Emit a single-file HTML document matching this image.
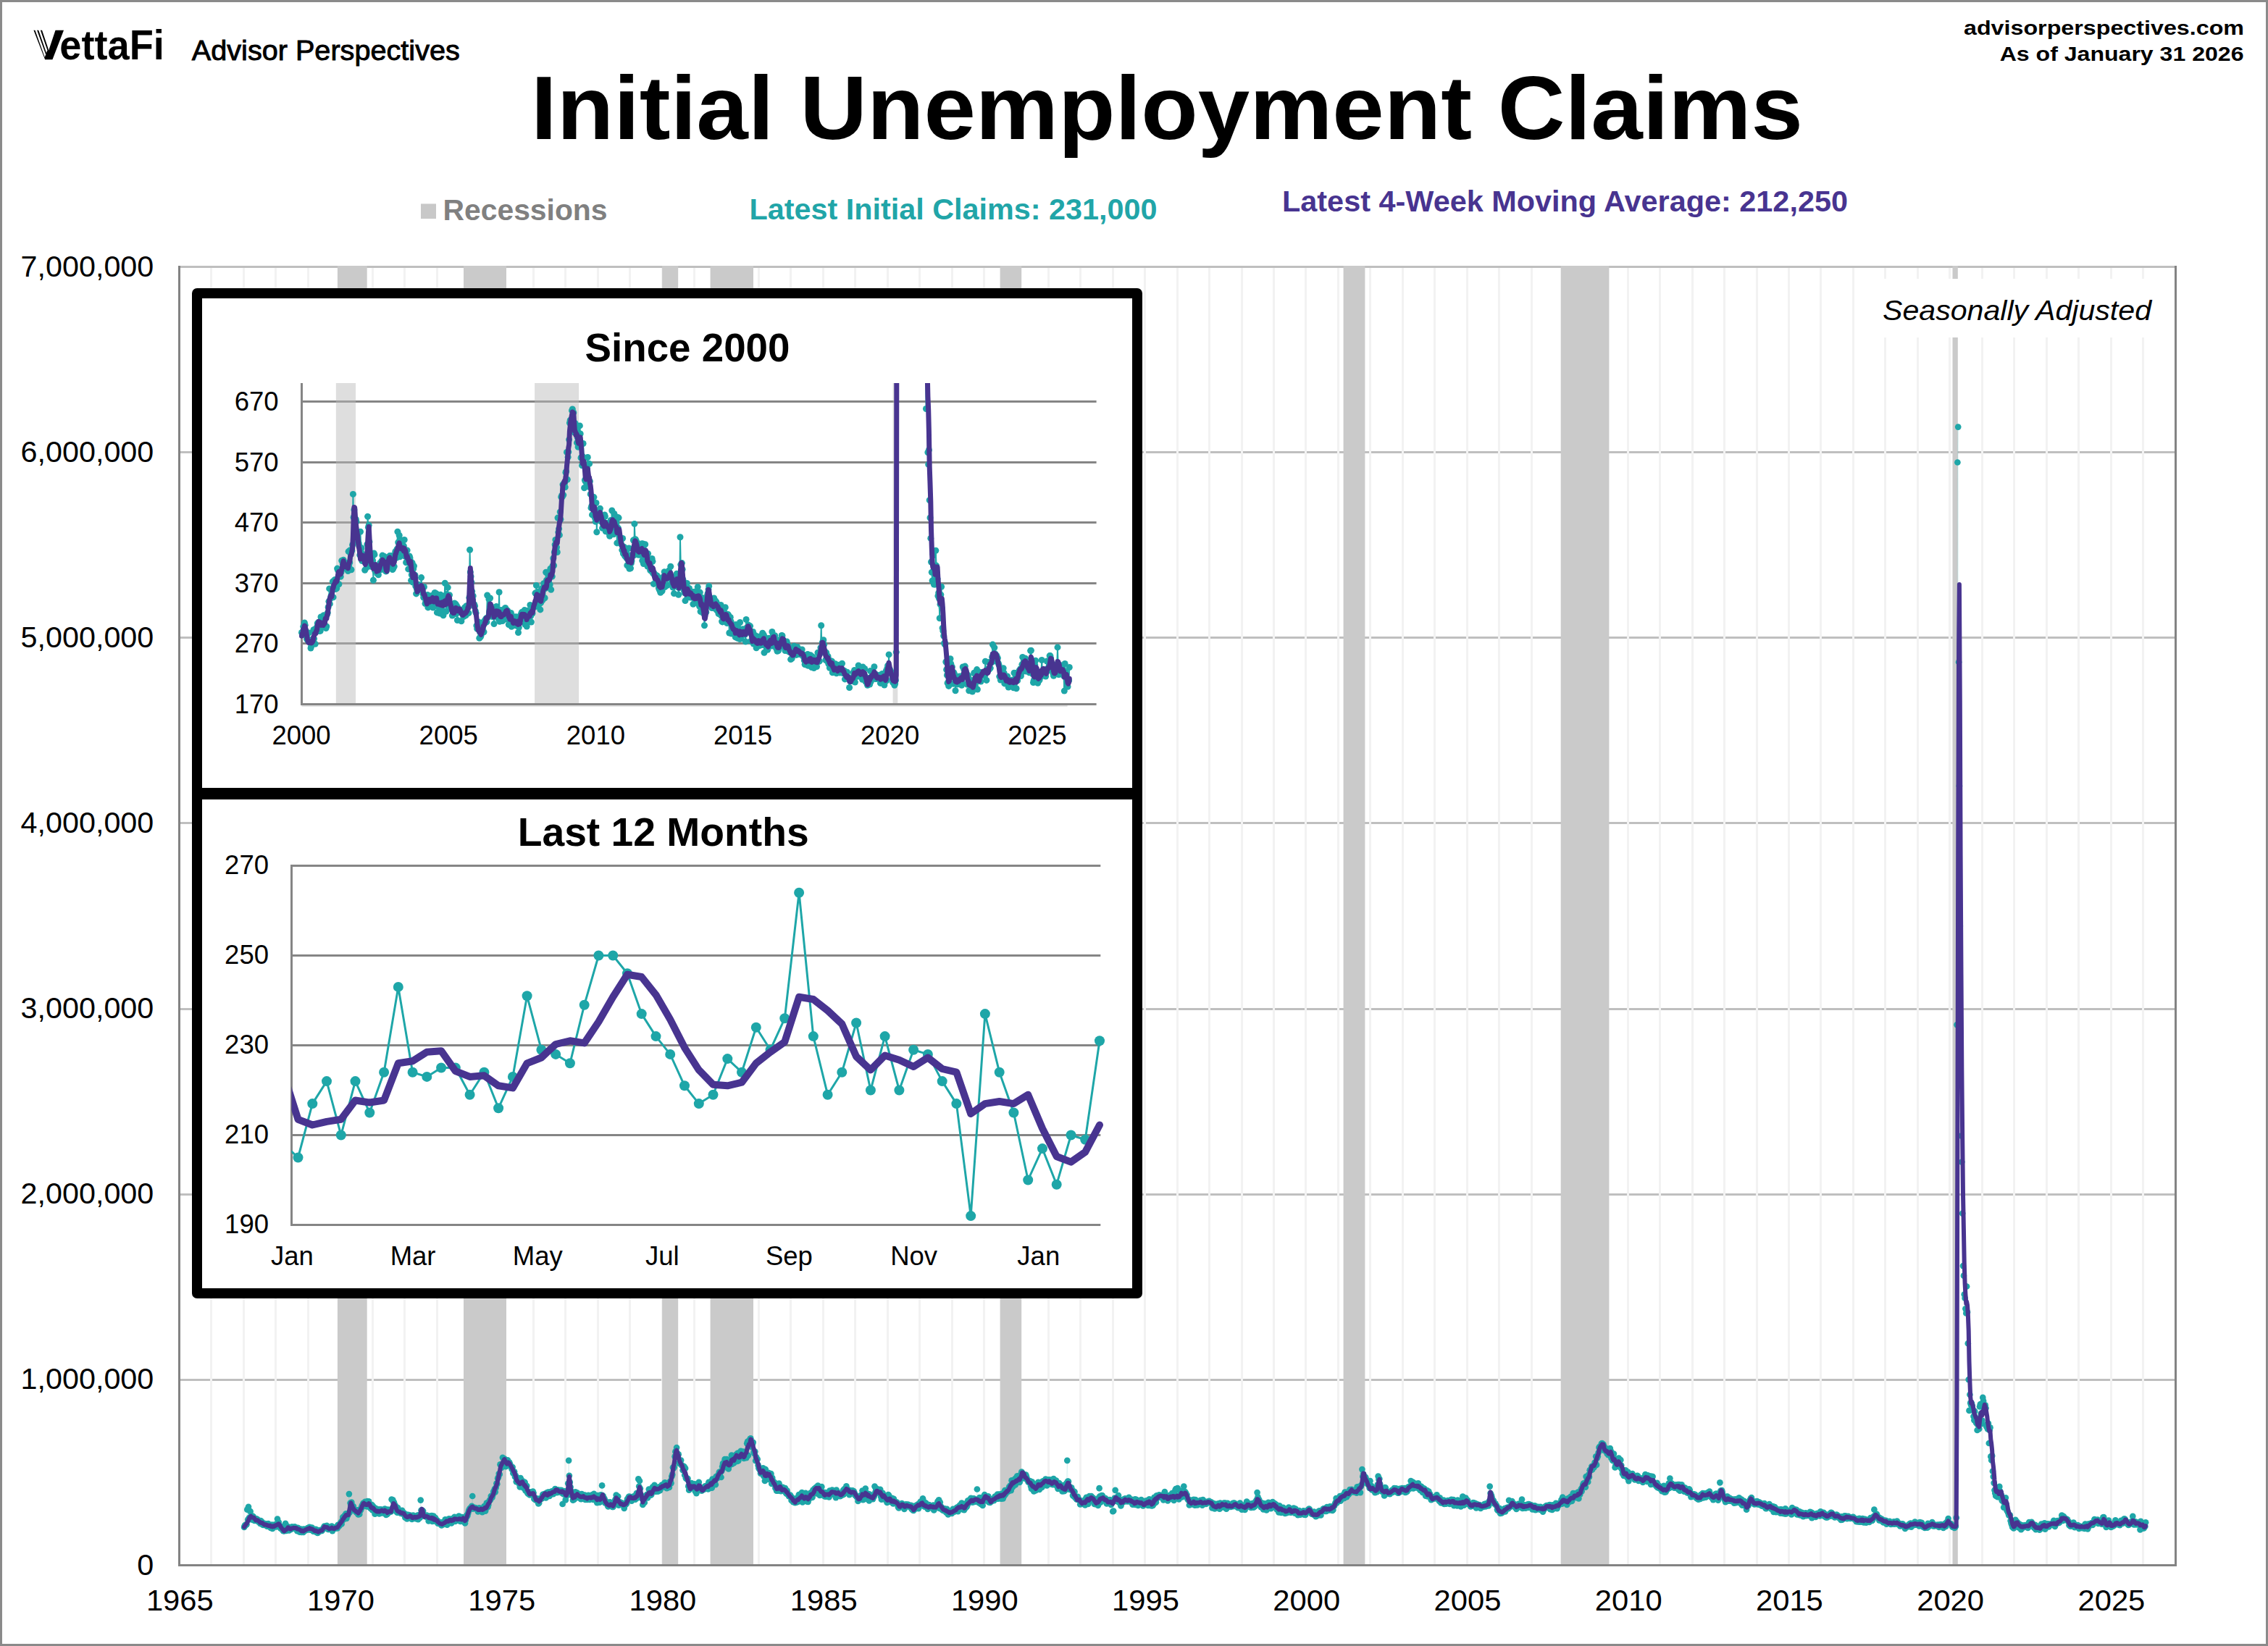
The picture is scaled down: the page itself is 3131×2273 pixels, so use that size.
<!DOCTYPE html>
<html lang="en"><head><meta charset="utf-8"><title>Initial Unemployment Claims</title>
<style>html,body{margin:0;padding:0;background:#fff}svg{display:block}</style></head>
<body>
<svg width="3131" height="2273" viewBox="0 0 3131 2273" font-family="Liberation Sans, Arial, Helvetica, sans-serif">
<defs>
<marker id="d1" viewBox="-4.35 -4.35 8.7 8.7" markerWidth="8.7" markerHeight="8.7" markerUnits="userSpaceOnUse" refX="0" refY="0" overflow="visible"><circle r="4.35" fill="#1EA6A8"/></marker>
<marker id="d2" viewBox="-4.5 -4.5 9.0 9.0" markerWidth="9.0" markerHeight="9.0" markerUnits="userSpaceOnUse" refX="0" refY="0" overflow="visible"><circle r="4.5" fill="#1EA6A8"/></marker>
<marker id="d3" viewBox="-7 -7 14 14" markerWidth="14" markerHeight="14" markerUnits="userSpaceOnUse" refX="0" refY="0" overflow="visible"><circle r="7" fill="#1EA6A8"/></marker>
<clipPath id="cA"><rect x="410.5" y="529" width="1109.1" height="451.5"/></clipPath>
<clipPath id="cB"><rect x="402.5" y="1185.5" width="1128.8" height="516.0"/></clipPath>
<clipPath id="cM"><rect x="247.5" y="368.5" width="2755.4" height="1793.0"/></clipPath>
</defs>
<rect width="3131" height="2273" fill="#fff"/>
<rect x="247.5" y="1904" width="2756" height="3" fill="#bfbfbf"/>
<rect x="247.5" y="1648" width="2756" height="3" fill="#bfbfbf"/>
<rect x="247.5" y="1392" width="2756" height="3" fill="#bfbfbf"/>
<rect x="247.5" y="1135" width="2756" height="3" fill="#bfbfbf"/>
<rect x="247.5" y="879" width="2756" height="3" fill="#bfbfbf"/>
<rect x="247.5" y="623" width="2756" height="3" fill="#bfbfbf"/>
<rect x="290" y="367" width="3" height="1794.5" fill="#f2f2f2"/>
<rect x="335" y="367" width="3" height="1794.5" fill="#f2f2f2"/>
<rect x="379" y="367" width="3" height="1794.5" fill="#f2f2f2"/>
<rect x="424" y="367" width="3" height="1794.5" fill="#f2f2f2"/>
<rect x="468" y="367" width="3" height="1794.5" fill="#f2f2f2"/>
<rect x="513" y="367" width="3" height="1794.5" fill="#f2f2f2"/>
<rect x="557" y="367" width="3" height="1794.5" fill="#f2f2f2"/>
<rect x="602" y="367" width="3" height="1794.5" fill="#f2f2f2"/>
<rect x="646" y="367" width="3" height="1794.5" fill="#f2f2f2"/>
<rect x="690" y="367" width="3" height="1794.5" fill="#f2f2f2"/>
<rect x="735" y="367" width="3" height="1794.5" fill="#f2f2f2"/>
<rect x="779" y="367" width="3" height="1794.5" fill="#f2f2f2"/>
<rect x="824" y="367" width="3" height="1794.5" fill="#f2f2f2"/>
<rect x="868" y="367" width="3" height="1794.5" fill="#f2f2f2"/>
<rect x="913" y="367" width="3" height="1794.5" fill="#f2f2f2"/>
<rect x="957" y="367" width="3" height="1794.5" fill="#f2f2f2"/>
<rect x="1001" y="367" width="3" height="1794.5" fill="#f2f2f2"/>
<rect x="1046" y="367" width="3" height="1794.5" fill="#f2f2f2"/>
<rect x="1090" y="367" width="3" height="1794.5" fill="#f2f2f2"/>
<rect x="1135" y="367" width="3" height="1794.5" fill="#f2f2f2"/>
<rect x="1179" y="367" width="3" height="1794.5" fill="#f2f2f2"/>
<rect x="1224" y="367" width="3" height="1794.5" fill="#f2f2f2"/>
<rect x="1268" y="367" width="3" height="1794.5" fill="#f2f2f2"/>
<rect x="1313" y="367" width="3" height="1794.5" fill="#f2f2f2"/>
<rect x="1357" y="367" width="3" height="1794.5" fill="#f2f2f2"/>
<rect x="1401" y="367" width="3" height="1794.5" fill="#f2f2f2"/>
<rect x="1446" y="367" width="3" height="1794.5" fill="#f2f2f2"/>
<rect x="1490" y="367" width="3" height="1794.5" fill="#f2f2f2"/>
<rect x="1535" y="367" width="3" height="1794.5" fill="#f2f2f2"/>
<rect x="1579" y="367" width="3" height="1794.5" fill="#f2f2f2"/>
<rect x="1624" y="367" width="3" height="1794.5" fill="#f2f2f2"/>
<rect x="1668" y="367" width="3" height="1794.5" fill="#f2f2f2"/>
<rect x="1713" y="367" width="3" height="1794.5" fill="#f2f2f2"/>
<rect x="1757" y="367" width="3" height="1794.5" fill="#f2f2f2"/>
<rect x="1801" y="367" width="3" height="1794.5" fill="#f2f2f2"/>
<rect x="1846" y="367" width="3" height="1794.5" fill="#f2f2f2"/>
<rect x="1890" y="367" width="3" height="1794.5" fill="#f2f2f2"/>
<rect x="1935" y="367" width="3" height="1794.5" fill="#f2f2f2"/>
<rect x="1979" y="367" width="3" height="1794.5" fill="#f2f2f2"/>
<rect x="2024" y="367" width="3" height="1794.5" fill="#f2f2f2"/>
<rect x="2068" y="367" width="3" height="1794.5" fill="#f2f2f2"/>
<rect x="2113" y="367" width="3" height="1794.5" fill="#f2f2f2"/>
<rect x="2157" y="367" width="3" height="1794.5" fill="#f2f2f2"/>
<rect x="2201" y="367" width="3" height="1794.5" fill="#f2f2f2"/>
<rect x="2246" y="367" width="3" height="1794.5" fill="#f2f2f2"/>
<rect x="2290" y="367" width="3" height="1794.5" fill="#f2f2f2"/>
<rect x="2335" y="367" width="3" height="1794.5" fill="#f2f2f2"/>
<rect x="2379" y="367" width="3" height="1794.5" fill="#f2f2f2"/>
<rect x="2424" y="367" width="3" height="1794.5" fill="#f2f2f2"/>
<rect x="2468" y="367" width="3" height="1794.5" fill="#f2f2f2"/>
<rect x="2512" y="367" width="3" height="1794.5" fill="#f2f2f2"/>
<rect x="2557" y="367" width="3" height="1794.5" fill="#f2f2f2"/>
<rect x="2601" y="367" width="3" height="1794.5" fill="#f2f2f2"/>
<rect x="2646" y="367" width="3" height="1794.5" fill="#f2f2f2"/>
<rect x="2690" y="367" width="3" height="1794.5" fill="#f2f2f2"/>
<rect x="2735" y="367" width="3" height="1794.5" fill="#f2f2f2"/>
<rect x="2779" y="367" width="3" height="1794.5" fill="#f2f2f2"/>
<rect x="2824" y="367" width="3" height="1794.5" fill="#f2f2f2"/>
<rect x="2868" y="367" width="3" height="1794.5" fill="#f2f2f2"/>
<rect x="2913" y="367" width="3" height="1794.5" fill="#f2f2f2"/>
<rect x="2957" y="367" width="3" height="1794.5" fill="#f2f2f2"/>
<rect x="247.5" y="367" width="2756" height="3" fill="#bfbfbf"/>
<rect x="465.9" y="367.0" width="40.8" height="1794.5" fill="#cacaca"/>
<rect x="640" y="367.0" width="59" height="1794.5" fill="#cacaca"/>
<rect x="914.1" y="367.0" width="22.1" height="1794.5" fill="#cacaca"/>
<rect x="980.6" y="367.0" width="59.4" height="1794.5" fill="#cacaca"/>
<rect x="1380.6" y="367.0" width="29.6" height="1794.5" fill="#cacaca"/>
<rect x="1854.6" y="367.0" width="29.8" height="1794.5" fill="#cacaca"/>
<rect x="2154.7" y="367.0" width="66.7" height="1794.5" fill="#cacaca"/>
<rect x="2695.5" y="367.0" width="7.3" height="1794.5" fill="#cacaca"/>
<polyline points="337.1,2108.9 337.9,2106.5 338.8,2106.5 339.6,2105.3 340.5,2105.1 341.3,2084.7 342.2,2098.6 343,2080.8 343.9,2096 344.7,2096.3 345.6,2087.2 346.4,2094.3 347.3,2098.5 348.1,2093.4 349,2094.4 349.8,2094.7 350.7,2099.5 351.5,2099.9 352.4,2098.4 353.2,2098.2 354.1,2097.4 354.9,2098.8 355.8,2098.5 356.6,2101.5 357.5,2100.4 358.3,2101 359.2,2103.8 360.1,2100.1 360.9,2102.9 361.8,2101.9 362.6,2105.5 363.5,2105.9 364.3,2105.4 365.2,2105.2 366,2104.1 366.9,2105 367.7,2106.5 368.6,2107.6 369.4,2107.1 370.3,2104.2 371.1,2108 372,2106.4 372.8,2106.3 373.7,2109.8 374.5,2107.4 375.4,2105.5 376.2,2110.9 377.1,2107.7 377.9,2107.1 378.8,2108 379.6,2105.4 380.5,2106.1 381.3,2108.3 382.2,2104 383,2097.5 383.9,2103.2 384.8,2102.1 385.6,2106 386.5,2107.3 387.3,2110.6 388.2,2108.2 389,2111.1 389.9,2111.6 390.7,2113.8 391.6,2114.1 392.4,2114.1 393.3,2110.6 394.1,2103.9 395,2113.8 395.8,2110.4 396.7,2107.8 397.5,2108.6 398.4,2112.8 399.2,2113.4 400.1,2109.3 400.9,2111.2 401.8,2112 402.6,2108.7 403.5,2108.6 404.3,2110.3 405.2,2110.3 406,2110.1 406.9,2108.4 407.8,2110.1 408.6,2110.4 409.5,2110.6 410.3,2114.2 411.2,2109.9 412,2110.6 412.9,2111.5 413.7,2115.6 414.6,2113.7 415.4,2111.7 416.3,2116 417.1,2113.7 418,2112.1 418.8,2115.8 419.7,2111.6 420.5,2113 421.4,2113.7 422.2,2112.5 423.1,2111.6 423.9,2112 424.8,2110 425.6,2112.5 426.5,2111.7 427.3,2108.9 428.2,2110.8 429,2112.6 429.9,2110 430.7,2109.6 431.6,2112.9 432.5,2114.7 433.3,2113.1 434.2,2113.5 435,2114.1 435.9,2111.9 436.7,2115.9 437.6,2112.8 438.4,2116.9 439.3,2116.2 440.1,2113.9 441,2113 441.8,2113.3 442.7,2113.9 443.5,2114 444.4,2113.9 445.2,2111.9 446.1,2111.7 446.9,2109.6 447.8,2107.7 448.6,2108.9 449.5,2108 450.3,2108.8 451.2,2106.9 452,2110.1 452.9,2111.8 453.7,2111.8 454.6,2111.1 455.4,2109.5 456.3,2111.4 457.2,2110.1 458,2107.7 458.9,2114.1 459.7,2112.3 460.6,2109.9 461.4,2109.5 462.3,2109.7 463.1,2110.7 464,2108.8 464.8,2109.3 465.7,2110.5 466.5,2105.9 467.4,2107.4 468.2,2107.4 469.1,2105.1 469.9,2103.8 470.8,2101.9 471.6,2104.5 472.5,2099.6 473.3,2095 474.2,2098.5 475,2095.6 475.9,2092.8 476.7,2092.4 477.6,2090.4 478.4,2096.8 479.3,2093.2 480.1,2092.6 481,2089.8 481.9,2063.1 482.7,2088.6 483.6,2075.5 484.4,2078.4 485.3,2074.6 486.1,2082.6 487,2080.4 487.8,2080 488.7,2085.5 489.5,2085.6 490.4,2085 491.2,2087.3 492.1,2088.6 492.9,2085.6 493.8,2087.6 494.6,2091.4 495.5,2085 496.3,2090.9 497.2,2084.3 498,2085.3 498.9,2082.6 499.7,2079.3 500.6,2078.7 501.4,2075.8 502.3,2079.9 503.1,2079.5 504,2073.9 504.8,2078.5 505.7,2078.9 506.6,2080.3 507.4,2073.1 508.3,2074.8 509.1,2073.4 510,2080.8 510.8,2079.3 511.7,2083.2 512.5,2079.2 513.4,2078.1 514.2,2085.3 515.1,2080.2 515.9,2082.6 516.8,2086 517.6,2090.7 518.5,2082.8 519.3,2086.8 520.2,2088.3 521,2086.2 521.9,2086.5 522.7,2084.3 523.6,2090.5 524.4,2085.5 525.3,2084.5 526.1,2084.5 527,2088.2 527.8,2089.4 528.7,2085 529.5,2087.1 530.4,2086.9 531.3,2083.7 532.1,2087.5 533,2092 533.8,2087.6 534.7,2090.9 535.5,2084.6 536.4,2086.1 537.2,2088.5 538.1,2087.3 538.9,2085.5 539.8,2087.5 540.6,2070.6 541.5,2082.8 542.3,2071.3 543.2,2074.3 544,2074.9 544.9,2081.8 545.7,2078.8 546.6,2086.7 547.4,2085.6 548.3,2088.7 549.1,2082.1 550,2088.7 550.8,2086.6 551.7,2087.9 552.5,2088.1 553.4,2090 554.3,2088.7 555.1,2085.8 556,2090.4 556.8,2089.9 557.7,2089.4 558.5,2092.7 559.4,2095.7 560.2,2094.7 561.1,2091.6 561.9,2097.5 562.8,2095.3 563.6,2091.9 564.5,2092.5 565.3,2094.2 566.2,2092.6 567,2094 567.9,2097 568.7,2097.9 569.6,2096 570.4,2092.6 571.3,2095.6 572.1,2096.2 573,2095.8 573.8,2097.2 574.7,2094 575.5,2096.2 576.4,2092.6 577.2,2098.1 578.1,2092.4 579,2094.4 579.8,2095.8 580.7,2071.6 581.5,2085.6 582.4,2087.2 583.2,2085.9 584.1,2086.8 584.9,2092.3 585.8,2093 586.6,2093.3 587.5,2093.7 588.3,2094.6 589.2,2092.6 590,2094.3 590.9,2094.9 591.7,2100.4 592.6,2094.4 593.4,2093.7 594.3,2097.3 595.1,2097.8 596,2093.1 596.8,2100.9 597.7,2096.5 598.5,2093.6 599.4,2100.5 600.2,2097.8 601.1,2096 601.9,2100.5 602.8,2099.8 603.7,2099.7 604.5,2103.7 605.4,2102.7 606.2,2102.6 607.1,2102.2 607.9,2104.3 608.8,2105.2 609.6,2106.4 610.5,2104.9 611.3,2102.2 612.2,2103.3 613,2104.8 613.9,2104.4 614.7,2098.3 615.6,2099.9 616.4,2100.5 617.3,2105.6 618.1,2099.9 619,2099.9 619.8,2097.3 620.7,2099.5 621.5,2100.2 622.4,2098.8 623.2,2103.5 624.1,2097.3 624.9,2098.5 625.8,2100.3 626.6,2096 627.5,2094.8 628.4,2101 629.2,2099.3 630.1,2097.1 630.9,2097.1 631.8,2098.4 632.6,2099.7 633.5,2093.5 634.3,2095.9 635.2,2100.6 636,2101 636.9,2095 637.7,2096.6 638.6,2095 639.4,2097.2 640.3,2100.7 641.1,2098.6 642,2103.5 642.8,2099.1 643.7,2095.7 644.5,2092.3 645.4,2093.1 646.2,2089.7 647.1,2086.3 647.9,2084.5 648.8,2082.9 649.6,2083.1 650.5,2083.5 651.3,2079.8 652.2,2066 653.1,2083.3 653.9,2083.1 654.8,2081.9 655.6,2082.6 656.5,2082.3 657.3,2083.1 658.2,2083 659,2084.2 659.9,2087.3 660.7,2083.6 661.6,2082.4 662.4,2084.3 663.3,2085.5 664.1,2083.4 665,2086.4 665.8,2088.2 666.7,2082.8 667.5,2084.8 668.4,2080 669.2,2084.2 670.1,2086.6 670.9,2083.1 671.8,2075.7 672.6,2079.6 673.5,2080.9 674.3,2078 675.2,2073.1 676.1,2071.7 676.9,2071.3 677.8,2066.1 678.6,2067 679.5,2067.8 680.3,2064.6 681.2,2059.9 682,2059.2 682.9,2056.1 683.7,2060.3 684.6,2054.4 685.4,2048.5 686.3,2049.3 687.1,2041.5 688,2039.9 688.8,2035 689.7,2035.9 690.5,2022.4 691.4,2022.7 692.2,2027 693.1,2023.9 693.9,2012.8 694.8,2022.4 695.6,2015.1 696.5,2014.5 697.3,2019.4 698.2,2025.2 699,2019.6 699.9,2019.3 700.8,2016.3 701.6,2018.4 702.5,2022.3 703.3,2019.7 704.2,2022.2 705,2024.8 705.9,2026.5 706.7,2028.9 707.6,2026.1 708.4,2034.5 709.3,2033.8 710.1,2032.3 711,2039.4 711.8,2037.6 712.7,2046.1 713.5,2043.2 714.4,2040.8 715.2,2043.2 716.1,2047.9 716.9,2049.1 717.8,2053.4 718.6,2041.1 719.5,2046.4 720.3,2044.3 721.2,2051.5 722,2049 722.9,2054.9 723.7,2046.6 724.6,2047.2 725.5,2058.4 726.3,2053.1 727.2,2051.9 728,2061.2 728.9,2062.6 729.7,2061.1 730.6,2060.8 731.4,2064.4 732.3,2060.6 733.1,2060.8 734,2060.5 734.8,2061.2 735.7,2059.6 736.5,2061.6 737.4,2070 738.2,2068.4 739.1,2070.9 739.9,2071.7 740.8,2069.6 741.6,2070.2 742.5,2069.6 743.3,2076.4 744.2,2075.5 745,2071 745.9,2070.5 746.7,2069.9 747.6,2068.1 748.4,2069.2 749.3,2063.8 750.2,2063.8 751,2064.2 751.9,2065.1 752.7,2062.5 753.6,2068.4 754.4,2064.5 755.3,2061.2 756.1,2066.2 757,2060.7 757.8,2060.9 758.7,2065.8 759.5,2062.2 760.4,2062.4 761.2,2059.9 762.1,2059.4 762.9,2061.2 763.8,2063.2 764.6,2060.3 765.5,2059.4 766.3,2056.1 767.2,2056.9 768,2059.7 768.9,2061.2 769.7,2057.3 770.6,2058.6 771.4,2060.5 772.3,2057.9 773.1,2059.8 774,2058.6 774.9,2057.9 775.7,2061.7 776.6,2077 777.4,2062.8 778.3,2059 779.1,2062.8 780,2060.4 780.8,2071.4 781.7,2066.4 782.5,2061.4 783.4,2058.3 784.2,2048.6 785.1,2016.8 785.9,2037.8 786.8,2046.9 787.6,2053.5 788.5,2059.4 789.3,2064.7 790.2,2065.8 791,2071.7 791.9,2064.5 792.7,2070.7 793.6,2066.4 794.4,2060.3 795.3,2066.9 796.1,2065.7 797,2061.7 797.8,2065 798.7,2068.1 799.6,2065.4 800.4,2065 801.3,2065.2 802.1,2070.2 803,2063.2 803.8,2063.8 804.7,2068.7 805.5,2068 806.4,2070 807.2,2064.6 808.1,2070.9 808.9,2066.8 809.8,2070.2 810.6,2070.8 811.5,2066.6 812.3,2064.8 813.2,2068.8 814,2070.8 814.9,2066.4 815.7,2068.9 816.6,2067.9 817.4,2064.4 818.3,2065.7 819.1,2070.8 820,2062.9 820.8,2069.5 821.7,2067.3 822.6,2071.7 823.4,2070 824.3,2075.2 825.1,2065 826,2066.3 826.8,2074 827.7,2074.7 828.5,2073.8 829.4,2064.3 830.2,2068 831.1,2051.4 831.9,2065.2 832.8,2066.4 833.6,2071 834.5,2069.5 835.3,2075.5 836.2,2073.3 837,2074 837.9,2075.3 838.7,2078.6 839.6,2080.5 840.4,2077.8 841.3,2079.7 842.1,2074.3 843,2076.6 843.8,2079 844.7,2080.1 845.5,2080.8 846.4,2080.9 847.3,2077.8 848.1,2074.4 849,2072.1 849.8,2070.3 850.7,2064.6 851.5,2073.4 852.4,2072 853.2,2066.5 854.1,2078.7 854.9,2075.6 855.8,2074.4 856.6,2075.2 857.5,2075.2 858.3,2077.7 859.2,2076.7 860,2078.3 860.9,2076.8 861.7,2082.8 862.6,2079 863.4,2075.4 864.3,2077.1 865.1,2076 866,2070.1 866.8,2072.7 867.7,2067.7 868.5,2066.5 869.4,2067.8 870.2,2067.1 871.1,2068.8 872,2072.6 872.8,2068.5 873.7,2066.9 874.5,2069.8 875.4,2068.4 876.2,2065.8 877.1,2070.6 877.9,2066 878.8,2062.2 879.6,2068.7 880.5,2063.4 881.3,2042.4 882.2,2052.5 883,2045 883.9,2055.6 884.7,2064.3 885.6,2065.8 886.4,2069.3 887.3,2077.9 888.1,2068.2 889,2068.5 889.8,2075 890.7,2066.5 891.5,2067.9 892.4,2064.9 893.2,2063.9 894.1,2068.5 894.9,2063.3 895.8,2056.6 896.7,2062.9 897.5,2064 898.4,2064.7 899.2,2063.9 900.1,2058.5 900.9,2053.7 901.8,2057.5 902.6,2057.7 903.5,2050.9 904.3,2059.6 905.2,2059.7 906,2055.2 906.9,2054.6 907.7,2059.3 908.6,2059.3 909.4,2053.8 910.3,2053.4 911.1,2058.2 912,2053.9 912.8,2054.5 913.7,2050.5 914.5,2052.3 915.4,2052.3 916.2,2053.3 917.1,2048.5 917.9,2047.4 918.8,2053.6 919.6,2049.5 920.5,2055.2 921.4,2052.4 922.2,2050.1 923.1,2047.5 923.9,2054 924.8,2049.5 925.6,2045.1 926.5,2048.1 927.3,2038.9 928.2,2036.4 929,2026.5 929.9,2027.6 930.7,2026.2 931.6,2011.3 932.4,2004.7 933.3,2003.9 934.1,1999 935,2007.3 935.8,2011.3 936.7,2008.4 937.5,2020.6 938.4,2018.7 939.2,2018 940.1,2016.5 940.9,2023.4 941.8,2023.8 942.6,2030.2 943.5,2028.4 944.4,2025.1 945.2,2037 946.1,2027.7 946.9,2041.3 947.8,2041 948.6,2042.7 949.5,2041.8 950.3,2052.4 951.2,2057.7 952,2050.3 952.9,2052 953.7,2053.5 954.6,2048.1 955.4,2054.7 956.3,2054.4 957.1,2052 958,2053.8 958.8,2049.3 959.7,2059.1 960.5,2056 961.4,2062.1 962.2,2051.7 963.1,2055.7 963.9,2051.1 964.8,2046.8 965.6,2054.1 966.5,2054.8 967.3,2056.4 968.2,2058.4 969.1,2058.5 969.9,2055.1 970.8,2057 971.6,2056.3 972.5,2056.5 973.3,2052.3 974.2,2053.1 975,2054.7 975.9,2051.4 976.7,2053.6 977.6,2056.5 978.4,2046.9 979.3,2049.7 980.1,2054.2 981,2046.4 981.8,2048.4 982.7,2054.7 983.5,2042.7 984.4,2046.7 985.2,2044.1 986.1,2046.1 986.9,2046.4 987.8,2050.2 988.6,2039.2 989.5,2041.3 990.3,2041.1 991.2,2037.1 992,2036.7 992.9,2032.8 993.8,2035.6 994.6,2032.7 995.5,2040 996.3,2031.4 997.2,2025.3 998,2020.9 998.9,2026.8 999.7,2024.3 1000.6,2015.2 1001.4,2022.3 1002.3,2018 1003.1,2015.2 1004,2023.8 1004.8,2020 1005.7,2028.5 1006.5,2023.3 1007.4,2023.5 1008.2,2021.5 1009.1,2015.7 1009.9,2009.7 1010.8,2021.6 1011.6,2020.1 1012.5,2014 1013.3,2020.1 1014.2,2011.6 1015,2010.1 1015.9,2013 1016.7,2008.4 1017.6,2018 1018.5,2006.5 1019.3,2017.2 1020.2,2012.7 1021,2011.6 1021.9,2010.5 1022.7,2003.9 1023.6,2007.3 1024.4,2010.6 1025.3,2007.8 1026.1,2004.7 1027,2014 1027.8,2012.2 1028.7,2005.5 1029.5,2007.8 1030.4,2013.1 1031.2,1993.3 1032.1,1990.7 1032.9,2009.8 1033.8,1997.4 1034.6,1992.6 1035.5,1987.2 1036.3,1986.3 1037.2,1991.6 1038,1998.2 1038.9,1994.3 1039.7,1991.8 1040.6,2005.2 1041.4,2007.2 1042.3,2004.6 1043.2,2017.2 1044,2012.1 1044.9,2016 1045.7,2015 1046.6,2023.4 1047.4,2027.3 1048.3,2028.3 1049.1,2029.9 1050,2034.6 1050.8,2032.4 1051.7,2030 1052.5,2028.8 1053.4,2027.4 1054.2,2038.1 1055.1,2037.2 1055.9,2044.9 1056.8,2029.1 1057.6,2039.8 1058.5,2036.7 1059.3,2034.2 1060.2,2041.5 1061,2033.8 1061.9,2035.5 1062.7,2043.1 1063.6,2036.7 1064.4,2035.2 1065.3,2049 1066.2,2040.9 1067,2045.2 1067.9,2046.3 1068.7,2048.4 1069.6,2047.5 1070.4,2054.9 1071.3,2053.2 1072.1,2058.7 1073,2054.2 1073.8,2058.7 1074.7,2055.6 1075.5,2048.6 1076.4,2052.5 1077.2,2055.1 1078.1,2059.1 1078.9,2058.5 1079.8,2055.8 1080.6,2053.9 1081.5,2056.3 1082.3,2056.6 1083.2,2059.1 1084,2055.2 1084.9,2061.4 1085.7,2062.6 1086.6,2058.6 1087.4,2062.2 1088.3,2064.3 1089.1,2066.2 1090,2066.2 1090.9,2064.5 1091.7,2066.3 1092.6,2071.9 1093.4,2068.1 1094.3,2069.8 1095.1,2074.2 1096,2070 1096.8,2074 1097.7,2075.1 1098.5,2071.3 1099.4,2069.2 1100.2,2074.3 1101.1,2070.5 1101.9,2073.7 1102.8,2064.2 1103.6,2071.5 1104.5,2065.9 1105.3,2070.8 1106.2,2065.9 1107,2061.2 1107.9,2074.4 1108.7,2069.2 1109.6,2066.5 1110.4,2068.4 1111.3,2070.2 1112.1,2061.9 1113,2068.2 1113.8,2073.4 1114.7,2066.1 1115.6,2073.8 1116.4,2065.3 1117.3,2069.4 1118.1,2066.1 1119,2061.6 1119.8,2064.1 1120.7,2067.8 1121.5,2067.7 1122.4,2057.5 1123.2,2057.9 1124.1,2061.9 1124.9,2055.3 1125.8,2055.4 1126.6,2053.9 1127.5,2062.5 1128.3,2055 1129.2,2051.7 1130,2053.3 1130.9,2053.7 1131.7,2064.9 1132.6,2057.9 1133.4,2057.8 1134.3,2053.2 1135.1,2064.3 1136,2063.2 1136.8,2063 1137.7,2061.2 1138.5,2066.3 1139.4,2061 1140.3,2066.7 1141.1,2063.1 1142,2065.2 1142.8,2062.7 1143.7,2065 1144.5,2067.5 1145.4,2058.6 1146.2,2060.8 1147.1,2063.2 1147.9,2060.4 1148.8,2057.5 1149.6,2063.5 1150.5,2060.9 1151.3,2059 1152.2,2059.3 1153,2062.2 1153.9,2068.1 1154.7,2057.6 1155.6,2060.8 1156.4,2062 1157.3,2063.1 1158.1,2061.6 1159,2064 1159.8,2066.1 1160.7,2065.4 1161.5,2064.3 1162.4,2063.5 1163.2,2064.5 1164.1,2057.9 1165,2063.4 1165.8,2056.1 1166.7,2060.9 1167.5,2055.6 1168.4,2052.4 1169.2,2056.6 1170.1,2060 1170.9,2057.7 1171.8,2057.6 1172.6,2064.1 1173.5,2060.7 1174.3,2058.4 1175.2,2060.7 1176,2059.6 1176.9,2058.3 1177.7,2059 1178.6,2059.3 1179.4,2061.1 1180.3,2064.7 1181.1,2064.6 1182,2066.2 1182.8,2067.1 1183.7,2067.5 1184.5,2072.9 1185.4,2069.5 1186.2,2068.4 1187.1,2070.6 1187.9,2067 1188.8,2064.7 1189.7,2066.1 1190.5,2058.5 1191.4,2071.1 1192.2,2064.3 1193.1,2068.7 1193.9,2059.1 1194.8,2055.5 1195.6,2070 1196.5,2063.1 1197.3,2062.4 1198.2,2065.5 1199,2063.4 1199.9,2072.3 1200.7,2063.5 1201.6,2065.5 1202.4,2067 1203.3,2069.4 1204.1,2066.2 1205,2070.1 1205.8,2066.5 1206.7,2066.6 1207.5,2052.6 1208.4,2060.8 1209.2,2057.8 1210.1,2055.5 1210.9,2061.7 1211.8,2059.8 1212.7,2058.5 1213.5,2060.9 1214.4,2058.3 1215.2,2056.8 1216.1,2066.8 1216.9,2070.7 1217.8,2063 1218.6,2061.9 1219.5,2064.6 1220.3,2065.5 1221.2,2070.1 1222,2070.8 1222.9,2066.4 1223.7,2072 1224.6,2075 1225.4,2073 1226.3,2064 1227.1,2065.2 1228,2073.1 1228.8,2073.6 1229.7,2071.2 1230.5,2074.3 1231.4,2068.8 1232.2,2073.1 1233.1,2076.3 1233.9,2069.9 1234.8,2075.6 1235.6,2073.7 1236.5,2074.7 1237.4,2075.9 1238.2,2074.5 1239.1,2077.6 1239.9,2081.1 1240.8,2082.4 1241.6,2080.2 1242.5,2079.1 1243.3,2077.3 1244.2,2077.3 1245,2076.1 1245.9,2077.5 1246.7,2080.1 1247.6,2080.1 1248.4,2084 1249.3,2079 1250.1,2077.5 1251,2077.5 1251.8,2079.6 1252.7,2080.1 1253.5,2077.6 1254.4,2080.4 1255.2,2079 1256.1,2079.8 1256.9,2081.2 1257.8,2078.8 1258.6,2084 1259.5,2083.9 1260.3,2085.4 1261.2,2085.8 1262.1,2080.3 1262.9,2079.7 1263.8,2083.3 1264.6,2081.2 1265.5,2078.9 1266.3,2079.2 1267.2,2077.4 1268,2083.1 1268.9,2080.8 1269.7,2077.2 1270.6,2073.8 1271.4,2076.7 1272.3,2078.6 1273.1,2076.6 1274,2069.3 1274.8,2079.1 1275.7,2073.8 1276.5,2080.6 1277.4,2080 1278.2,2075.6 1279.1,2079.2 1279.9,2081.7 1280.8,2084 1281.6,2081.4 1282.5,2078.2 1283.3,2080.7 1284.2,2079 1285,2081.8 1285.9,2080.7 1286.8,2082.4 1287.6,2080.8 1288.5,2078.5 1289.3,2085.4 1290.2,2081.8 1291,2080.6 1291.9,2082.2 1292.7,2080.9 1293.6,2077.5 1294.4,2073.7 1295.3,2076.7 1296.1,2071.3 1297,2083 1297.8,2074.6 1298.7,2080.1 1299.5,2081.1 1300.4,2084.6 1301.2,2082.6 1302.1,2085.9 1302.9,2083.7 1303.8,2083.4 1304.6,2085.2 1305.5,2085.3 1306.3,2088.7 1307.2,2083.8 1308,2088.8 1308.9,2091.5 1309.7,2087.7 1310.6,2089 1311.5,2089.6 1312.3,2088.1 1313.2,2086.5 1314,2090 1314.9,2087.5 1315.7,2083.8 1316.6,2085.6 1317.4,2087.6 1318.3,2086.7 1319.1,2086.2 1320,2085 1320.8,2081.9 1321.7,2082.9 1322.5,2087.2 1323.4,2080.5 1324.2,2082.2 1325.1,2078.5 1325.9,2082.1 1326.8,2080.5 1327.6,2075.6 1328.5,2084.2 1329.3,2083.9 1330.2,2083.8 1331,2085.1 1331.9,2083.4 1332.7,2076.5 1333.6,2078.4 1334.5,2080.9 1335.3,2079 1336.2,2072.3 1337,2075.6 1337.9,2074.7 1338.7,2072.9 1339.6,2070.3 1340.4,2068.9 1341.3,2071.6 1342.1,2074.3 1343,2074.4 1343.8,2069.3 1344.7,2069.7 1345.5,2074 1346.4,2071.2 1347.2,2071.1 1348.1,2071.2 1348.9,2056.5 1349.8,2074 1350.6,2071.2 1351.5,2075.1 1352.3,2068.1 1353.2,2071.1 1354,2077 1354.9,2070.7 1355.7,2072.3 1356.6,2078.9 1357.4,2067.1 1358.3,2068.8 1359.2,2064 1360,2072.5 1360.9,2066.2 1361.7,2067 1362.6,2068.1 1363.4,2068.6 1364.3,2066.4 1365.1,2074.3 1366,2074 1366.8,2074.9 1367.7,2072.9 1368.5,2073.3 1369.4,2070.1 1370.2,2070.1 1371.1,2070.4 1371.9,2072.1 1372.8,2071.1 1373.6,2066.7 1374.5,2066.9 1375.3,2068.5 1376.2,2069.5 1377,2063.5 1377.9,2069.6 1378.7,2065.6 1379.6,2063.7 1380.4,2067.7 1381.3,2064.1 1382.1,2069.7 1383,2062.8 1383.9,2064.5 1384.7,2069.3 1385.6,2061.5 1386.4,2065.7 1387.3,2058 1388.1,2063.5 1389,2061.1 1389.8,2058.8 1390.7,2060.1 1391.5,2057.4 1392.4,2059.2 1393.2,2053.3 1394.1,2053.8 1394.9,2051.3 1395.8,2058.1 1396.6,2044.4 1397.5,2046.7 1398.3,2053.1 1399.2,2046.1 1400,2044.8 1400.9,2042.6 1401.7,2050.5 1402.6,2040.8 1403.4,2047.1 1404.3,2038.4 1405.1,2047 1406,2042.7 1406.8,2045.3 1407.7,2046.8 1408.6,2037 1409.4,2036.4 1410.3,2032.6 1411.1,2033.9 1412,2038.3 1412.8,2041.4 1413.7,2036.2 1414.5,2038 1415.4,2040.4 1416.2,2036.6 1417.1,2039.4 1417.9,2043.5 1418.8,2043.6 1419.6,2046.6 1420.5,2046.3 1421.3,2045.2 1422.2,2045.3 1423,2052.1 1423.9,2055.8 1424.7,2046.3 1425.6,2051.8 1426.4,2049.2 1427.3,2059.5 1428.1,2054.9 1429,2053.4 1429.8,2058.2 1430.7,2054.8 1431.5,2050.3 1432.4,2048.8 1433.3,2046.8 1434.1,2055.1 1435,2056.8 1435.8,2049.4 1436.7,2047.3 1437.5,2049.3 1438.4,2054 1439.2,2045.9 1440.1,2045.3 1440.9,2045.5 1441.8,2048.7 1442.6,2045.2 1443.5,2042.7 1444.3,2047.1 1445.2,2051.4 1446,2043.8 1446.9,2043.7 1447.7,2046 1448.6,2043.3 1449.4,2049.2 1450.3,2047.9 1451.1,2049.2 1452,2046.5 1452.8,2043.1 1453.7,2050.1 1454.5,2042.2 1455.4,2044.5 1456.2,2047.5 1457.1,2048.6 1458,2044.7 1458.8,2052 1459.7,2052.1 1460.5,2055.8 1461.4,2050.8 1462.2,2048.1 1463.1,2051.3 1463.9,2052 1464.8,2054.4 1465.6,2053.5 1466.5,2059.3 1467.3,2051.1 1468.2,2056.4 1469,2059.1 1469.9,2058.2 1470.7,2057.4 1471.6,2050.2 1472.4,2048.1 1473.3,2016.8 1474.1,2045.6 1475,2045.8 1475.8,2052.3 1476.7,2056.8 1477.5,2055.4 1478.4,2056.3 1479.2,2054.3 1480.1,2058.1 1481,2065.1 1481.8,2059.2 1482.7,2066.4 1483.5,2060.1 1484.4,2068.2 1485.2,2068.1 1486.1,2070.1 1486.9,2070.6 1487.8,2066.8 1488.6,2069.6 1489.5,2070.9 1490.3,2072 1491.2,2077.5 1492,2074.9 1492.9,2075.3 1493.7,2076.8 1494.6,2072.5 1495.4,2075.7 1496.3,2075.2 1497.1,2075.8 1498,2078.3 1498.8,2070.3 1499.7,2067.8 1500.5,2070.8 1501.4,2073.7 1502.2,2076.9 1503.1,2069.6 1503.9,2066.1 1504.8,2068.9 1505.7,2067.4 1506.5,2066.2 1507.4,2067.6 1508.2,2072.6 1509.1,2068.7 1509.9,2069.8 1510.8,2076.8 1511.6,2074 1512.5,2077.2 1513.3,2073.9 1514.2,2072.4 1515,2076.7 1515.9,2078.8 1516.7,2068.5 1517.6,2055.2 1518.4,2066.4 1519.3,2074.6 1520.1,2067.8 1521,2065.1 1521.8,2065.4 1522.7,2072 1523.5,2070.8 1524.4,2072.2 1525.2,2069.1 1526.1,2069.1 1526.9,2072 1527.8,2076.5 1528.6,2071.1 1529.5,2075.1 1530.4,2072.6 1531.2,2074.2 1532.1,2071 1532.9,2072.9 1533.8,2077.8 1534.6,2076.2 1535.5,2073 1536.3,2087.2 1537.2,2086.5 1538,2070.5 1538.9,2068.6 1539.7,2057.8 1540.6,2072.9 1541.4,2071.8 1542.3,2068.4 1543.1,2069.1 1544,2065 1544.8,2074.9 1545.7,2070.3 1546.5,2072.5 1547.4,2079.5 1548.2,2076.5 1549.1,2073.1 1549.9,2074.4 1550.8,2072.8 1551.6,2070.4 1552.5,2073.4 1553.3,2069.3 1554.2,2072.8 1555.1,2072.8 1555.9,2070 1556.8,2073.4 1557.6,2071.3 1558.5,2067.8 1559.3,2072.6 1560.2,2073.4 1561,2071.2 1561.9,2074.6 1562.7,2070.8 1563.6,2077.7 1564.4,2072.7 1565.3,2076.2 1566.1,2077.3 1567,2070.4 1567.8,2077.8 1568.7,2070.8 1569.5,2074 1570.4,2072.1 1571.2,2078.9 1572.1,2073.1 1572.9,2072.6 1573.8,2077.1 1574.6,2077.3 1575.5,2071.2 1576.3,2076.9 1577.2,2078.7 1578,2079.4 1578.9,2076.7 1579.8,2077 1580.6,2077.1 1581.5,2072.6 1582.3,2077.8 1583.2,2075.4 1584,2072.4 1584.9,2078.8 1585.7,2072.9 1586.6,2070.4 1587.4,2078.9 1588.3,2077.9 1589.1,2077.4 1590,2079.4 1590.8,2072.6 1591.7,2078.8 1592.5,2071.7 1593.4,2067.8 1594.2,2075.6 1595.1,2070.8 1595.9,2074.5 1596.8,2065.4 1597.6,2069 1598.5,2067.3 1599.3,2066.1 1600.2,2064.4 1601,2067 1601.9,2065.7 1602.8,2067.2 1603.6,2064.9 1604.5,2068.7 1605.3,2064.8 1606.2,2071.3 1607,2067.1 1607.9,2060.1 1608.7,2066 1609.6,2070.4 1610.4,2066.1 1611.3,2070.1 1612.1,2072.5 1613,2069.9 1613.8,2065.2 1614.7,2066 1615.5,2067.2 1616.4,2069.5 1617.2,2069.7 1618.1,2062 1618.9,2065.1 1619.8,2068.5 1620.6,2071.8 1621.5,2069.3 1622.3,2058.3 1623.2,2056 1624,2066.2 1624.9,2065.8 1625.7,2055.2 1626.6,2067.9 1627.5,2070.3 1628.3,2068.4 1629.2,2058.9 1630,2065.6 1630.9,2059.5 1631.7,2067.5 1632.6,2063 1633.4,2061.3 1634.3,2052.6 1635.1,2065.7 1636,2060.2 1636.8,2061.1 1637.7,2066.2 1638.5,2064.1 1639.4,2069.9 1640.2,2071.2 1641.1,2070.5 1641.9,2078.4 1642.8,2072.9 1643.6,2075.7 1644.5,2077.3 1645.3,2074.7 1646.2,2071.6 1647,2075.2 1647.9,2070.8 1648.7,2077.9 1649.6,2078.6 1650.4,2071 1651.3,2074.5 1652.2,2073.3 1653,2078.4 1653.9,2073.8 1654.7,2075.1 1655.6,2073.8 1656.4,2075.3 1657.3,2071.8 1658.1,2076.8 1659,2077.4 1659.8,2078.6 1660.7,2071.1 1661.5,2076.2 1662.4,2076.8 1663.2,2076.3 1664.1,2074.7 1664.9,2076.8 1665.8,2073.8 1666.6,2074.6 1667.5,2074.1 1668.3,2075.1 1669.2,2072.9 1670,2075 1670.9,2074.1 1671.7,2074.4 1672.6,2074.8 1673.4,2082.4 1674.3,2078.6 1675.1,2079.9 1676,2076.4 1676.9,2083.3 1677.7,2081.7 1678.6,2080.4 1679.4,2080.4 1680.3,2076.8 1681.1,2080.5 1682,2076.7 1682.8,2082.9 1683.7,2083.7 1684.5,2075.6 1685.4,2077.6 1686.2,2077.3 1687.1,2078.2 1687.9,2077.1 1688.8,2081.5 1689.6,2075.6 1690.5,2079.4 1691.3,2075.5 1692.2,2078.1 1693,2083.7 1693.9,2082.1 1694.7,2075.8 1695.6,2079.3 1696.4,2080.2 1697.3,2078.7 1698.1,2080.6 1699,2081 1699.8,2079.5 1700.7,2079.6 1701.6,2076.2 1702.4,2080.2 1703.3,2075.6 1704.1,2075.9 1705,2076.3 1705.8,2078 1706.7,2080.3 1707.5,2080.1 1708.4,2080.7 1709.2,2082.2 1710.1,2080.3 1710.9,2081.7 1711.8,2075.6 1712.6,2078.4 1713.5,2080.8 1714.3,2084.6 1715.2,2079.6 1716,2080.4 1716.9,2082 1717.7,2082.1 1718.6,2084.9 1719.4,2077.7 1720.3,2079.5 1721.1,2073.7 1722,2079.6 1722.8,2080.1 1723.7,2076 1724.6,2079.6 1725.4,2079.6 1726.3,2081.1 1727.1,2081.9 1728,2076.5 1728.8,2077.9 1729.7,2076.2 1730.5,2081.7 1731.4,2079.9 1732.2,2080.5 1733.1,2073.8 1733.9,2078.5 1734.8,2071.2 1735.6,2061.1 1736.5,2067.4 1737.3,2075.3 1738.2,2070.8 1739,2077.1 1739.9,2078.4 1740.7,2081.1 1741.6,2075.7 1742.4,2075.7 1743.3,2082.7 1744.1,2084.3 1745,2083.2 1745.8,2076.3 1746.7,2079 1747.5,2082.6 1748.4,2085.4 1749.3,2082.2 1750.1,2077 1751,2074.8 1751.8,2080 1752.7,2080.8 1753.5,2079.9 1754.4,2083.2 1755.2,2075.4 1756.1,2080.4 1756.9,2074.2 1757.8,2081.4 1758.6,2079.8 1759.5,2076.2 1760.3,2080.2 1761.2,2077.3 1762,2080.5 1762.9,2084.7 1763.7,2081.3 1764.6,2081.6 1765.4,2088.5 1766.3,2079.3 1767.1,2082.7 1768,2082.2 1768.8,2088.8 1769.7,2086.1 1770.5,2085.2 1771.4,2081.8 1772.2,2088.2 1773.1,2086.9 1774,2089.8 1774.8,2085.5 1775.7,2084.1 1776.5,2089.2 1777.4,2086.6 1778.2,2084 1779.1,2081.5 1779.9,2083.9 1780.8,2086.4 1781.6,2088.7 1782.5,2088.3 1783.3,2087.8 1784.2,2086 1785,2086.6 1785.9,2082.7 1786.7,2086.2 1787.6,2089.6 1788.4,2083.5 1789.3,2085.1 1790.1,2087.3 1791,2089.4 1791.8,2092.2 1792.7,2090.4 1793.5,2086 1794.4,2090.2 1795.2,2091.6 1796.1,2088.3 1796.9,2088.4 1797.8,2087.7 1798.7,2087.8 1799.5,2086.3 1800.4,2091.7 1801.2,2087.7 1802.1,2091.9 1802.9,2087.6 1803.8,2088 1804.6,2087.2 1805.5,2085.1 1806.3,2086.5 1807.2,2083.5 1808,2084.5 1808.9,2086.8 1809.7,2089.1 1810.6,2090.3 1811.4,2090.6 1812.3,2090.8 1813.1,2091.3 1814,2087.7 1814.8,2091.6 1815.7,2091.7 1816.5,2094.2 1817.4,2093.4 1818.2,2092.1 1819.1,2090.5 1819.9,2092.3 1820.8,2086.5 1821.6,2090.3 1822.5,2086.3 1823.4,2092.4 1824.2,2087.2 1825.1,2085.9 1825.9,2085.3 1826.8,2083.7 1827.6,2083.7 1828.5,2083.2 1829.3,2087 1830.2,2083.7 1831,2087 1831.9,2081 1832.7,2082.1 1833.6,2083.6 1834.4,2085.3 1835.3,2085.2 1836.1,2080.3 1837,2081 1837.8,2085.2 1838.7,2081.2 1839.5,2085.8 1840.4,2085 1841.2,2080 1842.1,2079.3 1842.9,2076.9 1843.8,2074.5 1844.6,2069 1845.5,2075.5 1846.3,2073.2 1847.2,2072.1 1848.1,2072.4 1848.9,2069.3 1849.8,2066.1 1850.6,2072.7 1851.5,2068 1852.3,2068 1853.2,2065.2 1854,2069.2 1854.9,2068.8 1855.7,2069 1856.6,2060.6 1857.4,2061.1 1858.3,2061.1 1859.1,2067.2 1860,2061.7 1860.8,2062.4 1861.7,2063.9 1862.5,2062.2 1863.4,2057.2 1864.2,2057.3 1865.1,2058.6 1865.9,2056.9 1866.8,2060.5 1867.6,2059 1868.5,2059.5 1869.3,2058.4 1870.2,2060.5 1871.1,2060.5 1871.9,2060.3 1872.8,2061.6 1873.6,2053.3 1874.5,2058 1875.3,2058 1876.2,2052.8 1877,2053.8 1877.9,2061.1 1878.7,2053 1879.6,2050.5 1880.4,2029.1 1881.3,2038.9 1882.1,2035.7 1883,2041 1883.8,2041.7 1884.7,2039.7 1885.5,2040.7 1886.4,2047.6 1887.2,2047.3 1888.1,2049.3 1888.9,2049.8 1889.8,2050.9 1890.6,2054.8 1891.5,2045 1892.3,2052.5 1893.2,2051.9 1894,2057.3 1894.9,2054.4 1895.8,2056.5 1896.6,2056.3 1897.5,2057.2 1898.3,2061.2 1899.2,2057.8 1900,2055.8 1900.9,2060.2 1901.7,2050.3 1902.6,2038.6 1903.4,2043.1 1904.3,2042.2 1905.1,2049.2 1906,2055.6 1906.8,2058.5 1907.7,2059.7 1908.5,2057.6 1909.4,2058.6 1910.2,2057.2 1911.1,2065.5 1911.9,2054.1 1912.8,2054.7 1913.6,2061.5 1914.5,2060.1 1915.3,2061.2 1916.2,2061.9 1917,2062.6 1917.9,2061.8 1918.7,2063.2 1919.6,2059.8 1920.5,2059.8 1921.3,2058.2 1922.2,2061 1923,2057.8 1923.9,2057.2 1924.7,2055 1925.6,2059.9 1926.4,2056.3 1927.3,2055.4 1928.1,2057.2 1929,2060.7 1929.8,2061.7 1930.7,2061.7 1931.5,2059.4 1932.4,2055.9 1933.2,2059.6 1934.1,2059.9 1934.9,2055.8 1935.8,2055.2 1936.6,2058.7 1937.5,2058.6 1938.3,2057.1 1939.2,2055.2 1940,2061 1940.9,2060.6 1941.7,2055.3 1942.6,2059.6 1943.4,2054.9 1944.3,2053.4 1945.2,2054 1946,2056 1946.9,2052.3 1947.7,2045 1948.6,2049.5 1949.4,2052.4 1950.3,2046.5 1951.1,2055.5 1952,2051.3 1952.8,2051.1 1953.7,2048.6 1954.5,2053.8 1955.4,2050.7 1956.2,2054.5 1957.1,2051 1957.9,2048.4 1958.8,2055.3 1959.6,2053.4 1960.5,2058 1961.3,2052.9 1962.2,2052.8 1963,2056.8 1963.9,2060.8 1964.7,2056.9 1965.6,2055.3 1966.4,2056.1 1967.3,2057.4 1968.1,2065.6 1969,2063.2 1969.9,2058.1 1970.7,2066.3 1971.6,2060.7 1972.4,2059.5 1973.3,2063.4 1974.1,2063.3 1975,2068 1975.8,2071.2 1976.7,2069.1 1977.5,2069.8 1978.4,2069.3 1979.2,2067.3 1980.1,2069.4 1980.9,2068.5 1981.8,2067.8 1982.6,2068.8 1983.5,2064.4 1984.3,2068.5 1985.2,2069.9 1986,2071.2 1986.9,2072.8 1987.7,2068.3 1988.6,2071.8 1989.4,2075.4 1990.3,2074.6 1991.1,2074.1 1992,2075.3 1992.9,2071.7 1993.7,2077 1994.6,2072.8 1995.4,2073.5 1996.3,2076.6 1997.1,2073.5 1998,2073.7 1998.8,2072.1 1999.7,2074.3 2000.5,2072.3 2001.4,2077 2002.2,2075.7 2003.1,2071.2 2003.9,2070.8 2004.8,2073.6 2005.6,2075.2 2006.5,2071.2 2007.3,2079.2 2008.2,2076.2 2009,2072.8 2009.9,2073 2010.7,2077.3 2011.6,2079.5 2012.4,2071.6 2013.3,2074.9 2014.1,2077.6 2015,2075.2 2015.8,2073 2016.7,2080.3 2017.6,2072.2 2018.4,2072.9 2019.3,2066.7 2020.1,2072.6 2021,2078.7 2021.8,2071.4 2022.7,2073.1 2023.5,2068.5 2024.4,2075.3 2025.2,2073.6 2026.1,2071.8 2026.9,2076.6 2027.8,2077.5 2028.6,2077.4 2029.5,2077.3 2030.3,2080.4 2031.2,2077.5 2032,2078 2032.9,2079.2 2033.7,2075.2 2034.6,2079.6 2035.4,2075.6 2036.3,2079.7 2037.1,2076.4 2038,2082.4 2038.8,2077.2 2039.7,2077.8 2040.5,2078.3 2041.4,2078.5 2042.3,2078 2043.1,2079.1 2044,2082.8 2044.8,2079.2 2045.7,2079.3 2046.5,2079.5 2047.4,2080.9 2048.2,2079 2049.1,2077 2049.9,2079.6 2050.8,2080.4 2051.6,2076.4 2052.5,2077.2 2053.3,2077.2 2054.2,2076.5 2055,2079.4 2055.9,2072.9 2056.7,2052.6 2057.6,2062 2058.4,2063.9 2059.3,2066.4 2060.1,2070.2 2061,2073.7 2061.8,2072.1 2062.7,2076.4 2063.5,2075.8 2064.4,2076.4 2065.2,2078.5 2066.1,2079.4 2067,2084.7 2067.8,2086 2068.7,2085.6 2069.5,2084.3 2070.4,2083.2 2071.2,2090 2072.1,2087.5 2072.9,2089.5 2073.8,2088.9 2074.6,2087.5 2075.5,2085.1 2076.3,2085.7 2077.2,2083.2 2078,2087.4 2078.9,2083 2079.7,2082.3 2080.6,2083.4 2081.4,2081.7 2082.3,2083.1 2083.1,2071.8 2084,2081.2 2084.8,2080.9 2085.7,2073.5 2086.5,2078.9 2087.4,2073.1 2088.2,2077 2089.1,2077.3 2089.9,2076.8 2090.8,2080.9 2091.7,2077.5 2092.5,2079.3 2093.4,2084 2094.2,2079.1 2095.1,2079.1 2095.9,2079.2 2096.8,2076.6 2097.6,2081 2098.5,2078.8 2099.3,2078.2 2100.2,2081.8 2101,2070.6 2101.9,2082.9 2102.7,2082.5 2103.6,2078.2 2104.4,2081.7 2105.3,2079.3 2106.1,2082.7 2107,2078.6 2107.8,2081.3 2108.7,2077.7 2109.5,2081.9 2110.4,2077.2 2111.2,2078.7 2112.1,2077.9 2112.9,2078.5 2113.8,2078.3 2114.7,2082 2115.5,2084.3 2116.4,2079.4 2117.2,2081.9 2118.1,2081.1 2118.9,2079.3 2119.8,2085.1 2120.6,2082.6 2121.5,2082.5 2122.3,2083.8 2123.2,2080.9 2124,2082.2 2124.9,2084 2125.7,2084.6 2126.6,2080.9 2127.4,2084.4 2128.3,2082 2129.1,2082.5 2130,2087.6 2130.8,2085.5 2131.7,2082.8 2132.5,2081.7 2133.4,2080.4 2134.2,2079.9 2135.1,2079.1 2135.9,2081.9 2136.8,2081.2 2137.6,2078.8 2138.5,2081.5 2139.4,2078.2 2140.2,2084.2 2141.1,2079.1 2141.9,2081 2142.8,2085 2143.6,2078.3 2144.5,2079.9 2145.3,2080.5 2146.2,2083 2147,2081.2 2147.9,2075.9 2148.7,2080.6 2149.6,2083.2 2150.4,2079.4 2151.3,2079.5 2152.1,2076.3 2153,2076.2 2153.8,2076.8 2154.7,2076.1 2155.5,2071 2156.4,2076.6 2157.2,2067.7 2158.1,2073.4 2158.9,2074.8 2159.8,2070.4 2160.6,2071.3 2161.5,2075.7 2162.3,2071.6 2163.2,2077.9 2164.1,2075 2164.9,2069.2 2165.8,2071.9 2166.6,2073.9 2167.5,2068.6 2168.3,2066.8 2169.2,2068.6 2170,2073 2170.9,2068.9 2171.7,2062.1 2172.6,2065.5 2173.4,2062.4 2174.3,2067.7 2175.1,2068.1 2176,2066.3 2176.8,2062.3 2177.7,2067.4 2178.5,2060.6 2179.4,2069.5 2180.2,2060.5 2181.1,2063.9 2181.9,2059.4 2182.8,2056.2 2183.6,2059.3 2184.5,2053.6 2185.3,2050.4 2186.2,2048.4 2187,2052.2 2187.9,2051.5 2188.8,2053.6 2189.6,2039.1 2190.5,2045.2 2191.3,2043.7 2192.2,2046.4 2193,2036.6 2193.9,2039.7 2194.7,2030.3 2195.6,2029.7 2196.4,2030.2 2197.3,2025 2198.1,2029.4 2199,2024.6 2199.8,2024.5 2200.7,2026.1 2201.5,2019.9 2202.4,2019.4 2203.2,2011.3 2204.1,2022.9 2204.9,2013.4 2205.8,2011.2 2206.6,2006 2207.5,1998.9 2208.3,1997.8 2209.2,1998.3 2210,1999.4 2210.9,1993.7 2211.7,1993.1 2212.6,2002.2 2213.5,1994.6 2214.3,2001.9 2215.2,2003.1 2216,1999.1 2216.9,2001.5 2217.7,2002.1 2218.6,2007.3 2219.4,2005.2 2220.3,2009.1 2221.1,2004.3 2222,2003.8 2222.8,2000.1 2223.7,2003.5 2224.5,2013.7 2225.4,2013.6 2226.2,2016.9 2227.1,2013.1 2227.9,2007.7 2228.8,2014.2 2229.6,2026.4 2230.5,2023.1 2231.3,2023.7 2232.2,2017 2233,2019.5 2233.9,2018.8 2234.7,2013.5 2235.6,2024.7 2236.4,2025.9 2237.3,2016.2 2238.2,2023.6 2239,2029.1 2239.9,2034.9 2240.7,2034.1 2241.6,2037.8 2242.4,2030.8 2243.3,2032.3 2244.1,2030.4 2245,2035.8 2245.8,2039.1 2246.7,2040.7 2247.5,2032.8 2248.4,2045.1 2249.2,2038.2 2250.1,2038.5 2250.9,2036.3 2251.8,2039.6 2252.6,2036.2 2253.5,2035.2 2254.3,2039 2255.2,2040.6 2256,2040.2 2256.9,2043.4 2257.7,2041.4 2258.6,2042.2 2259.4,2041 2260.3,2037.8 2261.2,2038.5 2262,2044.8 2262.9,2041.7 2263.7,2042.8 2264.6,2041.4 2265.4,2043.9 2266.3,2043.2 2267.1,2045.7 2268,2046.8 2268.8,2041.5 2269.7,2040.1 2270.5,2041.7 2271.4,2036 2272.2,2041 2273.1,2042.5 2273.9,2046 2274.8,2037.3 2275.6,2039.8 2276.5,2043.2 2277.3,2045.4 2278.2,2038.7 2279,2049.8 2279.9,2038.9 2280.7,2043.4 2281.6,2039.1 2282.4,2049.2 2283.3,2047.7 2284.1,2049.9 2285,2048.5 2285.9,2050.4 2286.7,2052.7 2287.6,2047.8 2288.4,2054.2 2289.3,2054.1 2290.1,2051.5 2291,2055.3 2291.8,2055.4 2292.7,2053.5 2293.5,2056.2 2294.4,2059.2 2295.2,2056.3 2296.1,2057.1 2296.9,2051.9 2297.8,2060.6 2298.6,2055.1 2299.5,2060.4 2300.3,2058.3 2301.2,2057.4 2302,2054.8 2302.9,2052.1 2303.7,2048.5 2304.6,2054.9 2305.4,2041.6 2306.3,2048.1 2307.1,2048.2 2308,2053.7 2308.8,2049.3 2309.7,2053 2310.6,2052.2 2311.4,2054.7 2312.3,2052 2313.1,2050.7 2314,2050.7 2314.8,2054.8 2315.7,2051.3 2316.5,2050 2317.4,2057.2 2318.2,2050.1 2319.1,2058.6 2319.9,2053 2320.8,2052.9 2321.6,2050.3 2322.5,2054 2323.3,2056.3 2324.2,2057.6 2325,2059.6 2325.9,2054.3 2326.7,2057.8 2327.6,2059.9 2328.4,2056.9 2329.3,2061.3 2330.1,2061 2331,2061.6 2331.8,2056.3 2332.7,2057.5 2333.5,2062.6 2334.4,2067.1 2335.3,2062.5 2336.1,2063.6 2337,2063.4 2337.8,2063.4 2338.7,2066.3 2339.5,2063.6 2340.4,2064.4 2341.2,2066.6 2342.1,2068.8 2342.9,2069.5 2343.8,2066.5 2344.6,2070.7 2345.5,2067.7 2346.3,2068.8 2347.2,2070 2348,2064.2 2348.9,2065.4 2349.7,2064.8 2350.6,2062 2351.4,2068.3 2352.3,2064.5 2353.1,2063.7 2354,2062.3 2354.8,2067.7 2355.7,2062.9 2356.5,2064.4 2357.4,2061.4 2358.2,2062.1 2359.1,2063.9 2360,2059.7 2360.8,2065.6 2361.7,2066.8 2362.5,2066.7 2363.4,2068.5 2364.2,2066.1 2365.1,2071.1 2365.9,2066.4 2366.8,2065.1 2367.6,2063.7 2368.5,2067.3 2369.3,2062.7 2370.2,2068.2 2371,2066.9 2371.9,2071.6 2372.7,2068.7 2373.6,2066.8 2374.4,2047.3 2375.3,2058.9 2376.1,2061.3 2377,2058.2 2377.8,2060.9 2378.7,2065.2 2379.5,2067 2380.4,2070.1 2381.2,2070.9 2382.1,2074.2 2383,2070.1 2383.8,2066.9 2384.7,2066.7 2385.5,2071.2 2386.4,2072.6 2387.2,2071.4 2388.1,2068.9 2388.9,2070.4 2389.8,2072.8 2390.6,2070.6 2391.5,2072.1 2392.3,2070.5 2393.2,2072.9 2394,2075.6 2394.9,2072 2395.7,2070.4 2396.6,2075.1 2397.4,2072.8 2398.3,2070.5 2399.1,2073.7 2400,2074.5 2400.8,2068.3 2401.7,2071.6 2402.5,2071.4 2403.4,2076.4 2404.2,2070.6 2405.1,2078.7 2405.9,2076.4 2406.8,2073.7 2407.7,2072.9 2408.5,2079.1 2409.4,2079.4 2410.2,2078.5 2411.1,2084.7 2411.9,2079.5 2412.8,2078.9 2413.6,2079.1 2414.5,2074.7 2415.3,2072 2416.2,2071 2417,2069.4 2417.9,2068 2418.7,2073.9 2419.6,2073.4 2420.4,2076 2421.3,2073.4 2422.1,2077.3 2423,2075.4 2423.8,2076.3 2424.7,2076.7 2425.5,2073.1 2426.4,2077.4 2427.2,2074.1 2428.1,2075.6 2428.9,2074.7 2429.8,2078.2 2430.6,2075.9 2431.5,2076.5 2432.4,2079.7 2433.2,2077.8 2434.1,2078.9 2434.9,2078.8 2435.8,2076 2436.6,2080.6 2437.5,2082.9 2438.3,2083.2 2439.2,2080.4 2440,2081.1 2440.9,2080 2441.7,2079.2 2442.6,2077 2443.4,2080.6 2444.3,2080.7 2445.1,2083.6 2446,2081.2 2446.8,2080 2447.7,2080.4 2448.5,2087.8 2449.4,2082.2 2450.2,2081.2 2451.1,2083 2451.9,2088.1 2452.8,2085.9 2453.6,2084.3 2454.5,2085 2455.3,2087.7 2456.2,2088.2 2457.1,2084.7 2457.9,2089.6 2458.8,2084.3 2459.6,2087.2 2460.5,2086.7 2461.3,2090 2462.2,2088.5 2463,2086 2463.9,2090.4 2464.7,2083.3 2465.6,2090.3 2466.4,2090 2467.3,2087.5 2468.1,2086.6 2469,2086.2 2469.8,2088.4 2470.7,2088.1 2471.5,2088.1 2472.4,2088.4 2473.2,2091.5 2474.1,2082.1 2474.9,2085.6 2475.8,2085.4 2476.6,2086.6 2477.5,2084.4 2478.3,2085.6 2479.2,2086.5 2480,2084.9 2480.9,2091.3 2481.8,2088.1 2482.6,2091.4 2483.5,2090.7 2484.3,2087.3 2485.2,2092.4 2486,2090.6 2486.9,2091.7 2487.7,2088.9 2488.6,2092.7 2489.4,2094.1 2490.3,2090.1 2491.1,2091.8 2492,2091.9 2492.8,2089.4 2493.7,2093.2 2494.5,2092.3 2495.4,2091.5 2496.2,2091.1 2497.1,2092.9 2497.9,2090 2498.8,2087.8 2499.6,2092.8 2500.5,2088.6 2501.3,2096.1 2502.2,2089.6 2503,2092.9 2503.9,2092.1 2504.7,2093 2505.6,2093.6 2506.5,2094.9 2507.3,2093.3 2508.2,2090.1 2509,2090.1 2509.9,2092.5 2510.7,2092.6 2511.6,2092.6 2512.4,2093.3 2513.3,2087.3 2514.1,2089.2 2515,2089.9 2515.8,2091.3 2516.7,2092.8 2517.5,2088.9 2518.4,2090.5 2519.2,2094.2 2520.1,2091.1 2520.9,2095.5 2521.8,2092.6 2522.6,2095.3 2523.5,2094 2524.3,2092 2525.2,2091.9 2526,2090.5 2526.9,2093.6 2527.7,2088.8 2528.6,2089 2529.5,2091.5 2530.3,2090.9 2531.2,2093.6 2532,2092.8 2532.9,2095.3 2533.7,2093 2534.6,2093.2 2535.4,2091.5 2536.3,2092.5 2537.1,2093.1 2538,2095.6 2538.8,2095.6 2539.7,2095.9 2540.5,2095 2541.4,2099 2542.2,2094.3 2543.1,2098.6 2543.9,2096.8 2544.8,2096 2545.6,2097 2546.5,2093.3 2547.3,2096.5 2548.2,2093.7 2549,2094.3 2549.9,2097.1 2550.7,2095.4 2551.6,2093.8 2552.4,2096.6 2553.3,2095.7 2554.2,2096.8 2555,2095.6 2555.9,2096.5 2556.7,2096.2 2557.6,2095 2558.4,2094.8 2559.3,2097.4 2560.1,2097.7 2561,2097 2561.8,2099.4 2562.7,2101.1 2563.5,2097.7 2564.4,2101.2 2565.2,2098.2 2566.1,2101.4 2566.9,2096.8 2567.8,2101.6 2568.6,2098.6 2569.5,2097.5 2570.3,2101.4 2571.2,2097.2 2572,2100.9 2572.9,2102.3 2573.7,2098 2574.6,2097.9 2575.4,2099.3 2576.3,2102.7 2577.1,2098.9 2578,2099.3 2578.9,2099.5 2579.7,2099.4 2580.6,2102 2581.4,2100 2582.3,2096.1 2583.1,2096.6 2584,2099.8 2584.8,2099.7 2585.7,2096.5 2586.5,2094.1 2587.4,2084.7 2588.2,2095.5 2589.1,2091.8 2589.9,2091.6 2590.8,2090.8 2591.6,2092.8 2592.5,2095.5 2593.3,2095.9 2594.2,2099.3 2595,2096.1 2595.9,2099.6 2596.7,2098.4 2597.6,2097.6 2598.4,2100.9 2599.3,2100.6 2600.1,2102.5 2601,2099.5 2601.8,2100 2602.7,2100.7 2603.6,2099.8 2604.4,2104.6 2605.3,2101.7 2606.1,2102 2607,2103 2607.8,2101.8 2608.7,2100.9 2609.5,2104.2 2610.4,2104.9 2611.2,2104.2 2612.1,2103.1 2612.9,2102.2 2613.8,2104.3 2614.6,2101.3 2615.5,2104.6 2616.3,2102 2617.2,2102.9 2618,2103.1 2618.9,2100.7 2619.7,2104.7 2620.6,2104.8 2621.4,2104.1 2622.3,2103.8 2623.1,2107.3 2624,2105.2 2624.8,2107 2625.7,2105.2 2626.5,2104.4 2627.4,2106.6 2628.3,2107.2 2629.1,2107 2630,2110.9 2630.8,2106.8 2631.7,2107.4 2632.5,2107.7 2633.4,2108.1 2634.2,2108.2 2635.1,2107 2635.9,2104.5 2636.8,2106.1 2637.6,2103.5 2638.5,2108.6 2639.3,2105.5 2640.2,2104 2641,2104 2641.9,2106.2 2642.7,2104.4 2643.6,2101.6 2644.4,2105.6 2645.3,2105.3 2646.1,2105.6 2647,2104.8 2647.8,2103.1 2648.7,2103.3 2649.5,2107.4 2650.4,2102.2 2651.3,2105.5 2652.1,2105.7 2653,2102.9 2653.8,2106.2 2654.7,2108.5 2655.5,2108.2 2656.4,2108.9 2657.2,2109.9 2658.1,2109 2658.9,2107 2659.8,2107.4 2660.6,2109.6 2661.5,2103.9 2662.3,2108.4 2663.2,2106.4 2664,2106.2 2664.9,2104.8 2665.7,2106.1 2666.6,2104.6 2667.4,2102.1 2668.3,2105.3 2669.1,2107.3 2670,2105.3 2670.8,2107.2 2671.7,2106.8 2672.5,2106.1 2673.4,2106.1 2674.2,2107.2 2675.1,2105.7 2676,2107.4 2676.8,2109 2677.7,2105.7 2678.5,2107.5 2679.4,2105.1 2680.2,2107.7 2681.1,2105.8 2681.9,2106.1 2682.8,2109.8 2683.6,2108.6 2684.5,2107.9 2685.3,2103.9 2686.2,2107.9 2687,2102.8 2687.9,2101.6 2688.7,2101.6 2689.6,2097 2690.4,2103.3 2691.3,2103.4 2692.1,2103.9 2693,2104.5 2693.8,2104.9 2694.7,2107.2 2695.5,2108.7 2696.4,2108.7 2697.2,2107.1 2698.1,2109.9 2698.9,2109.2 2699.8,2107.8 2700.7,2095.9 2701.5,1415.1 2702.4,638.5 2703.2,589.6 2704.1,914.3 2704.9,1085.2 2705.8,1278.8 2706.6,1448.4 2707.5,1568.5 2708.3,1604.6 2709.2,1675.6 2710,1748.1 2710.9,1761.7 2711.7,1787.5 2712.6,1792.7 2713.4,1807.3 2714.3,1813.4 2715.1,1776.5 2716,1811.9 2716.8,1855.2 2717.7,1905.1 2718.5,1947.9 2719.4,1925.8 2720.2,1937.4 2721.1,1940.2 2721.9,1937.9 2722.8,1941 2723.6,1947.6 2724.5,1955.8 2725.4,1961.2 2726.2,1948.9 2727.1,1957.1 2727.9,1964.3 2728.8,1965.6 2729.6,1975 2730.5,1967.6 2731.3,1966.3 2732.2,1973.2 2733,1942.5 2733.9,1939.2 2734.7,1952 2735.6,1966.1 2736.4,1961.5 2737.3,1929.9 2738.1,1934.6 2739,1947.4 2739.8,1947.1 2740.7,1940.4 2741.5,1944.5 2742.4,1970.2 2743.2,1966.6 2744.1,1973.5 2744.9,1965.6 2745.8,1993 2746.6,1974.8 2747.5,1971.4 2748.3,2011.4 2749.2,2016.5 2750.1,2010.4 2750.9,2031.6 2751.8,2039.1 2752.6,2047.8 2753.5,2057.8 2754.3,2062.1 2755.2,2065.7 2756,2054.4 2756.9,2054.9 2757.7,2067.2 2758.6,2062.6 2759.4,2067.2 2760.3,2052.9 2761.1,2059.3 2762,2062.4 2762.8,2064.9 2763.7,2072.1 2764.5,2070.8 2765.4,2073.1 2766.2,2081.6 2767.1,2075.7 2767.9,2071.6 2768.8,2068.3 2769.6,2077.2 2770.5,2085.7 2771.3,2087 2772.2,2089 2773.1,2092.1 2773.9,2092.6 2774.8,2092.3 2775.6,2100 2776.5,2103.4 2777.3,2105.7 2778.2,2109 2779,2108.7 2779.9,2110.3 2780.7,2104.3 2781.6,2104.1 2782.4,2098.8 2783.3,2100.8 2784.1,2102.1 2785,2102.2 2785.8,2104.4 2786.7,2109.3 2787.5,2104.6 2788.4,2105.1 2789.2,2107.2 2790.1,2112.2 2790.9,2106.7 2791.8,2106.4 2792.6,2109.6 2793.5,2108.3 2794.3,2107 2795.2,2108.5 2796,2106.2 2796.9,2107.9 2797.8,2106.6 2798.6,2107.4 2799.5,2109.9 2800.3,2108.6 2801.2,2102.2 2802,2105.5 2802.9,2103.2 2803.7,2103.3 2804.6,2101.9 2805.4,2103.9 2806.3,2105.8 2807.1,2105.2 2808,2109.6 2808.8,2107.1 2809.7,2105.9 2810.5,2112.2 2811.4,2108.7 2812.2,2108.4 2813.1,2107.8 2813.9,2111.5 2814.8,2110.7 2815.6,2112.6 2816.5,2110.8 2817.3,2107.8 2818.2,2104.7 2819,2110.3 2819.9,2105.4 2820.7,2106.8 2821.6,2108.2 2822.5,2103.3 2823.3,2111.7 2824.2,2107.8 2825,2107.5 2825.9,2104.3 2826.7,2105.1 2827.6,2104.5 2828.4,2108.3 2829.3,2106 2830.1,2104.5 2831,2105.4 2831.8,2104.9 2832.7,2105.2 2833.5,2104.8 2834.4,2106 2835.2,2099.8 2836.1,2104.6 2836.9,2107.8 2837.8,2103.2 2838.6,2103.9 2839.5,2103.5 2840.3,2100.2 2841.2,2103.1 2842,2102.5 2842.9,2102.7 2843.7,2100.3 2844.6,2100.3 2845.4,2098.1 2846.3,2092.7 2847.2,2096.8 2848,2099.8 2848.9,2094 2849.7,2096.5 2850.6,2096.9 2851.4,2097.4 2852.3,2097.4 2853.1,2098.5 2854,2098.4 2854.8,2100.6 2855.7,2101.3 2856.5,2106.2 2857.4,2106.2 2858.2,2107.7 2859.1,2104.6 2859.9,2105 2860.8,2107.5 2861.6,2105.7 2862.5,2102.7 2863.3,2104.7 2864.2,2109.2 2865,2107.5 2865.9,2106.4 2866.7,2107.9 2867.6,2107.3 2868.4,2106.2 2869.3,2107.9 2870.1,2110.8 2871,2107.7 2871.9,2108.8 2872.7,2108.1 2873.6,2109 2874.4,2110.2 2875.3,2109.7 2876.1,2107.7 2877,2108.7 2877.8,2111 2878.7,2104.7 2879.5,2109.1 2880.4,2108.3 2881.2,2106.1 2882.1,2111.3 2882.9,2104.7 2883.8,2107.9 2884.6,2104.5 2885.5,2106 2886.3,2103.8 2887.2,2103.5 2888,2103 2888.9,2106 2889.7,2104.6 2890.6,2101.1 2891.4,2098 2892.3,2102 2893.1,2099.7 2894,2100.3 2894.8,2099.6 2895.7,2098.6 2896.6,2104 2897.4,2100.6 2898.3,2101.9 2899.1,2102.4 2900,2103.8 2900.8,2103.9 2901.7,2104.6 2902.5,2103.5 2903.4,2095.3 2904.2,2095.2 2905.1,2100.2 2905.9,2100.2 2906.8,2105.2 2907.6,2108.8 2908.5,2107.9 2909.3,2104 2910.2,2101.4 2911,2099.5 2911.9,2104.6 2912.7,2105.4 2913.6,2108.2 2914.4,2109 2915.3,2105.9 2916.1,2104.6 2917,2107.7 2917.8,2104.6 2918.7,2106.4 2919.6,2104.1 2920.4,2099.3 2921.3,2104.1 2922.1,2104.4 2923,2103.9 2923.8,2103.9 2924.7,2105.4 2925.5,2104.1 2926.4,2106.2 2927.2,2104.4 2928.1,2099.8 2928.9,2102.8 2929.8,2103.1 2930.6,2103.6 2931.5,2100.3 2932.3,2097.5 2933.2,2097.5 2934,2098.5 2934.9,2100.8 2935.7,2102.1 2936.6,2103.1 2937.4,2104.9 2938.3,2105.9 2939.1,2105.4 2940,2103.4 2940.8,2104.1 2941.7,2101.6 2942.5,2102.8 2943.4,2101.1 2944.3,2093.9 2945.1,2102.1 2946,2105.4 2946.8,2104.1 2947.7,2101.3 2948.5,2105.1 2949.4,2102.1 2950.2,2105.1 2951.1,2102.8 2951.9,2103.1 2952.8,2104.6 2953.6,2105.9 2954.5,2112.3 2955.3,2100.8 2956.2,2104.1 2957,2106.4 2957.9,2110.3 2958.7,2108.5 2959.6,2110.5 2960.4,2107.7 2961.3,2108 2962.1,2102.3" fill="none" stroke="#1EA6A8" stroke-opacity="0.15" stroke-width="0.8" marker-start="url(#d1)" marker-mid="url(#d1)" marker-end="url(#d1)"/>
<polyline points="337.1,2108.6 337.9,2107.3 338.8,2106.1 339.6,2104.9 340.5,2103.8 341.3,2102.8 342.2,2100.9 343,2099.3 343.9,2097 344.7,2095.5 345.6,2094.5 346.4,2093.8 347.3,2095.4 348.1,2095.3 349,2095.5 349.8,2095.6 350.7,2095.9 351.5,2097.4 352.4,2098.3 353.2,2099.5 354.1,2099.3 354.9,2099.2 355.8,2099.4 356.6,2100.2 357.5,2100.9 358.3,2101.5 359.2,2102.8 360.1,2102.5 360.9,2103.1 361.8,2103 362.6,2103.2 363.5,2104.4 364.3,2105 365.2,2105.8 366,2105.5 366.9,2105.3 367.7,2105.6 368.6,2106.1 369.4,2106.8 370.3,2106.6 371.1,2107 372,2106.8 372.8,2106.6 373.7,2107.9 374.5,2107.8 375.4,2107.6 376.2,2108.3 377.1,2107.5 377.9,2107.3 378.8,2107.9 379.6,2106.6 380.5,2106.2 381.3,2106.5 382.2,2105.5 383,2105.2 383.9,2104.5 384.8,2104.2 385.6,2105.3 386.5,2106.4 387.3,2108.1 388.2,2109.3 389,2110.5 389.9,2111.5 390.7,2112.4 391.6,2113.8 392.4,2114.4 393.3,2113.2 394.1,2112.8 395,2112.4 395.8,2111.5 396.7,2110.9 397.5,2109.3 398.4,2109.5 399.2,2110.5 400.1,2111.1 400.9,2111.7 401.8,2111.5 402.6,2110.5 403.5,2110.4 404.3,2110.2 405.2,2109.8 406,2110.1 406.9,2110.1 407.8,2110.1 408.6,2110.1 409.5,2110.3 410.3,2111.6 411.2,2111.6 412,2111.7 412.9,2111.9 413.7,2112.3 414.6,2113.2 415.4,2113.4 416.3,2114.4 417.1,2114 418,2113.7 418.8,2114.6 419.7,2113.7 420.5,2113.2 421.4,2113.2 422.2,2112.2 423.1,2112.1 423.9,2111.9 424.8,2111 425.6,2111 426.5,2110.9 427.3,2110.2 428.2,2110.8 429,2111.3 429.9,2111.1 430.7,2111.3 431.6,2111.8 432.5,2112.4 433.3,2113.1 434.2,2114 435,2114.3 435.9,2113.7 436.7,2114.4 437.6,2114.3 438.4,2114.9 439.3,2115.6 440.1,2114.9 441,2114.8 441.8,2113.9 442.7,2113.4 443.5,2113.4 444.4,2113.6 445.2,2112.3 446.1,2111.2 446.9,2109.7 447.8,2108.2 448.6,2108.6 449.5,2108.7 450.3,2109 451.2,2109 452,2109.3 452.9,2110.2 453.7,2110.7 454.6,2111.3 455.4,2111 456.3,2110.8 457.2,2110.4 458,2109.6 458.9,2110.7 459.7,2110.8 460.6,2110.8 461.4,2111.2 462.3,2110.2 463.1,2109.8 464,2109.5 464.8,2109.5 465.7,2109.6 466.5,2108.5 467.4,2107.1 468.2,2105.9 469.1,2104.1 469.9,2103.6 470.8,2102.2 471.6,2101.4 472.5,2100 473.3,2097.9 474.2,2097.4 475,2095.8 475.9,2094.5 476.7,2094 477.6,2092.1 478.4,2092.3 479.3,2092.3 480.1,2092.3 481,2092.1 481.9,2087.1 482.7,2083.5 483.6,2078.1 484.4,2075.2 485.3,2077.6 486.1,2079.3 487,2082 487.8,2082.7 488.7,2085.3 489.5,2085.3 490.4,2085.8 491.2,2087.1 492.1,2087.9 492.9,2087.9 493.8,2088.6 494.6,2089.6 495.5,2087.7 496.3,2087.3 497.2,2085.6 498,2083.7 498.9,2083.1 499.7,2080.2 500.6,2078.8 501.4,2076.5 502.3,2075.7 503.1,2076.7 504,2076.7 504.8,2077.9 505.7,2077.9 506.6,2078.1 507.4,2077.9 508.3,2077.1 509.1,2076.1 510,2076.8 510.8,2078.5 511.7,2080.6 512.5,2081.9 513.4,2081.4 514.2,2082.9 515.1,2082.3 515.9,2083.2 516.8,2084.8 517.6,2085.7 518.5,2086.1 519.3,2087 520.2,2087.5 521,2086.6 521.9,2087.4 522.7,2086.9 523.6,2087.5 524.4,2087.1 525.3,2086.4 526.1,2086.3 527,2085.7 527.8,2086.5 528.7,2086.6 529.5,2087.2 530.4,2086.9 531.3,2085.6 532.1,2086.2 533,2087.3 533.8,2087.4 534.7,2089 535.5,2088.5 536.4,2087.4 537.2,2087.8 538.1,2087 538.9,2087.2 539.8,2087.6 540.6,2084.1 541.5,2081.4 542.3,2078.6 543.2,2076 544,2076.7 544.9,2078.1 545.7,2079.1 546.6,2082 547.4,2084.4 548.3,2086.1 549.1,2086.9 550,2087.4 550.8,2087.8 551.7,2087.6 552.5,2088.8 553.4,2089.1 554.3,2089.6 555.1,2089.1 556,2089.7 556.8,2089.8 557.7,2090 558.5,2091.6 559.4,2092.9 560.2,2094 561.1,2094.4 561.9,2095.1 562.8,2094.9 563.6,2094.2 564.5,2094.4 565.3,2093.7 566.2,2093.1 567,2093.5 567.9,2094.6 568.7,2095.4 569.6,2096.2 570.4,2095.8 571.3,2095.3 572.1,2094.8 573,2094.7 573.8,2095.8 574.7,2095.4 575.5,2095.4 576.4,2094.6 577.2,2094.8 578.1,2094.4 579,2094 579.8,2093.7 580.7,2089 581.5,2086.1 582.4,2083.7 583.2,2085.2 584.1,2089.1 584.9,2092.9 585.8,2094.8 586.6,2094.2 587.5,2094.2 588.3,2094.1 589.2,2094 590,2094.3 590.9,2094.6 591.7,2095.9 592.6,2096.3 593.4,2096.2 594.3,2096.7 595.1,2096.2 596,2095.9 596.8,2097.5 597.7,2097.4 598.5,2096.7 599.4,2098.6 600.2,2098.1 601.1,2098 601.9,2099.6 602.8,2099.6 603.7,2100 604.5,2101.8 605.4,2102.4 606.2,2103.1 607.1,2103.7 607.9,2103.9 608.8,2104.5 609.6,2104.7 610.5,2104.9 611.3,2104.1 612.2,2103.7 613,2103.3 613.9,2103.1 614.7,2102.2 615.6,2101.4 616.4,2100.4 617.3,2100.6 618.1,2101 619,2101 619.8,2100.3 620.7,2098.9 621.5,2099 622.4,2098.7 623.2,2100.1 624.1,2099.6 624.9,2099.2 625.8,2099.5 626.6,2097.8 627.5,2097.2 628.4,2097.7 629.2,2097.5 630.1,2097.7 630.9,2098.2 631.8,2097.9 632.6,2098.1 633.5,2097.4 634.3,2097.2 635.2,2097.7 636,2098 636.9,2098.3 637.7,2098.5 638.6,2097.3 639.4,2096.4 640.3,2097.7 641.1,2098.2 642,2100.1 642.8,2099.2 643.7,2096.8 644.5,2094.7 645.4,2092 646.2,2089.6 647.1,2087.3 647.9,2085.4 648.8,2083.7 649.6,2082.7 650.5,2082.2 651.3,2081.1 652.2,2080.5 653.1,2081.3 653.9,2081.9 654.8,2082.7 655.6,2083.2 656.5,2083 657.3,2083 658.2,2083.3 659,2083.7 659.9,2084.9 660.7,2085 661.6,2084.9 662.4,2085 663.3,2084 664.1,2083.5 665,2084.1 665.8,2084.9 666.7,2084.3 667.5,2084.5 668.4,2083.1 669.2,2082.1 670.1,2082.9 670.9,2082.5 671.8,2081.5 672.6,2079.8 673.5,2078 674.3,2076.4 675.2,2075.8 676.1,2073.9 676.9,2071.5 677.8,2068.7 678.6,2067.2 679.5,2066.1 680.3,2064.5 681.2,2063 682,2060 682.9,2056.4 683.7,2054.7 684.6,2053.3 685.4,2050.6 686.3,2048.9 687.1,2044.3 688,2040.4 688.8,2036.6 689.7,2032.9 690.5,2028.3 691.4,2024 692.2,2023.2 693.1,2021.1 693.9,2019.3 694.8,2019.1 695.6,2016.1 696.5,2015.1 697.3,2017.9 698.2,2019.2 699,2020.4 699.9,2021.5 700.8,2020.9 701.6,2019.4 702.5,2020.1 703.3,2020.7 704.2,2022.4 705,2024.1 705.9,2025.2 706.7,2027.3 707.6,2028.3 708.4,2030.6 709.3,2032.4 710.1,2033.2 711,2036.3 711.8,2038.1 712.7,2041.7 713.5,2044.6 714.4,2045.1 715.2,2046.6 716.1,2047.4 716.9,2047.6 717.8,2049.2 718.6,2048.2 719.5,2047.7 720.3,2046.6 721.2,2046.2 722,2047.8 722.9,2049.7 723.7,2051.1 724.6,2050.8 725.5,2053.3 726.3,2053.1 727.2,2054.4 728,2057.6 728.9,2058.7 729.7,2060.6 730.6,2062.7 731.4,2063.4 732.3,2062.9 733.1,2062.8 734,2062.8 734.8,2062.2 735.7,2062.1 736.5,2062.4 737.4,2064.6 738.2,2066.3 739.1,2068.8 739.9,2071.2 740.8,2071.2 741.6,2071.6 742.5,2071.5 743.3,2072.6 744.2,2073.5 745,2072.5 745.9,2072 746.7,2070.1 747.6,2068.4 748.4,2067.9 749.3,2066.2 750.2,2064.8 751,2063.8 751.9,2062.7 752.7,2062.3 753.6,2063.6 754.4,2064.3 755.3,2063.7 756.1,2064.7 757,2063 757.8,2062.2 758.7,2063.2 759.5,2062.3 760.4,2062.6 761.2,2062.4 762.1,2061 762.9,2060.5 763.8,2060.3 764.6,2060.1 765.5,2060 766.3,2058.8 767.2,2057.3 768,2057.1 768.9,2057.4 769.7,2057.6 770.6,2058.5 771.4,2059.5 772.3,2059.3 773.1,2060 774,2060.1 774.9,2059.6 775.7,2060.5 776.6,2059.3 777.4,2060.3 778.3,2060.6 779.1,2061 780,2062.4 780.8,2064.5 781.7,2065.2 782.5,2063.3 783.4,2061.8 784.2,2054.2 785.1,2044.5 785.9,2038.9 786.8,2046 787.6,2054.1 788.5,2058.6 789.3,2062.7 790.2,2066.1 791,2068.7 791.9,2067.8 792.7,2067.9 793.6,2067.6 794.4,2065 795.3,2065.5 796.1,2064.3 797,2063.2 797.8,2064.4 798.7,2065.3 799.6,2065.7 800.4,2066.7 801.3,2066.8 802.1,2067.3 803,2066.9 803.8,2066.5 804.7,2067 805.5,2066.3 806.4,2067.8 807.2,2067.9 808.1,2068.4 808.9,2068.1 809.8,2068.2 810.6,2069.6 811.5,2068.6 812.3,2068.2 813.2,2067.9 814,2067.9 814.9,2067.8 815.7,2068.7 816.6,2068.6 817.4,2067.2 818.3,2067.2 819.1,2067.6 820,2066.5 820.8,2067.6 821.7,2068 822.6,2068.2 823.4,2069.9 824.3,2071.1 825.1,2070.6 826,2069.4 826.8,2070.3 827.7,2070 828.5,2071 829.4,2069.9 830.2,2068.2 831.1,2066 831.9,2064 832.8,2066.7 833.6,2068.8 834.5,2070.5 835.3,2073 836.2,2074.7 837,2075.6 837.9,2077.1 838.7,2077.7 839.6,2078.4 840.4,2078.6 841.3,2079.2 842.1,2078.3 843,2077.4 843.8,2077.7 844.7,2077.8 845.5,2079.3 846.4,2079.8 847.3,2078.3 848.1,2076.3 849,2073.9 849.8,2071.3 850.7,2068.4 851.5,2069.8 852.4,2070.8 853.2,2070.5 854.1,2073.7 854.9,2074.3 855.8,2074.9 856.6,2076.9 857.5,2076.2 858.3,2076.7 859.2,2077.3 860,2078.1 860.9,2078.3 861.7,2078.1 862.6,2077.7 863.4,2076.6 864.3,2076.6 865.1,2075 866,2072.9 866.8,2072.1 867.7,2069.9 868.5,2067.8 869.4,2068 870.2,2067.1 871.1,2067.5 872,2068.9 872.8,2069.1 873.7,2069 874.5,2069.2 875.4,2068.3 876.2,2067.7 877.1,2068.5 877.9,2067.6 878.8,2066.2 879.6,2066.3 880.5,2062.4 881.3,2059.8 882.2,2056.9 883,2053.5 883.9,2056.6 884.7,2060.6 885.6,2065.4 886.4,2069.2 887.3,2074.5 888.1,2072.6 889,2070.8 889.8,2070.7 890.7,2067.8 891.5,2067.6 892.4,2066.7 893.2,2064.1 894.1,2064.4 894.9,2063.3 895.8,2061.3 896.7,2061.6 897.5,2060.9 898.4,2061.4 899.2,2063 900.1,2062 900.9,2059.7 901.8,2058 902.6,2056.6 903.5,2054.8 904.3,2056.1 905.2,2056.6 906,2055.8 906.9,2056.5 907.7,2056.4 908.6,2056.2 909.4,2055.8 910.3,2055.5 911.1,2055.2 912,2053.9 912.8,2054.1 913.7,2053.4 914.5,2052.2 915.4,2052.2 916.2,2052.2 917.1,2051.8 917.9,2050.7 918.8,2051 919.6,2050.2 920.5,2051.7 921.4,2052.8 922.2,2052 923.1,2051.6 923.9,2051.1 924.8,2047.8 925.6,2044.8 926.5,2043.9 927.3,2040.1 928.2,2035.5 929,2029.8 929.9,2024 930.7,2020.6 931.6,2014.4 932.4,2009.1 933.3,2003.7 934.1,2002.8 935,2005.5 935.8,2008.9 936.7,2010.2 937.5,2015.2 938.4,2018 939.2,2019.8 940.1,2021.8 940.9,2022.7 941.8,2024.2 942.6,2027.1 943.5,2029.9 944.4,2030.5 945.2,2033.7 946.1,2033.4 946.9,2036.6 947.8,2040.3 948.6,2041.9 949.5,2045.1 950.3,2047.9 951.2,2051.9 952,2053.8 952.9,2056.2 953.7,2055.7 954.6,2052.3 955.4,2052.5 956.3,2052.8 957.1,2052.4 958,2053.7 958.8,2052.5 959.7,2053.5 960.5,2054.4 961.4,2056.3 962.2,2056.8 963.1,2056 963.9,2054.9 964.8,2051.4 965.6,2052 966.5,2051.7 967.3,2053.6 968.2,2056.8 969.1,2058.1 969.9,2058.3 970.8,2057.7 971.6,2056.4 972.5,2055.5 973.3,2054.7 974.2,2053.8 975,2053.4 975.9,2052.2 976.7,2052.4 977.6,2053.1 978.4,2051.3 979.3,2050.9 980.1,2051 981,2048.6 981.8,2048.9 982.7,2050 983.5,2047.3 984.4,2047.4 985.2,2046.3 986.1,2044.3 986.9,2044.8 987.8,2044.9 988.6,2043.4 989.5,2042 990.3,2040.7 991.2,2037.5 992,2036.9 992.9,2034.8 993.8,2033.4 994.6,2032.3 995.5,2032.9 996.3,2032.5 997.2,2030 998,2027.2 998.9,2024 999.7,2022.2 1000.6,2019.8 1001.4,2020 1002.3,2019.4 1003.1,2019 1004,2021.9 1004.8,2021.8 1005.7,2023.2 1006.5,2023.5 1007.4,2022.5 1008.2,2022.4 1009.1,2019.4 1009.9,2016.3 1010.8,2015.7 1011.6,2015.2 1012.5,2014.7 1013.3,2017 1014.2,2014.7 1015,2012.3 1015.9,2012 1016.7,2009.5 1017.6,2011.3 1018.5,2010.7 1019.3,2011.7 1020.2,2012.6 1021,2011.2 1021.9,2012 1022.7,2009 1023.6,2007.7 1024.4,2008.5 1025.3,2009.3 1026.1,2010.3 1027,2012.2 1027.8,2011.2 1028.7,2008 1029.5,2007 1030.4,2006.1 1031.2,2001.6 1032.1,1998.1 1032.9,1998.2 1033.8,1994.4 1034.6,1994.1 1035.5,1993.2 1036.3,1987.5 1037.2,1987.9 1038,1992.1 1038.9,1995.5 1039.7,1997.4 1040.6,2000.8 1041.4,2003.1 1042.3,2005.8 1043.2,2012.2 1044,2014.4 1044.9,2016.8 1045.7,2019.4 1046.6,2021.2 1047.4,2025 1048.3,2028.1 1049.1,2031.6 1050,2033.7 1050.8,2033.5 1051.7,2033 1052.5,2032.5 1053.4,2031 1054.2,2032.3 1055.1,2034 1055.9,2037.7 1056.8,2038.1 1057.6,2038.2 1058.5,2037.5 1059.3,2034.8 1060.2,2037.4 1061,2036.1 1061.9,2035.8 1062.7,2038.3 1063.6,2038.8 1064.4,2040.2 1065.3,2043.8 1066.2,2043.6 1067,2045.7 1067.9,2048.3 1068.7,2048.5 1069.6,2050.1 1070.4,2052.5 1071.3,2054.3 1072.1,2056.1 1073,2055.9 1073.8,2055.6 1074.7,2055.7 1075.5,2053.4 1076.4,2053 1077.2,2053.1 1078.1,2054.6 1078.9,2057.1 1079.8,2057.9 1080.6,2057.7 1081.5,2057.1 1082.3,2056.8 1083.2,2057.6 1084,2057.9 1084.9,2059.1 1085.7,2060.5 1086.6,2060.5 1087.4,2062.4 1088.3,2063.3 1089.1,2064.3 1090,2066.1 1090.9,2066.7 1091.7,2067.3 1092.6,2068.7 1093.4,2069.2 1094.3,2070.5 1095.1,2072.3 1096,2072 1096.8,2073.4 1097.7,2074.7 1098.5,2072.9 1099.4,2072 1100.2,2071.7 1101.1,2070.6 1101.9,2071.1 1102.8,2069.9 1103.6,2069.2 1104.5,2068.1 1105.3,2067.4 1106.2,2067.7 1107,2065.4 1107.9,2067.7 1108.7,2067.7 1109.6,2068 1110.4,2069.6 1111.3,2068.7 1112.1,2067.1 1113,2067.4 1113.8,2068.6 1114.7,2067.6 1115.6,2070.3 1116.4,2069.6 1117.3,2067.8 1118.1,2067.3 1119,2064.1 1119.8,2063.8 1120.7,2063.3 1121.5,2063.6 1122.4,2062.6 1123.2,2061.1 1124.1,2059.6 1124.9,2056.7 1125.8,2056.1 1126.6,2055.1 1127.5,2055.1 1128.3,2055 1129.2,2055.6 1130,2056.4 1130.9,2055 1131.7,2057.3 1132.6,2058.8 1133.4,2059.9 1134.3,2059.8 1135.1,2059.9 1136,2061.1 1136.8,2062.4 1137.7,2064.2 1138.5,2064.8 1139.4,2063.5 1140.3,2063.7 1141.1,2063.8 1142,2063.5 1142.8,2063.8 1143.7,2063.4 1144.5,2064.4 1145.4,2062.9 1146.2,2062.4 1147.1,2062 1147.9,2060.3 1148.8,2060 1149.6,2060.6 1150.5,2060.4 1151.3,2060.4 1152.2,2061 1153,2060.7 1153.9,2062.4 1154.7,2062.1 1155.6,2062.4 1156.4,2062.4 1157.3,2061.3 1158.1,2062.2 1159,2063 1159.8,2063.9 1160.7,2064.5 1161.5,2064.4 1162.4,2063.7 1163.2,2063 1164.1,2061.2 1165,2060.9 1165.8,2059.2 1166.7,2058.3 1167.5,2057.7 1168.4,2056 1169.2,2056.6 1170.1,2056.7 1170.9,2057.2 1171.8,2058.4 1172.6,2060.1 1173.5,2060.3 1174.3,2060.4 1175.2,2061.2 1176,2060.5 1176.9,2060.3 1177.7,2060.6 1178.6,2060.4 1179.4,2060.9 1180.3,2062.4 1181.1,2063.8 1182,2065.4 1182.8,2066.8 1183.7,2067.5 1184.5,2069.4 1185.4,2070.2 1186.2,2069.8 1187.1,2069.7 1187.9,2067.9 1188.8,2066.6 1189.7,2066.1 1190.5,2063.3 1191.4,2064.1 1192.2,2064 1193.1,2064.5 1193.9,2064.6 1194.8,2061.7 1195.6,2063.6 1196.5,2062.8 1197.3,2063.6 1198.2,2065.9 1199,2064.5 1199.9,2066.6 1200.7,2066.8 1201.6,2066.9 1202.4,2067.8 1203.3,2067.2 1204.1,2067.8 1205,2068.9 1205.8,2067.3 1206.7,2065.1 1207.5,2064.9 1208.4,2062.5 1209.2,2060.4 1210.1,2058.9 1210.9,2058.8 1211.8,2059.6 1212.7,2060.2 1213.5,2061.5 1214.4,2060.8 1215.2,2060.3 1216.1,2062.2 1216.9,2064.5 1217.8,2065.6 1218.6,2066.8 1219.5,2066.4 1220.3,2065.2 1221.2,2066.5 1222,2068.4 1222.9,2068.8 1223.7,2070.3 1224.6,2071.4 1225.4,2071.9 1226.3,2071.4 1227.1,2069.9 1228,2069.5 1228.8,2069.7 1229.7,2071.4 1230.5,2073.4 1231.4,2072.5 1232.2,2072.4 1233.1,2073.6 1233.9,2072.7 1234.8,2074.2 1235.6,2074.4 1236.5,2074.1 1237.4,2075.4 1238.2,2075.2 1239.1,2076.2 1239.9,2077.6 1240.8,2079.1 1241.6,2080.4 1242.5,2080.8 1243.3,2079.8 1244.2,2078.6 1245,2077.7 1245.9,2077.4 1246.7,2078 1247.6,2078.7 1248.4,2080.5 1249.3,2080.8 1250.1,2080.2 1251,2079.7 1251.8,2078.8 1252.7,2079.2 1253.5,2079.4 1254.4,2080.1 1255.2,2080 1256.1,2080 1256.9,2080.8 1257.8,2080.5 1258.6,2081.7 1259.5,2082.6 1260.3,2083.6 1261.2,2085.2 1262.1,2084.4 1262.9,2083.1 1263.8,2081.9 1264.6,2080.4 1265.5,2079.9 1266.3,2079.7 1267.2,2078.3 1268,2078.7 1268.9,2079 1269.7,2078.5 1270.6,2077.7 1271.4,2076.2 1272.3,2075.6 1273.1,2075.4 1274,2076.8 1274.8,2078.4 1275.7,2078.1 1276.5,2079.3 1277.4,2080 1278.2,2079.4 1279.1,2080.6 1279.9,2080.5 1280.8,2080.7 1281.6,2081.6 1282.5,2081.3 1283.3,2081.1 1284.2,2079.9 1285,2080 1285.9,2080.6 1286.8,2081 1287.6,2081.4 1288.5,2080.6 1289.3,2081.6 1290.2,2081.5 1291,2081.2 1291.9,2081.7 1292.7,2080.5 1293.6,2079.5 1294.4,2077.8 1295.3,2076.5 1296.1,2076 1297,2078.1 1297.8,2078.8 1298.7,2079.9 1299.5,2080.8 1300.4,2081.2 1301.2,2083.1 1302.1,2084.4 1302.9,2085.1 1303.8,2084.9 1304.6,2085.5 1305.5,2085.5 1306.3,2086.7 1307.2,2086.7 1308,2087.1 1308.9,2088.2 1309.7,2087.9 1310.6,2089 1311.5,2089.2 1312.3,2088.5 1313.2,2088.2 1314,2088.4 1314.9,2088 1315.7,2087 1316.6,2086.8 1317.4,2086.2 1318.3,2085.9 1319.1,2085.6 1320,2085 1320.8,2083.4 1321.7,2082.4 1322.5,2082.5 1323.4,2081.4 1324.2,2081.8 1325.1,2081.7 1325.9,2081 1326.8,2081.3 1327.6,2079.8 1328.5,2081.1 1329.3,2080.9 1330.2,2081 1331,2082.7 1331.9,2082.4 1332.7,2080.6 1333.6,2079.3 1334.5,2078.3 1335.3,2077.2 1336.2,2076.2 1337,2075.7 1337.9,2074.9 1338.7,2074 1339.6,2073.7 1340.4,2072.2 1341.3,2071.6 1342.1,2071.9 1343,2072.9 1343.8,2072.4 1344.7,2071.5 1345.5,2071.1 1346.4,2070.4 1347.2,2070.7 1348.1,2071 1348.9,2070.5 1349.8,2071.1 1350.6,2071.2 1351.5,2073.2 1352.3,2073 1353.2,2072.8 1354,2074.2 1354.9,2073.3 1355.7,2073.7 1356.6,2074.1 1357.4,2070.9 1358.3,2070.1 1359.2,2068.1 1360,2066.5 1360.9,2066.3 1361.7,2067 1362.6,2068.7 1363.4,2068.2 1364.3,2068.3 1365.1,2070 1366,2071.4 1366.8,2072.8 1367.7,2074.3 1368.5,2074 1369.4,2072.6 1370.2,2071.2 1371.1,2070.5 1371.9,2070.2 1372.8,2070.4 1373.6,2069.6 1374.5,2068.8 1375.3,2067.9 1376.2,2067.5 1377,2066.8 1377.9,2067.4 1378.7,2066.7 1379.6,2065.3 1380.4,2066.3 1381.3,2065 1382.1,2065.9 1383,2065.6 1383.9,2064.5 1384.7,2065.4 1385.6,2063.4 1386.4,2064 1387.3,2062.4 1388.1,2061 1389,2060.9 1389.8,2059.2 1390.7,2059.6 1391.5,2058.2 1392.4,2057.6 1393.2,2055.6 1394.1,2053.5 1394.9,2051.8 1395.8,2051.4 1396.6,2049.2 1397.5,2047.5 1398.3,2048.8 1399.2,2046.9 1400,2047.5 1400.9,2046.6 1401.7,2046 1402.6,2044.8 1403.4,2045.4 1404.3,2044.4 1405.1,2043.6 1406,2043.1 1406.8,2041.9 1407.7,2043.4 1408.6,2041 1409.4,2039.5 1410.3,2036.5 1411.1,2033.4 1412,2033.5 1412.8,2034.5 1413.7,2035.4 1414.5,2038.6 1415.4,2040.5 1416.2,2040.3 1417.1,2041.2 1417.9,2042.6 1418.8,2043.6 1419.6,2046 1420.5,2047.2 1421.3,2047.2 1422.2,2047.4 1423,2048.6 1423.9,2050.9 1424.7,2051.2 1425.6,2052.7 1426.4,2052.1 1427.3,2053.1 1428.1,2054.3 1429,2054.1 1429.8,2055.9 1430.7,2054.8 1431.5,2053.7 1432.4,2052.7 1433.3,2050.1 1434.1,2050.1 1435,2051.5 1435.8,2051.4 1436.7,2051.3 1437.5,2049.8 1438.4,2049.1 1439.2,2048.3 1440.1,2047.8 1440.9,2046.8 1441.8,2045.5 1442.6,2045.3 1443.5,2044.7 1444.3,2045 1445.2,2045.6 1446,2046.1 1446.9,2046.8 1447.7,2046.9 1448.6,2045.1 1449.4,2046.4 1450.3,2047.4 1451.1,2048.2 1452,2048.9 1452.8,2047.4 1453.7,2047.9 1454.5,2046.4 1455.4,2046 1456.2,2047 1457.1,2046.7 1458,2047.3 1458.8,2049 1459.7,2050.1 1460.5,2051.7 1461.4,2053.1 1462.2,2052.3 1463.1,2052.1 1463.9,2051.3 1464.8,2052.1 1465.6,2053.3 1466.5,2055.2 1467.3,2055 1468.2,2055.5 1469,2056.8 1469.9,2056.6 1470.7,2057 1471.6,2054.6 1472.4,2051.5 1473.3,2050.6 1474.1,2047.7 1475,2047.7 1475.8,2050.4 1476.7,2051.8 1477.5,2054.4 1478.4,2056.8 1479.2,2057.4 1480.1,2058 1481,2060.4 1481.8,2061.3 1482.7,2064.1 1483.5,2064.7 1484.4,2065.6 1485.2,2067.7 1486.1,2068.8 1486.9,2071.2 1487.8,2071.1 1488.6,2071.6 1489.5,2071.2 1490.3,2070.9 1491.2,2073 1492,2074.2 1492.9,2075.2 1493.7,2076.3 1494.6,2074.9 1495.4,2074.7 1496.3,2074.4 1497.1,2074.1 1498,2075.3 1498.8,2074.1 1499.7,2072.4 1500.5,2071.2 1501.4,2070.1 1502.2,2071.6 1503.1,2072 1503.9,2070.9 1504.8,2070.1 1505.7,2068.4 1506.5,2068 1507.4,2068.4 1508.2,2069.3 1509.1,2069.6 1509.9,2070.4 1510.8,2072.5 1511.6,2072.9 1512.5,2074.9 1513.3,2075.8 1514.2,2074.8 1515,2075 1515.9,2074.7 1516.7,2073 1517.6,2072.4 1518.4,2070 1519.3,2069.5 1520.1,2069.9 1521,2068.9 1521.8,2068.8 1522.7,2068.2 1523.5,2068.9 1524.4,2070.5 1525.2,2071.3 1526.1,2070.7 1526.9,2071 1527.8,2072.1 1528.6,2072.9 1529.5,2074.4 1530.4,2074.6 1531.2,2074.2 1532.1,2074.2 1532.9,2073.8 1533.8,2075 1534.6,2075.5 1535.5,2076 1536.3,2076.5 1537.2,2074.3 1538,2072.1 1538.9,2070.7 1539.7,2068.4 1540.6,2067.9 1541.4,2068.6 1542.3,2070.3 1543.1,2071.5 1544,2070.3 1544.8,2071.2 1545.7,2071.7 1546.5,2072.6 1547.4,2075.3 1548.2,2074.6 1549.1,2074.6 1549.9,2074.8 1550.8,2073.2 1551.6,2071.7 1552.5,2071.7 1553.3,2070.6 1554.2,2071.3 1555.1,2072.2 1555.9,2071.6 1556.8,2072.6 1557.6,2072.3 1558.5,2071.2 1559.3,2071.8 1560.2,2071.9 1561,2071.9 1561.9,2073.4 1562.7,2073 1563.6,2074.1 1564.4,2074.4 1565.3,2074.8 1566.1,2076.3 1567,2074.6 1567.8,2075.7 1568.7,2074.5 1569.5,2073.8 1570.4,2074.2 1571.2,2074.4 1572.1,2075 1572.9,2074.7 1573.8,2075.8 1574.6,2075.5 1575.5,2075.1 1576.3,2076 1577.2,2076.4 1578,2076.9 1578.9,2078.1 1579.8,2078 1580.6,2077.4 1581.5,2075.6 1582.3,2075.8 1583.2,2075.4 1584,2074.3 1584.9,2075.7 1585.7,2074.5 1586.6,2073.4 1587.4,2074.8 1588.3,2074.6 1589.1,2075.6 1590,2077.6 1590.8,2076.1 1591.7,2076.3 1592.5,2074.8 1593.4,2071.6 1594.2,2071.9 1595.1,2069.9 1595.9,2070.4 1596.8,2069.8 1597.6,2068.2 1598.5,2068 1599.3,2066.4 1600.2,2066.4 1601,2065.9 1601.9,2065.5 1602.8,2065.7 1603.6,2065.8 1604.5,2066.2 1605.3,2066.1 1606.2,2067.3 1607,2068.1 1607.9,2066.2 1608.7,2066.6 1609.6,2066.4 1610.4,2066.2 1611.3,2068.5 1612.1,2070 1613,2069.8 1613.8,2069.2 1614.7,2068 1615.5,2066.7 1616.4,2066.6 1617.2,2067.6 1618.1,2066.6 1618.9,2066.2 1619.8,2065.9 1620.6,2066.4 1621.5,2068 1622.3,2066.6 1623.2,2067.2 1624,2066.3 1624.9,2065.6 1625.7,2067.7 1626.6,2067.3 1627.5,2067.2 1628.3,2067.1 1629.2,2064.9 1630,2064.2 1630.9,2061.7 1631.7,2062.1 1632.6,2063.5 1633.4,2062.7 1634.3,2062.6 1635.1,2062.2 1636,2061.6 1636.8,2061.7 1637.7,2064.6 1638.5,2065.1 1639.4,2067.7 1640.2,2070.1 1641.1,2071.3 1641.9,2074.6 1642.8,2074.6 1643.6,2075 1644.5,2076.2 1645.3,2075.4 1646.2,2075.1 1647,2075 1647.9,2073.6 1648.7,2074.4 1649.6,2076 1650.4,2075 1651.3,2075.9 1652.2,2074.9 1653,2074.9 1653.9,2075.2 1654.7,2075.1 1655.6,2075.1 1656.4,2074.3 1657.3,2073.8 1658.1,2074.2 1659,2075 1659.8,2075.7 1660.7,2075.5 1661.5,2075.4 1662.4,2075.2 1663.2,2074.6 1664.1,2075.5 1664.9,2075.6 1665.8,2074.9 1666.6,2074.5 1667.5,2074.3 1668.3,2073.9 1669.2,2074.4 1670,2074.9 1670.9,2075.2 1671.7,2075.1 1672.6,2075.6 1673.4,2077.3 1674.3,2078.4 1675.1,2079.7 1676,2080.1 1676.9,2080.4 1677.7,2081.1 1678.6,2080.7 1679.4,2081.3 1680.3,2079.6 1681.1,2079.4 1682,2078.5 1682.8,2079 1683.7,2080.6 1684.5,2079.5 1685.4,2079.7 1686.2,2078.4 1687.1,2077.1 1687.9,2077.4 1688.8,2078.3 1689.6,2077.9 1690.5,2078.2 1691.3,2078 1692.2,2077.4 1693,2079.3 1693.9,2079.9 1694.7,2080 1695.6,2080.3 1696.4,2079.5 1697.3,2078.8 1698.1,2079.9 1699,2080.3 1699.8,2080.2 1700.7,2080.4 1701.6,2079.4 1702.4,2079.2 1703.3,2078.3 1704.1,2077.5 1705,2077.6 1705.8,2077 1706.7,2077.9 1707.5,2078.7 1708.4,2079.7 1709.2,2080.6 1710.1,2080.6 1710.9,2080.9 1711.8,2079.8 1712.6,2078.9 1713.5,2079 1714.3,2079.7 1715.2,2080.5 1716,2081 1716.9,2081.2 1717.7,2080.7 1718.6,2082 1719.4,2081.5 1720.3,2081 1721.1,2079.2 1722,2078 1722.8,2078.5 1723.7,2077.8 1724.6,2079.1 1725.4,2079.1 1726.3,2079.4 1727.1,2080.7 1728,2080 1728.8,2079.6 1729.7,2078.5 1730.5,2078.5 1731.4,2078.6 1732.2,2077.9 1733.1,2076.5 1733.9,2075.4 1734.8,2073.3 1735.6,2070.2 1736.5,2070.4 1737.3,2071.3 1738.2,2072.2 1739,2074.6 1739.9,2077.1 1740.7,2078.6 1741.6,2079.7 1742.4,2079.5 1743.3,2080.7 1744.1,2081.6 1745,2082.3 1745.8,2081.6 1746.7,2080.3 1747.5,2079.8 1748.4,2080.3 1749.3,2081.6 1750.1,2081.1 1751,2079.3 1751.8,2078.1 1752.7,2077.7 1753.5,2078.3 1754.4,2080.2 1755.2,2079.1 1756.1,2079 1756.9,2077.7 1757.8,2077.2 1758.6,2078.2 1759.5,2077.9 1760.3,2080.2 1761.2,2079.9 1762,2080.3 1762.9,2082.4 1763.7,2082.7 1764.6,2083.5 1765.4,2084.7 1766.3,2083.1 1767.1,2083.3 1768,2083.4 1768.8,2083.5 1769.7,2085 1770.5,2085.6 1771.4,2085.5 1772.2,2085.4 1773.1,2085.6 1774,2086.6 1774.8,2087.4 1775.7,2086.5 1776.5,2087.1 1777.4,2086.4 1778.2,2086.1 1779.1,2085.5 1779.9,2084.3 1780.8,2084.4 1781.6,2085.4 1782.5,2087 1783.3,2087.9 1784.2,2087.8 1785,2087.3 1785.9,2086.1 1786.7,2085.7 1787.6,2086.6 1788.4,2085.9 1789.3,2086.4 1790.1,2086.7 1791,2086.7 1791.8,2088.6 1792.7,2089.8 1793.5,2089.6 1794.4,2089.8 1795.2,2089.7 1796.1,2089.3 1796.9,2089.8 1797.8,2089.3 1798.7,2088.5 1799.5,2088 1800.4,2088.8 1801.2,2088.8 1802.1,2089.4 1802.9,2089.1 1803.8,2088 1804.6,2087.7 1805.5,2086.1 1806.3,2085.8 1807.2,2084.7 1808,2084.9 1808.9,2086.1 1809.7,2087.2 1810.6,2088.9 1811.4,2090.4 1812.3,2091.3 1813.1,2091.9 1814,2091.4 1814.8,2091.7 1815.7,2091.6 1816.5,2091.4 1817.4,2092.1 1818.2,2091.9 1819.1,2091.6 1819.9,2091.1 1820.8,2089.5 1821.6,2089 1822.5,2088 1823.4,2087.9 1824.2,2088 1825.1,2086.9 1825.9,2086.6 1826.8,2084.5 1827.6,2083.6 1828.5,2083 1829.3,2083.3 1830.2,2083.2 1831,2084.4 1831.9,2084.5 1832.7,2083.8 1833.6,2083.9 1834.4,2083.6 1835.3,2084.6 1836.1,2084.2 1837,2083.6 1837.8,2083.6 1838.7,2081.6 1839.5,2081.6 1840.4,2081.8 1841.2,2080.3 1842.1,2079.8 1842.9,2077.6 1843.8,2075.9 1844.6,2073.9 1845.5,2073.2 1846.3,2072.4 1847.2,2071.8 1848.1,2072.5 1848.9,2071 1849.8,2068.9 1850.6,2068.7 1851.5,2067.4 1852.3,2067 1853.2,2066.8 1854,2065.9 1854.9,2066 1855.7,2066.1 1856.6,2065.1 1857.4,2063.7 1858.3,2062.2 1859.1,2061.9 1860,2062.1 1860.8,2062.3 1861.7,2062.9 1862.5,2061.8 1863.4,2060.7 1864.2,2059.6 1865.1,2058.3 1865.9,2057.3 1866.8,2058.5 1867.6,2059.2 1868.5,2059.6 1869.3,2059.9 1870.2,2059.9 1871.1,2059.9 1871.9,2059.8 1872.8,2060.4 1873.6,2058.8 1874.5,2058.2 1875.3,2057.6 1876.2,2055.6 1877,2054.9 1877.9,2054.8 1878.7,2053.2 1879.6,2052.1 1880.4,2046.8 1881.3,2039.7 1882.1,2034.6 1883,2034.7 1883.8,2038.7 1884.7,2041.3 1885.5,2043.3 1886.4,2045 1887.2,2046.5 1888.1,2049 1888.9,2051.2 1889.8,2052.2 1890.6,2054.1 1891.5,2056.5 1892.3,2056.1 1893.2,2055.7 1894,2056 1894.9,2054.9 1895.8,2055.9 1896.6,2056.9 1897.5,2056.9 1898.3,2058.5 1899.2,2058.8 1900,2057.9 1900.9,2057.6 1901.7,2054.4 1902.6,2049.6 1903.4,2045.3 1904.3,2042.9 1905.1,2046.9 1906,2051.7 1906.8,2055.5 1907.7,2058 1908.5,2059 1909.4,2059.4 1910.2,2059.2 1911.1,2060.5 1911.9,2059.8 1912.8,2058.9 1913.6,2059.9 1914.5,2058.8 1915.3,2060.5 1916.2,2061.8 1917,2061.3 1917.9,2061.2 1918.7,2061.4 1919.6,2060.9 1920.5,2060.2 1921.3,2059.4 1922.2,2058.8 1923,2058.3 1923.9,2057.7 1924.7,2056.9 1925.6,2057.1 1926.4,2057.5 1927.3,2057.6 1928.1,2058.3 1929,2058.6 1929.8,2059.9 1930.7,2061.3 1931.5,2061.7 1932.4,2059.3 1933.2,2057.9 1934.1,2057.1 1934.9,2056.2 1935.8,2055.9 1936.6,2056.7 1937.5,2057.1 1938.3,2057.8 1939.2,2057.8 1940,2058.4 1940.9,2058.7 1941.7,2057.5 1942.6,2058 1943.4,2056.3 1944.3,2054.6 1945.2,2054.3 1946,2053.3 1946.9,2052.7 1947.7,2052.4 1948.6,2051.3 1949.4,2050.4 1950.3,2049.7 1951.1,2051.1 1952,2051.8 1952.8,2051.7 1953.7,2052.2 1954.5,2051.9 1955.4,2051.8 1956.2,2052.6 1957.1,2053.2 1957.9,2052 1958.8,2053.1 1959.6,2053 1960.5,2054.7 1961.3,2055.7 1962.2,2055.2 1963,2056.1 1963.9,2056.8 1964.7,2057.7 1965.6,2058.3 1966.4,2058.2 1967.3,2057.5 1968.1,2059.6 1969,2061.6 1969.9,2062.3 1970.7,2064.4 1971.6,2063.4 1972.4,2062.7 1973.3,2063.9 1974.1,2063.4 1975,2065.1 1975.8,2067.8 1976.7,2069.1 1977.5,2070.3 1978.4,2070.1 1979.2,2068.9 1980.1,2068.8 1980.9,2068.5 1981.8,2068.2 1982.6,2068.5 1983.5,2067.7 1984.3,2068.1 1985.2,2068.8 1986,2069.4 1986.9,2071.3 1987.7,2071.3 1988.6,2071.8 1989.4,2072.8 1990.3,2073.3 1991.1,2074.6 1992,2075.5 1992.9,2074.3 1993.7,2074.5 1994.6,2074.1 1995.4,2073.6 1996.3,2074.7 1997.1,2073.9 1998,2074.1 1998.8,2073.7 1999.7,2073.2 2000.5,2072.9 2001.4,2073.6 2002.2,2074.6 2003.1,2074.1 2003.9,2073.9 2004.8,2073.1 2005.6,2073 2006.5,2073 2007.3,2074.9 2008.2,2075.5 2009,2075 2009.9,2075.4 2010.7,2075 2011.6,2075.8 2012.4,2075.5 2013.3,2076 2014.1,2076.1 2015,2074.9 2015.8,2075 2016.7,2076.2 2017.6,2075 2018.4,2074.4 2019.3,2075.9 2020.1,2074.2 2021,2075.6 2021.8,2075.3 2022.7,2073.8 2023.5,2072.8 2024.4,2072.1 2025.2,2072.5 2026.1,2072.9 2026.9,2075.2 2027.8,2075.9 2028.6,2076.8 2029.5,2078.1 2030.3,2079.1 2031.2,2079.1 2032,2079.4 2032.9,2079.4 2033.7,2077.7 2034.6,2077.8 2035.4,2077.2 2036.3,2077.3 2037.1,2077.5 2038,2078.1 2038.8,2078.5 2039.7,2078 2040.5,2078.4 2041.4,2077.6 2042.3,2078.1 2043.1,2078.6 2044,2079.7 2044.8,2079.9 2045.7,2080.2 2046.5,2080.3 2047.4,2079.9 2048.2,2079.8 2049.1,2079.3 2049.9,2079.4 2050.8,2079.3 2051.6,2078.8 2052.5,2078.6 2053.3,2077.9 2054.2,2076.9 2055,2077.2 2055.9,2071.7 2056.7,2065.4 2057.6,2060.4 2058.4,2063.4 2059.3,2066.9 2060.1,2071.1 2061,2072.8 2061.8,2073.7 2062.7,2075.5 2063.5,2076.8 2064.4,2077.5 2065.2,2078.8 2066.1,2079.4 2067,2081.4 2067.8,2083.7 2068.7,2085.4 2069.5,2086.6 2070.4,2086.4 2071.2,2087.4 2072.1,2087.7 2072.9,2087.9 2073.8,2088.5 2074.6,2087.7 2075.5,2087.1 2076.3,2086.2 2077.2,2084.9 2078,2084.8 2078.9,2084.3 2079.7,2083.4 2080.6,2083.1 2081.4,2081.5 2082.3,2081.4 2083.1,2081.6 2084,2081.1 2084.8,2080.8 2085.7,2078.6 2086.5,2077.4 2087.4,2075.5 2088.2,2075.6 2089.1,2077.1 2089.9,2077 2090.8,2078.8 2091.7,2079 2092.5,2079.5 2093.4,2081 2094.2,2080.3 2095.1,2080.3 2095.9,2080.2 2096.8,2078.5 2097.6,2079 2098.5,2078.9 2099.3,2078.6 2100.2,2079.8 2101,2078.9 2101.9,2079.8 2102.7,2080.8 2103.6,2079.9 2104.4,2080.9 2105.3,2080.1 2106.1,2080.1 2107,2080.2 2107.8,2080.1 2108.7,2079.8 2109.5,2079.6 2110.4,2079.2 2111.2,2078.6 2112.1,2078.8 2112.9,2078.3 2113.8,2078.7 2114.7,2079.5 2115.5,2081 2116.4,2081.2 2117.2,2082 2118.1,2081.9 2118.9,2080.8 2119.8,2082.1 2120.6,2082.3 2121.5,2082.6 2122.3,2083.6 2123.2,2082.7 2124,2082.7 2124.9,2083 2125.7,2083.3 2126.6,2083.3 2127.4,2083.8 2128.3,2083.4 2129.1,2082.9 2130,2084.2 2130.8,2084.1 2131.7,2084 2132.5,2083.7 2133.4,2082.1 2134.2,2080.8 2135.1,2079.9 2135.9,2079.9 2136.8,2080.1 2137.6,2079.9 2138.5,2080.7 2139.4,2079.9 2140.2,2080.7 2141.1,2080.7 2141.9,2080.6 2142.8,2082.1 2143.6,2080.8 2144.5,2081 2145.3,2080.9 2146.2,2080.4 2147,2080.7 2147.9,2079.4 2148.7,2079.2 2149.6,2079.1 2150.4,2078.6 2151.3,2079.4 2152.1,2078.3 2153,2076.7 2153.8,2076 2154.7,2075.3 2155.5,2074.1 2156.4,2074.2 2157.2,2072.1 2158.1,2071.5 2158.9,2072.7 2159.8,2071.8 2160.6,2072.9 2161.5,2073.5 2162.3,2072.8 2163.2,2074.3 2164.1,2074.4 2164.9,2072.5 2165.8,2072.4 2166.6,2071.4 2167.5,2069.9 2168.3,2069.3 2169.2,2068.5 2170,2068.5 2170.9,2068.8 2171.7,2068.8 2172.6,2068.1 2173.4,2065.7 2174.3,2065.4 2175.1,2065.7 2176,2065.6 2176.8,2065.3 2177.7,2065 2178.5,2063.2 2179.4,2063.8 2180.2,2063.4 2181.1,2062.5 2181.9,2061.7 2182.8,2057.4 2183.6,2056.2 2184.5,2053.4 2185.3,2051.4 2186.2,2050.6 2187,2049.5 2187.9,2049.2 2188.8,2049.8 2189.6,2047.4 2190.5,2045.3 2191.3,2043.1 2192.2,2041.1 2193,2040.5 2193.9,2038.9 2194.7,2035.1 2195.6,2030.6 2196.4,2028.8 2197.3,2025.2 2198.1,2024.8 2199,2024 2199.8,2023.4 2200.7,2024 2201.5,2021.9 2202.4,2020.6 2203.2,2017.1 2204.1,2014.7 2204.9,2012 2205.8,2009.5 2206.6,2008.2 2207.5,2002.5 2208.3,2000.2 2209.2,1998 2210,1996.8 2210.9,1995.5 2211.7,1994.3 2212.6,1995.1 2213.5,1994.7 2214.3,1998.7 2215.2,2002.4 2216,2002.5 2216.9,2004.1 2217.7,2003.5 2218.6,2004 2219.4,2005.2 2220.3,2007 2221.1,2007.6 2222,2006.9 2222.8,2005.8 2223.7,2005 2224.5,2007.5 2225.4,2010 2226.2,2013.9 2227.1,2016.1 2227.9,2014.9 2228.8,2015.2 2229.6,2016.8 2230.5,2018.7 2231.3,2022.2 2232.2,2022.8 2233,2021.3 2233.9,2020.4 2234.7,2018.2 2235.6,2020.4 2236.4,2022.3 2237.3,2022 2238.2,2024.4 2239,2025.5 2239.9,2027.7 2240.7,2031.8 2241.6,2035.1 2242.4,2035.8 2243.3,2035.4 2244.1,2034.8 2245,2034.5 2245.8,2036.6 2246.7,2038.6 2247.5,2039 2248.4,2040.1 2249.2,2039.2 2250.1,2038.3 2250.9,2039.1 2251.8,2037.8 2252.6,2037.4 2253.5,2036.8 2254.3,2037.9 2255.2,2038.5 2256,2039.6 2256.9,2041.5 2257.7,2042.1 2258.6,2042.5 2259.4,2042.7 2260.3,2041.5 2261.2,2040.9 2262,2041.6 2262.9,2041.6 2263.7,2042.5 2264.6,2043 2265.4,2042.7 2266.3,2043.1 2267.1,2043.7 2268,2044.9 2268.8,2044.4 2269.7,2043.7 2270.5,2042.4 2271.4,2040.5 2272.2,2039.9 2273.1,2040.3 2273.9,2041.1 2274.8,2040.6 2275.6,2041.5 2276.5,2042.4 2277.3,2042.6 2278.2,2043 2279,2045.3 2279.9,2044.5 2280.7,2044.1 2281.6,2044.2 2282.4,2044.1 2283.3,2046.1 2284.1,2047.6 2285,2049.8 2285.9,2050.1 2286.7,2051.3 2287.6,2050.9 2288.4,2052.3 2289.3,2053.2 2290.1,2053 2291,2054.5 2291.8,2054.8 2292.7,2054.6 2293.5,2055.7 2294.4,2056.7 2295.2,2056.9 2296.1,2057.7 2296.9,2056.8 2297.8,2057.2 2298.6,2057 2299.5,2057.6 2300.3,2058.1 2301.2,2056.8 2302,2056.4 2302.9,2054.4 2303.7,2052.1 2304.6,2051.4 2305.4,2049.8 2306.3,2048.8 2307.1,2049 2308,2049.8 2308.8,2050.7 2309.7,2052.1 2310.6,2053.1 2311.4,2053.3 2312.3,2053.6 2313.1,2052.8 2314,2052.3 2314.8,2052.4 2315.7,2052.2 2316.5,2052.1 2317.4,2053.5 2318.2,2052.5 2319.1,2054.1 2319.9,2054.8 2320.8,2053.8 2321.6,2053.9 2322.5,2052.9 2323.3,2053.6 2324.2,2054.9 2325,2057.4 2325.9,2057.7 2326.7,2058.2 2327.6,2058.7 2328.4,2058.2 2329.3,2059.8 2330.1,2060.6 2331,2061.1 2331.8,2061 2332.7,2060.2 2333.5,2060.6 2334.4,2061.9 2335.3,2063.3 2336.1,2064.7 2337,2064.9 2337.8,2064.2 2338.7,2065.1 2339.5,2065.1 2340.4,2065.4 2341.2,2066.2 2342.1,2066.8 2342.9,2068.1 2343.8,2068.3 2344.6,2068.6 2345.5,2067.9 2346.3,2067.6 2347.2,2068.4 2348,2066.9 2348.9,2066.3 2349.7,2065.3 2350.6,2063.4 2351.4,2064.6 2352.3,2064.8 2353.1,2064.7 2354,2064.9 2354.8,2064.7 2355.7,2064.4 2356.5,2064.6 2357.4,2064.4 2358.2,2063.1 2359.1,2063.4 2360,2062.3 2360.8,2063.3 2361.7,2064.3 2362.5,2065 2363.4,2067 2364.2,2067.1 2365.1,2068 2365.9,2067.9 2366.8,2067.2 2367.6,2066.6 2368.5,2065.8 2369.3,2065 2370.2,2065.7 2371,2066.4 2371.9,2067.4 2372.7,2068.8 2373.6,2066.8 2374.4,2063.7 2375.3,2060.1 2376.1,2058.1 2377,2058.8 2377.8,2061.9 2378.7,2064.8 2379.5,2066.6 2380.4,2069.3 2381.2,2070.1 2382.1,2071.2 2383,2071.4 2383.8,2070.7 2384.7,2069.8 2385.5,2069.2 2386.4,2069.8 2387.2,2070.8 2388.1,2071.3 2388.9,2071.1 2389.8,2071.1 2390.6,2070.9 2391.5,2071.7 2392.3,2071.7 2393.2,2071.7 2394,2072.9 2394.9,2072.8 2395.7,2072.8 2396.6,2073.3 2397.4,2072.7 2398.3,2072.4 2399.1,2073.2 2400,2073.1 2400.8,2072.2 2401.7,2072.6 2402.5,2072.1 2403.4,2072.6 2404.2,2073.2 2405.1,2074.8 2405.9,2075.9 2406.8,2075.4 2407.7,2076 2408.5,2076.6 2409.4,2077.7 2410.2,2079 2411.1,2081.6 2411.9,2081.8 2412.8,2080.4 2413.6,2078.7 2414.5,2075.3 2415.3,2073.1 2416.2,2071.1 2417,2069.5 2417.9,2070 2418.7,2071.7 2419.6,2072.8 2420.4,2074.4 2421.3,2075.7 2422.1,2076.2 2423,2076.2 2423.8,2076 2424.7,2076.7 2425.5,2075.8 2426.4,2076.2 2427.2,2075.7 2428.1,2075.5 2428.9,2075.9 2429.8,2076.1 2430.6,2076.5 2431.5,2076.7 2432.4,2077.8 2433.2,2077.8 2434.1,2078.4 2434.9,2079 2435.8,2078.2 2436.6,2078.8 2437.5,2079.7 2438.3,2080.7 2439.2,2081.7 2440,2081.9 2440.9,2081.4 2441.7,2080.7 2442.6,2080 2443.4,2080 2444.3,2080.1 2445.1,2081.2 2446,2082.2 2446.8,2082.1 2447.7,2082.1 2448.5,2083.1 2449.4,2083.3 2450.2,2083.6 2451.1,2084.1 2451.9,2084.2 2452.8,2085 2453.6,2085.7 2454.5,2086.2 2455.3,2086.1 2456.2,2086.7 2457.1,2086.8 2457.9,2087.8 2458.8,2087.1 2459.6,2086.8 2460.5,2087.1 2461.3,2087.1 2462.2,2088.1 2463,2087.8 2463.9,2088.6 2464.7,2087.1 2465.6,2087.5 2466.4,2088.4 2467.3,2087.8 2468.1,2088.5 2469,2087.6 2469.8,2087.3 2470.7,2087.4 2471.5,2087.7 2472.4,2087.9 2473.2,2088.4 2474.1,2087.5 2474.9,2086.9 2475.8,2086.1 2476.6,2085 2477.5,2084.9 2478.3,2085.7 2479.2,2086.6 2480,2086.5 2480.9,2088.2 2481.8,2088.8 2482.6,2090 2483.5,2091.3 2484.3,2090 2485.2,2090.7 2486,2090.4 2486.9,2090.7 2487.7,2091 2488.6,2091.1 2489.4,2091.9 2490.3,2091.5 2491.1,2092.2 2492,2092.1 2492.8,2091 2493.7,2091.7 2494.5,2091.9 2495.4,2091.8 2496.2,2092.2 2497.1,2092.1 2497.9,2091.5 2498.8,2090.7 2499.6,2091.1 2500.5,2090.1 2501.3,2091.5 2502.2,2091.9 2503,2091.9 2503.9,2092.7 2504.7,2092 2505.6,2093 2506.5,2093.4 2507.3,2093.7 2508.2,2092.9 2509,2091.9 2509.9,2091.2 2510.7,2090.9 2511.6,2091.5 2512.4,2092.2 2513.3,2091 2514.1,2090.2 2515,2089.6 2515.8,2089.4 2516.7,2091.2 2517.5,2091.4 2518.4,2091.7 2519.2,2092.4 2520.1,2092.1 2520.9,2093.6 2521.8,2094 2522.6,2093.7 2523.5,2094 2524.3,2093 2525.2,2092.8 2526,2091.7 2526.9,2091.6 2527.7,2090.9 2528.6,2090.2 2529.5,2090.6 2530.3,2090.4 2531.2,2091.7 2532,2092.7 2532.9,2093.6 2533.7,2094.1 2534.6,2094 2535.4,2093.8 2536.3,2093.2 2537.1,2093.3 2538,2093.8 2538.8,2094.7 2539.7,2095.4 2540.5,2095.7 2541.4,2096.5 2542.2,2096.2 2543.1,2096.8 2543.9,2097.2 2544.8,2096.5 2545.6,2097.2 2546.5,2096 2547.3,2095.9 2548.2,2095.4 2549,2094.6 2549.9,2095.4 2550.7,2095.1 2551.6,2095.1 2552.4,2095.6 2553.3,2095.3 2554.2,2095.6 2555,2096 2555.9,2096.2 2556.7,2096.6 2557.6,2096.5 2558.4,2096.4 2559.3,2096.6 2560.1,2097 2561,2097.5 2561.8,2098.6 2562.7,2099.5 2563.5,2099.3 2564.4,2100.1 2565.2,2099.7 2566.1,2099.7 2566.9,2099.5 2567.8,2099.6 2568.6,2099.7 2569.5,2098.8 2570.3,2099.7 2571.2,2098.6 2572,2099.1 2572.9,2100.2 2573.7,2099.4 2574.6,2099.5 2575.4,2099.2 2576.3,2099.2 2577.1,2099.5 2578,2099.9 2578.9,2100 2579.7,2099.3 2580.6,2100 2581.4,2100.2 2582.3,2099.4 2583.1,2098.8 2584,2098.3 2584.8,2097.6 2585.7,2096.9 2586.5,2095.8 2587.4,2094.1 2588.2,2093 2589.1,2091.8 2589.9,2091.9 2590.8,2093.2 2591.6,2093.7 2592.5,2095.1 2593.3,2096.3 2594.2,2097.6 2595,2097.6 2595.9,2098.1 2596.7,2098.6 2597.6,2098.3 2598.4,2099.3 2599.3,2099.6 2600.1,2100.5 2601,2101 2601.8,2100.8 2602.7,2100.9 2603.6,2100.5 2604.4,2101.9 2605.3,2102.3 2606.1,2102.7 2607,2103.4 2607.8,2102.9 2608.7,2102.8 2609.5,2102.9 2610.4,2103 2611.2,2103.4 2612.1,2103.9 2612.9,2103.4 2613.8,2103.3 2614.6,2102.6 2615.5,2103.1 2616.3,2103.3 2617.2,2103.1 2618,2103.5 2618.9,2102.7 2619.7,2103.3 2620.6,2103.8 2621.4,2104.1 2622.3,2104.8 2623.1,2105.4 2624,2105.5 2624.8,2106.2 2625.7,2106.5 2626.5,2105.9 2627.4,2106.3 2628.3,2106.4 2629.1,2106.8 2630,2108.3 2630.8,2108.4 2631.7,2108.4 2632.5,2108.2 2633.4,2107.2 2634.2,2107.3 2635.1,2107.1 2635.9,2106.4 2636.8,2105.9 2637.6,2104.8 2638.5,2105.1 2639.3,2105.3 2640.2,2104.8 2641,2104.9 2641.9,2104.3 2642.7,2104.1 2643.6,2103.9 2644.4,2104.5 2645.3,2104.3 2646.1,2104.6 2647,2105.3 2647.8,2104.8 2648.7,2104.4 2649.5,2104.8 2650.4,2104.2 2651.3,2104.8 2652.1,2105.5 2653,2104.8 2653.8,2105.9 2654.7,2106.7 2655.5,2107.4 2656.4,2108.7 2657.2,2109.6 2658.1,2109.4 2658.9,2108.6 2659.8,2107.9 2660.6,2107.7 2661.5,2106.5 2662.3,2106.8 2663.2,2106.6 2664,2105.8 2664.9,2106 2665.7,2105.4 2666.6,2105 2667.4,2104.2 2668.3,2104.7 2669.1,2105.1 2670,2105.3 2670.8,2106.5 2671.7,2106.8 2672.5,2106.6 2673.4,2106.8 2674.2,2106.8 2675.1,2106.6 2676,2106.9 2676.8,2107.4 2677.7,2107 2678.5,2107.3 2679.4,2106.7 2680.2,2106.4 2681.1,2106.4 2681.9,2106.1 2682.8,2107.1 2683.6,2107.3 2684.5,2107.8 2685.3,2107.1 2686.2,2106.1 2687,2104.4 2687.9,2102.8 2688.7,2102.2 2689.6,2100.4 2690.4,2101.8 2691.3,2103.1 2692.1,2104.1 2693,2105.1 2693.8,2105.5 2694.7,2106.5 2695.5,2107.7 2696.4,2108.1 2697.2,2108 2698.1,2108.3 2698.9,2108.4 2699.8,2108.2 2700.7,2105.7 2701.5,1932 2702.4,1564.3 2703.2,1184.8 2704.1,889.4 2704.9,806.9 2705.8,967 2706.6,1181.7 2707.5,1345.2 2708.3,1475.1 2709.2,1574.3 2710,1649.2 2710.9,1697.5 2711.7,1743.2 2712.6,1772.5 2713.4,1787.3 2714.3,1800.2 2715.1,1797.5 2716,1802.3 2716.8,1814.2 2717.7,1837.2 2718.5,1880 2719.4,1908.5 2720.2,1929.1 2721.1,1937.8 2721.9,1935.3 2722.8,1939.1 2723.6,1941.7 2724.5,1945.6 2725.4,1951.4 2726.2,1953.4 2727.1,1955.8 2727.9,1957.9 2728.8,1959 2729.6,1965.5 2730.5,1968.1 2731.3,1968.6 2732.2,1970.5 2733,1962.4 2733.9,1955.3 2734.7,1951.7 2735.6,1949.9 2736.4,1954.7 2737.3,1952.4 2738.1,1948 2739,1943.3 2739.8,1939.7 2740.7,1942.4 2741.5,1944.9 2742.4,1950.6 2743.2,1955.4 2744.1,1963.7 2744.9,1968.9 2745.8,1974.6 2746.6,1976.7 2747.5,1976.2 2748.3,1987.6 2749.2,1993.5 2750.1,2002.4 2750.9,2017.5 2751.8,2024.4 2752.6,2032.2 2753.5,2044.1 2754.3,2051.7 2755.2,2058.3 2756,2060 2756.9,2059.3 2757.7,2060.6 2758.6,2059.8 2759.4,2063 2760.3,2062.5 2761.1,2060.5 2762,2060.5 2762.8,2059.9 2763.7,2064.7 2764.5,2067.6 2765.4,2070.2 2766.2,2074.4 2767.1,2075.3 2767.9,2075.5 2768.8,2074.3 2769.6,2073.2 2770.5,2075.7 2771.3,2079.5 2772.2,2084.7 2773.1,2088.4 2773.9,2090.2 2774.8,2091.5 2775.6,2094.3 2776.5,2097.1 2777.3,2100.3 2778.2,2104.5 2779,2106.7 2779.9,2108.4 2780.7,2108.1 2781.6,2106.8 2782.4,2104.3 2783.3,2102.9 2784.1,2102.6 2785,2102.3 2785.8,2103.6 2786.7,2105.6 2787.5,2106.2 2788.4,2106.9 2789.2,2107.5 2790.1,2108.3 2790.9,2108.5 2791.8,2108.3 2792.6,2108.6 2793.5,2107.7 2794.3,2107.7 2795.2,2108.2 2796,2107.4 2796.9,2107.3 2797.8,2107.2 2798.6,2106.7 2799.5,2107.4 2800.3,2107.5 2801.2,2106.5 2802,2106 2802.9,2104.5 2803.7,2103.3 2804.6,2103.3 2805.4,2102.9 2806.3,2103.5 2807.1,2104.5 2808,2106.8 2808.8,2107.9 2809.7,2108 2810.5,2109.7 2811.4,2109.6 2812.2,2109.9 2813.1,2110.1 2813.9,2109.3 2814.8,2109.4 2815.6,2110.1 2816.5,2110.8 2817.3,2110 2818.2,2108.6 2819,2108 2819.9,2106.7 2820.7,2106.5 2821.6,2107.3 2822.5,2105.9 2823.3,2107.6 2824.2,2108 2825,2107.9 2825.9,2108.1 2826.7,2106.7 2827.6,2106 2828.4,2106 2829.3,2105.7 2830.1,2105.1 2831,2105 2831.8,2104.2 2832.7,2103.9 2833.5,2103.9 2834.4,2104.3 2835.2,2103.6 2836.1,2103.8 2836.9,2104.5 2837.8,2103.9 2838.6,2104.8 2839.5,2104.6 2840.3,2102.8 2841.2,2102 2842,2101.3 2842.9,2100.8 2843.7,2100.8 2844.6,2100.1 2845.4,2099 2846.3,2096.6 2847.2,2096.5 2848,2096.9 2848.9,2096.4 2849.7,2097.3 2850.6,2097.3 2851.4,2096.8 2852.3,2097.6 2853.1,2098.5 2854,2099.6 2854.8,2100.8 2855.7,2102 2856.5,2103.9 2857.4,2105.4 2858.2,2106.3 2859.1,2106.6 2859.9,2106.1 2860.8,2106.4 2861.6,2106 2862.5,2105.6 2863.3,2105.5 2864.2,2105.9 2865,2106.4 2865.9,2107.3 2866.7,2108.1 2867.6,2107.7 2868.4,2107.4 2869.3,2107.8 2870.1,2108.5 2871,2108.5 2871.9,2108.7 2872.7,2108.5 2873.6,2107.9 2874.4,2108.5 2875.3,2108.6 2876.1,2108.5 2877,2108.4 2877.8,2108.8 2878.7,2107.9 2879.5,2108.3 2880.4,2108.2 2881.2,2107.1 2882.1,2108.6 2882.9,2107.6 2883.8,2107 2884.6,2106.2 2885.5,2104.8 2886.3,2104.5 2887.2,2103.5 2888,2103.1 2888.9,2103 2889.7,2103.1 2890.6,2102.6 2891.4,2101.8 2892.3,2101.2 2893.1,2100.1 2894,2100 2894.8,2100.3 2895.7,2099.6 2896.6,2100.9 2897.4,2101.1 2898.3,2101.7 2899.1,2102.6 2900,2102.5 2900.8,2103.3 2901.7,2103.9 2902.5,2103 2903.4,2100.4 2904.2,2097.9 2905.1,2098.8 2905.9,2099.6 2906.8,2102.6 2907.6,2105.5 2908.5,2106.2 2909.3,2106.4 2910.2,2105.3 2911,2103.2 2911.9,2102.4 2912.7,2102.7 2913.6,2104.4 2914.4,2106.8 2915.3,2107.1 2916.1,2106.9 2917,2106.8 2917.8,2105.7 2918.7,2105.9 2919.6,2105.7 2920.4,2103.6 2921.3,2103.5 2922.1,2103 2923,2102.9 2923.8,2104.1 2924.7,2104.4 2925.5,2104.3 2926.4,2104.9 2927.2,2105 2928.1,2103.6 2928.9,2103.3 2929.8,2102.5 2930.6,2102.3 2931.5,2102.5 2932.3,2101.2 2933.2,2099.8 2934,2098.6 2934.9,2098.7 2935.7,2099.7 2936.6,2101.1 2937.4,2102.7 2938.3,2104 2939.1,2104.8 2940,2104.9 2940.8,2104.7 2941.7,2103.6 2942.5,2103 2943.4,2102.4 2944.3,2099.8 2945.1,2100 2946,2100.6 2946.8,2101.4 2947.7,2103.2 2948.5,2104 2949.4,2103.2 2950.2,2103.4 2951.1,2103.8 2951.9,2103.3 2952.8,2103.9 2953.6,2104.1 2954.5,2106.5 2955.3,2105.9 2956.2,2105.8 2957,2105.9 2957.9,2105.4 2958.7,2107.3 2959.6,2108.9 2960.4,2109.2 2961.3,2108.7 2962.1,2107.1" fill="none" stroke="#483490" stroke-width="6" stroke-linejoin="round" stroke-linecap="round"/>
<rect x="246" y="367" width="3" height="1796" fill="#838383"/>
<rect x="3002" y="367" width="3" height="1796" fill="#838383"/>
<rect x="246" y="2160" width="2759" height="3" fill="#838383"/>
<rect x="2585" y="385" width="405" height="81" fill="#fff"/>
<text x="2599" y="441.6" font-size="39.6" font-style="italic" textLength="371" lengthAdjust="spacingAndGlyphs">Seasonally Adjusted</text>
<text x="212.3" y="2174.5" font-size="40.5" text-anchor="end" textLength="23" lengthAdjust="spacingAndGlyphs">0</text>
<text x="212.3" y="1918.4" font-size="40.5" text-anchor="end" textLength="183.7" lengthAdjust="spacingAndGlyphs">1,000,000</text>
<text x="212.3" y="1662.2" font-size="40.5" text-anchor="end" textLength="183.7" lengthAdjust="spacingAndGlyphs">2,000,000</text>
<text x="212.3" y="1406.1" font-size="40.5" text-anchor="end" textLength="183.7" lengthAdjust="spacingAndGlyphs">3,000,000</text>
<text x="212.3" y="1149.9" font-size="40.5" text-anchor="end" textLength="183.7" lengthAdjust="spacingAndGlyphs">4,000,000</text>
<text x="212.3" y="893.8" font-size="40.5" text-anchor="end" textLength="183.7" lengthAdjust="spacingAndGlyphs">5,000,000</text>
<text x="212.3" y="637.6" font-size="40.5" text-anchor="end" textLength="183.7" lengthAdjust="spacingAndGlyphs">6,000,000</text>
<text x="212.3" y="381.5" font-size="40.5" text-anchor="end" textLength="183.7" lengthAdjust="spacingAndGlyphs">7,000,000</text>
<text x="248.3" y="2223.9" font-size="40.5" text-anchor="middle" textLength="92.8" lengthAdjust="spacingAndGlyphs">1965</text>
<text x="470.5" y="2223.9" font-size="40.5" text-anchor="middle" textLength="92.8" lengthAdjust="spacingAndGlyphs">1970</text>
<text x="692.7" y="2223.9" font-size="40.5" text-anchor="middle" textLength="92.8" lengthAdjust="spacingAndGlyphs">1975</text>
<text x="914.9" y="2223.9" font-size="40.5" text-anchor="middle" textLength="92.8" lengthAdjust="spacingAndGlyphs">1980</text>
<text x="1137.2" y="2223.9" font-size="40.5" text-anchor="middle" textLength="92.8" lengthAdjust="spacingAndGlyphs">1985</text>
<text x="1359.3" y="2223.9" font-size="40.5" text-anchor="middle" textLength="92.8" lengthAdjust="spacingAndGlyphs">1990</text>
<text x="1581.5" y="2223.9" font-size="40.5" text-anchor="middle" textLength="92.8" lengthAdjust="spacingAndGlyphs">1995</text>
<text x="1803.7" y="2223.9" font-size="40.5" text-anchor="middle" textLength="92.8" lengthAdjust="spacingAndGlyphs">2000</text>
<text x="2026" y="2223.9" font-size="40.5" text-anchor="middle" textLength="92.8" lengthAdjust="spacingAndGlyphs">2005</text>
<text x="2248.2" y="2223.9" font-size="40.5" text-anchor="middle" textLength="92.8" lengthAdjust="spacingAndGlyphs">2010</text>
<text x="2470.4" y="2223.9" font-size="40.5" text-anchor="middle" textLength="92.8" lengthAdjust="spacingAndGlyphs">2015</text>
<text x="2692.6" y="2223.9" font-size="40.5" text-anchor="middle" textLength="92.8" lengthAdjust="spacingAndGlyphs">2020</text>
<text x="2914.9" y="2223.9" font-size="40.5" text-anchor="middle" textLength="92.8" lengthAdjust="spacingAndGlyphs">2025</text>
<text x="733" y="192.4" font-size="124" font-weight="bold" textLength="1756" lengthAdjust="spacingAndGlyphs">Initial Unemployment Claims</text>
<text x="264.8" y="83" font-size="38.6" textLength="370" lengthAdjust="spacingAndGlyphs" stroke="#000" stroke-width="0.9">Advisor Perspectives</text>
<text x="3098" y="47.7" font-size="28.5" text-anchor="end" font-weight="bold" textLength="387" lengthAdjust="spacingAndGlyphs">advisorperspectives.com</text>
<text x="3097.5" y="84.4" font-size="28.5" text-anchor="end" font-weight="bold" textLength="336.8" lengthAdjust="spacingAndGlyphs">As of January 31 2026</text>
<rect x="581" y="281.4" width="21" height="20.6" fill="#c8c8c8"/>
<text x="611.5" y="303.6" font-size="40.5" font-weight="bold" fill="#808080" textLength="227" lengthAdjust="spacingAndGlyphs">Recessions</text>
<text x="1034.5" y="302.6" font-size="40.5" font-weight="bold" fill="#21A5A8" textLength="563" lengthAdjust="spacingAndGlyphs">Latest Initial Claims: 231,000</text>
<text x="1770" y="292.4" font-size="40.5" font-weight="bold" fill="#483490" textLength="781" lengthAdjust="spacingAndGlyphs">Latest 4-Week Moving Average: 212,250</text>
<text y="82.4" font-size="56.5" font-weight="bold"><tspan x="48.0" y="81.1" font-size="55.4" textLength="38.5" lengthAdjust="spacingAndGlyphs" stroke="#000" stroke-width="2.6" stroke-linejoin="miter">V</tspan><tspan x="82.3" y="82.4" textLength="144.5" lengthAdjust="spacingAndGlyphs">ettaFi</tspan></text>
<g transform="translate(40,35) scale(0.033411)" fill="#fff"><polygon points="233.8,150 313.8,150 693.6,1205 653.5,1316"/><polygon points="379.5,150 456.5,150 758.7,1026 719.3,1135"/></g>
<rect x="272" y="405" width="1298" height="1381" fill="#fff" stroke="#000" stroke-width="14" stroke-linejoin="round"/>
<rect x="272" y="1088" width="1298" height="16" fill="#000"/>
<rect x="416.5" y="887" width="1097.1" height="3" fill="#858585"/>
<rect x="416.5" y="804" width="1097.1" height="3" fill="#858585"/>
<rect x="416.5" y="720" width="1097.1" height="3" fill="#858585"/>
<rect x="416.5" y="637" width="1097.1" height="3" fill="#858585"/>
<rect x="416.5" y="553" width="1097.1" height="3" fill="#858585"/>
<rect x="463.8" y="529" width="27.3" height="442" fill="#bababa" fill-opacity="0.48"/>
<rect x="738.1" y="529" width="61" height="442" fill="#bababa" fill-opacity="0.48"/>
<rect x="1232.6" y="529" width="6.7" height="442" fill="#bababa" fill-opacity="0.48"/>
<rect x="416.5" y="974" width="1057.1" height="2" fill="#e2e2e2"/>
<rect x="415" y="971" width="1098.6" height="3" fill="#858585"/>
<rect x="415" y="529" width="3" height="445" fill="#858585"/>
<g clip-path="url(#cA)"><polyline points="416.5,873.5 417.3,874.8 418.1,872.3 418.8,865.2 419.6,869.9 420.4,860 421.2,863.2 422,871 422.7,878.4 423.5,882.2 424.3,883.3 425.1,883.9 425.8,885.4 426.6,873.9 427.4,886.5 428.2,886.8 429,895.1 429.7,892.3 430.5,888 431.3,882.8 432.1,888.9 432.9,869.7 433.6,882.1 434.4,869.3 435.2,889.2 436,872.1 436.7,867.8 437.5,866 438.3,860.8 439.1,860.7 439.9,859.2 440.6,871.6 441.4,860.8 442.2,871.3 443,852 443.8,855.6 444.5,860.4 445.3,866.1 446.1,865.6 446.9,849.7 447.6,851.7 448.4,865.5 449.2,852.5 450,867.6 450.8,864.9 451.5,848.7 452.3,846.3 453.1,838.4 453.9,830.6 454.7,812.9 455.4,833.9 456.2,826.5 457,823 457.8,823.8 458.6,813.8 459.3,803.1 460.1,824.8 460.9,809.4 461.7,809.4 462.4,800.5 463.2,813.5 464,812.1 464.8,812.6 465.6,785.1 466.3,787 467.1,787 467.9,806.7 468.7,788.8 469.5,791.2 470.2,796.2 471,790.4 471.8,774.2 472.6,774.5 473.3,778.7 474.1,773.3 474.9,785.1 475.7,780 476.5,781.6 477.2,778.1 478,785 478.8,785.1 479.6,784.4 480.4,788.6 481.1,761.6 481.9,776.7 482.7,776.9 483.5,759.7 484.2,763.2 485,786.8 485.8,760.5 486.6,752.4 487.4,682.4 488.1,714.5 488.9,704 489.7,721.5 490.5,723.8 491.3,717 492,720.4 492.8,742.8 493.6,741.9 494.4,748.4 495.2,750.1 495.9,753.8 496.7,766.4 497.5,734.2 498.3,758.8 499,756.8 499.8,774.5 500.6,765.1 501.4,771.9 502.2,771.3 502.9,774.3 503.7,787.3 504.5,776.1 505.3,769.7 506.1,783.8 506.8,751.7 507.6,713.3 508.4,728.2 509.2,725.3 509.9,748.2 510.7,768.9 511.5,778.3 512.3,782.3 513.1,775.5 513.8,778.9 514.6,774.3 515.4,801.2 516.2,763.9 517,765.9 517.7,788.2 518.5,783.7 519.3,787.4 520.1,789.5 520.8,792 521.6,789.3 522.4,793.8 523.2,782.7 524,782.6 524.7,777.5 525.5,786.7 526.3,776.3 527.1,774.3 527.9,767.1 528.6,783.1 529.4,771.2 530.2,768.2 531,774.2 531.8,785.5 532.5,788.9 533.3,788.8 534.1,781.3 534.9,769.9 535.6,782.1 536.4,783 537.2,769.6 538,767.6 538.8,779.2 539.5,778.7 540.3,773.8 541.1,767.6 541.9,786.5 542.7,785.2 543.4,768.2 544.2,782.2 545,766.7 545.8,761.8 546.5,763.8 547.3,770.2 548.1,758.1 548.9,734.2 549.7,749 550.4,758.4 551.2,739.2 552,768.7 552.8,754.9 553.6,754.4 554.3,746.1 555.1,763.3 555.9,753.1 556.7,765.5 557.4,754 558.2,745.5 559,768.1 559.8,761.7 560.6,776.8 561.3,760.3 562.1,759.9 562.9,773 563.7,785.9 564.5,773.2 565.2,768 566,770.5 566.8,774.9 567.6,801.6 568.3,793.7 569.1,777.3 569.9,804 570.7,785.6 571.5,781.8 572.2,794.5 573,794.2 573.8,809.5 574.6,819.9 575.4,813 576.1,815.2 576.9,813.7 577.7,807.2 578.5,814 579.3,810.9 580,808.7 580.8,812.1 581.6,797.6 582.4,811.1 583.1,815.8 583.9,819.9 584.7,825 585.5,810.5 586.3,821.9 587,833.6 587.8,831 588.6,829.3 589.4,833.4 590.2,821.4 590.9,838.9 591.7,825.2 592.5,827.5 593.3,837.7 594,827.4 594.8,828.1 595.6,822.8 596.4,830 597.2,823.5 597.9,839 598.7,834.5 599.5,820 600.3,818.5 601.1,827.6 601.8,832.9 602.6,820 603.4,845.9 604.2,836.1 604.9,825 605.7,825.7 606.5,839.7 607.3,847 608.1,821.2 608.8,832 609.6,840.7 610.4,832.8 611.2,825.7 612,849.7 612.7,823.1 613.5,825.6 614.3,805.3 615.1,824.4 615.9,844.3 616.6,820.6 617.4,826 618.2,811.2 619,833.2 619.7,827.8 620.5,821.8 621.3,837.5 622.1,840.3 622.9,840 623.6,840 624.4,850 625.2,840.3 626,842.2 626.8,846 627.5,833 628.3,847.4 629.1,834.3 629.9,847.5 630.6,836.8 631.4,856.5 632.2,839.4 633,841.5 633.8,843.2 634.5,843.6 635.3,842.2 636.1,845.8 636.9,857.7 637.7,846.1 638.4,846.4 639.2,846.9 640,851.6 640.8,845.3 641.5,839 642.3,847.5 643.1,849.9 643.9,836.7 644.7,839.4 645.4,839.4 646.2,837.2 647,846.6 647.8,825.4 648.6,759.3 649.3,790 650.1,796.1 650.9,804.1 651.7,816.6 652.5,828.1 653.2,822.9 654,836.9 654.8,834.8 655.6,836.9 656.3,843.6 657.1,846.6 657.9,863.9 658.7,868.3 659.5,866.8 660.2,862.6 661,859.1 661.8,881.2 662.6,873.1 663.4,879.6 664.1,877.5 664.9,873.1 665.7,865.2 666.5,867.1 667.2,859.1 668,872.8 668.8,858.4 669.6,856.2 670.4,859.6 671.1,854 671.9,858.9 672.7,822 673.5,852.4 674.3,851.6 675,827.4 675.8,845.1 676.6,826 677.4,838.9 678.1,839.8 678.9,838.3 679.7,851.5 680.5,840.5 681.3,846.3 682,861.6 682.8,845.6 683.6,845.7 684.4,846.1 685.2,837.4 685.9,851.9 686.7,844.7 687.5,842.7 688.3,854.7 689.1,817.8 689.8,858.2 690.6,856.7 691.4,842.6 692.2,854.2 692.9,846.5 693.7,857.6 694.5,844.2 695.3,852.8 696.1,841.2 696.8,855 697.6,839.4 698.4,844.4 699.2,841.9 700,843.8 700.7,843.2 701.5,855.1 702.3,862.5 703.1,846.7 703.8,854.8 704.6,852.1 705.4,846.5 706.2,865.2 707,857.1 707.7,856.8 708.5,861 709.3,851.7 710.1,855.9 710.9,861.7 711.6,863.7 712.4,851.7 713.2,863.1 714,855 714.7,856.8 715.5,873.5 716.3,866.6 717.1,857.7 717.9,854.1 718.6,849.8 719.4,848.4 720.2,845.6 721,854.8 721.8,852.5 722.5,844.7 723.3,853.6 724.1,842.6 724.9,862.2 725.7,845.6 726.4,851.7 727.2,865 728,843.2 728.8,848.1 729.5,850.3 730.3,858.4 731.1,852.4 731.9,835.4 732.7,850.7 733.4,859 734.2,846.5 735,847 735.8,836.4 736.6,836.2 737.3,838.1 738.1,835.8 738.9,819.1 739.7,837.6 740.4,808.4 741.2,827.2 742,831.6 742.8,817.4 743.6,820.3 744.3,834.4 745.1,821.1 745.9,841.9 746.7,832.3 747.5,813.3 748.2,822.3 749,828.8 749.8,811.4 750.6,805.7 751.3,811.3 752.1,825.7 752.9,812.5 753.7,790.3 754.5,801.3 755.2,791.2 756,808.5 756.8,809.7 757.6,804 758.4,790.8 759.1,807.4 759.9,785.2 760.7,814.3 761.5,785.1 762.3,796.1 763,781.3 763.8,771 764.6,781 765.4,762.4 766.1,752.1 766.9,745.5 767.7,758 768.5,755.7 769.3,762.5 770,715.1 770.8,735.1 771.6,730.2 772.4,738.9 773.2,706.9 773.9,717.2 774.7,686.3 775.5,684.5 776.3,686 777,669.1 777.8,683.6 778.6,667.9 779.4,667.5 780.2,672.7 780.9,652.5 781.7,651 782.5,624.5 783.3,662.3 784.1,631.2 784.8,624.1 785.6,607.1 786.4,584 787.2,580.2 787.9,581.9 788.7,585.4 789.5,566.9 790.3,565 791.1,594.8 791.8,569.8 792.6,593.6 793.4,597.5 794.2,584.6 795,592.4 795.7,594.4 796.5,611.4 797.3,604.4 798.1,617.3 798.8,601.6 799.6,600 800.4,587.9 801.2,599 802,632.2 802.7,631.8 803.5,642.7 804.3,630.3 805.1,612.5 805.9,633.8 806.6,673.7 807.4,662.9 808.2,664.9 809,642.9 809.8,651.2 810.5,648.9 811.3,631.5 812.1,668.2 812.9,672.2 813.6,640.4 814.4,664.7 815.2,682.4 816,701.4 816.8,698.8 817.5,710.9 818.3,688.2 819.1,693.1 819.9,686.6 820.7,704.4 821.4,715.3 822.2,720.3 823,694.5 823.8,734.8 824.5,712.3 825.3,713.2 826.1,705.8 826.9,716.6 827.7,705.7 828.4,702.3 829.2,714.9 830,720.1 830.8,718.8 831.6,729.2 832.3,722.5 833.1,725.3 833.9,721.5 834.7,711 835.4,713.1 836.2,733.8 837,723.7 837.8,727.3 838.6,722.6 839.3,730.8 840.1,728.5 840.9,736.6 841.7,740.3 842.5,722.8 843.2,718.5 844,723.7 844.8,705 845.6,721.5 846.4,726.1 847.1,737.8 847.9,709.4 848.7,717.3 849.5,728.4 850.2,735.5 851,713.9 851.8,749.9 852.6,714.4 853.4,729.2 854.1,715.1 854.9,748.1 855.7,743.1 856.5,750.4 857.3,745.9 858,751.9 858.8,759.6 859.6,743.5 860.4,764.5 861.1,764 861.9,755.6 862.7,767.9 863.5,768.4 864.3,762.2 865,770.8 865.8,780.8 866.6,771.3 867.4,773.9 868.2,757 868.9,785.3 869.7,767.2 870.5,784.8 871.3,777.9 872,774.8 872.8,766.2 873.6,757.6 874.4,746 875.2,766.7 875.9,723.4 876.7,744.7 877.5,745 878.3,762.9 879.1,748.4 879.8,760.5 880.6,758 881.4,766.2 882.2,757.2 883,753 883.7,753.1 884.5,766.4 885.3,754.9 886.1,750.7 886.8,774.3 887.6,750.9 888.4,778.6 889.2,760.5 890,760.2 890.7,751.8 891.5,763.8 892.3,771.4 893.1,775.5 893.9,782 894.6,764.6 895.4,776.3 896.2,782.9 897,773.2 897.7,787.5 898.5,786.5 899.3,788.7 900.1,771.4 900.9,775.3 901.6,791.9 902.4,806.4 903.2,791.6 904,795.2 904.8,794.5 905.5,794.5 906.3,804.1 907.1,795 907.9,797.6 908.6,804.8 909.4,811.9 910.2,814.3 911,804.5 911.8,818.2 912.5,808.5 913.3,812.1 914.1,816.1 914.9,797.1 915.7,801 916.4,798.9 917.2,789.8 918,810.5 918.8,798.2 919.6,795.4 920.3,791 921.1,808.4 921.9,792.9 922.7,797.6 923.4,788 924.2,790.4 925,795.9 925.8,782.3 926.6,801.6 927.3,805.7 928.1,805.4 928.9,811 929.7,803.3 930.5,819.6 931.2,804.2 932,800 932.8,795.3 933.6,807.2 934.3,792.3 935.1,810.3 935.9,806 936.7,821.3 937.5,811.9 938.2,805.4 939,741.8 939.8,779.6 940.6,787.6 941.4,777.6 942.1,786.2 942.9,800.4 943.7,806.2 944.5,816.2 945.2,818.8 946,829.6 946.8,816.4 947.6,805.9 948.4,805.4 949.1,819.9 949.9,824.4 950.7,820.7 951.5,812.4 952.3,817.2 953,825.1 953.8,817.9 954.6,822.9 955.4,817.6 956.2,825.4 956.9,834.3 957.7,822.5 958.5,817.3 959.3,832.6 960,825 960.8,817.6 961.6,828 962.4,830.7 963.2,810.6 963.9,821.1 964.7,820.6 965.5,837 966.3,818.1 967.1,844.5 967.8,836.8 968.6,828.2 969.4,825.4 970.2,845.7 970.9,846.8 971.7,843.7 972.5,863.8 973.3,846.9 974.1,845.1 974.8,845.6 975.6,831.3 976.4,822.4 977.2,819.1 978,813.9 978.7,809.4 979.5,828.6 980.3,826.9 981.1,835.6 981.8,827 982.6,839.6 983.4,833.6 984.2,836.7 985,837.8 985.7,826 986.5,840 987.3,829.4 988.1,834.4 988.9,831.3 989.6,842.8 990.4,835.3 991.2,837 992,847.6 992.8,841.6 993.5,844.9 994.3,844.7 995.1,835.4 995.9,850.6 996.6,858.1 997.4,858.9 998.2,850 999,852.1 999.8,848.6 1000.5,846 1001.3,838.8 1002.1,850.5 1002.9,850.8 1003.7,860.5 1004.4,852.6 1005.2,848.6 1006,850.1 1006.8,874 1007.5,855.9 1008.3,852.4 1009.1,858.5 1009.9,875 1010.7,867.9 1011.4,862.8 1012.2,864.8 1013,873.9 1013.8,875.2 1014.6,863.9 1015.3,879.9 1016.1,862.6 1016.9,872.1 1017.7,870.4 1018.4,881.2 1019.2,876.5 1020,868.2 1020.8,882.4 1021.6,859.5 1022.3,882.2 1023.1,881.1 1023.9,873 1024.7,870.3 1025.5,868.8 1026.2,876.1 1027,875.1 1027.8,875.1 1028.6,876.1 1029.3,886.1 1030.1,855.5 1030.9,866.9 1031.7,866.2 1032.5,870.2 1033.2,863.1 1034,867 1034.8,869.8 1035.6,864.6 1036.4,885.4 1037.1,875.1 1037.9,886 1038.7,883.4 1039.5,872.4 1040.3,889 1041,883.3 1041.8,886.7 1042.6,877.5 1043.4,889.9 1044.1,894.7 1044.9,881.5 1045.7,887.2 1046.5,887.4 1047.3,879.2 1048,891.7 1048.8,888.9 1049.6,886.1 1050.4,884.8 1051.2,890.7 1051.9,881.4 1052.7,874.2 1053.5,890.5 1054.3,876.8 1055,901.2 1055.8,880 1056.6,890.8 1057.4,888.1 1058.2,891.2 1058.9,893.1 1059.7,897.2 1060.5,892 1061.3,881.5 1062.1,881.4 1062.8,889.6 1063.6,889.7 1064.4,889.9 1065.2,892 1065.9,872.5 1066.7,878.6 1067.5,881 1068.3,885.4 1069.1,890.4 1069.8,877.7 1070.6,882.7 1071.4,895 1072.2,885 1073,899.2 1073.7,889.9 1074.5,898.5 1075.3,894.3 1076.1,887.9 1076.9,887.3 1077.6,882.8 1078.4,893.1 1079.2,877.4 1080,877.9 1080.7,886 1081.5,884.3 1082.3,893 1083.1,890.3 1083.9,898.5 1084.6,891.2 1085.4,891.6 1086.2,886 1087,889.5 1087.8,891.5 1088.5,899.5 1089.3,899.6 1090.1,900.6 1090.9,897.7 1091.6,910.6 1092.4,895.3 1093.2,909.2 1094,903.5 1094.8,900.8 1095.5,904.2 1096.3,892.2 1097.1,902.6 1097.9,893.2 1098.7,895.2 1099.4,904.4 1100.2,899 1101,893.6 1101.8,902.7 1102.5,900 1103.3,903.4 1104.1,899.6 1104.9,902.5 1105.7,901.4 1106.4,897.6 1107.2,896.9 1108,905.4 1108.8,906.4 1109.6,904.2 1110.3,912 1111.1,917.6 1111.9,906.4 1112.7,917.8 1113.5,907.9 1114.2,918.4 1115,903.5 1115.8,919.2 1116.6,909.2 1117.3,905.7 1118.1,918.5 1118.9,904.8 1119.7,916.9 1120.5,921.5 1121.2,907.5 1122,907.1 1122.8,911.6 1123.6,922.6 1124.4,910.2 1125.1,911.8 1125.9,912.4 1126.7,912 1127.5,920.5 1128.2,913.9 1129,901.2 1129.8,902.8 1130.6,913.4 1131.4,912.9 1132.1,902.6 1132.9,894.5 1133.7,863.8 1134.5,899.3 1135.3,887.2 1136,886.5 1136.8,883.7 1137.6,890.3 1138.4,899.3 1139.1,900.5 1139.9,911.5 1140.7,901.3 1141.5,912.6 1142.3,908.6 1143,906.2 1143.8,916.7 1144.6,916 1145.4,922.2 1146.2,912.2 1146.9,913.9 1147.7,916.1 1148.5,913.3 1149.3,928.8 1150.1,919.3 1150.8,920.3 1151.6,923.7 1152.4,919.9 1153.2,916.7 1153.9,927.6 1154.7,929.8 1155.5,927.8 1156.3,923.9 1157.1,921 1157.8,928.1 1158.6,918.2 1159.4,929 1160.2,920.3 1161,923.2 1161.7,923.9 1162.5,916.2 1163.3,929.2 1164.1,929.6 1164.8,927.2 1165.6,926.2 1166.4,937.9 1167.2,930.8 1168,936.6 1168.7,930.9 1169.5,928.3 1170.3,935.6 1171.1,937.3 1171.9,936.9 1172.6,949.5 1173.4,936 1174.2,937.9 1175,938.9 1175.7,940.3 1176.5,940.6 1177.3,936.7 1178.1,928.7 1178.9,933.8 1179.6,925.5 1180.4,942.1 1181.2,931.8 1182,926.9 1182.8,927.1 1183.5,934.2 1184.3,928.4 1185.1,919 1185.9,932.3 1186.7,931.1 1187.4,932 1188.2,929.7 1189,924 1189.8,924.7 1190.5,938.2 1191.3,921.1 1192.1,931.7 1192.9,932.7 1193.7,923.5 1194.4,934.1 1195.2,941.6 1196,940.7 1196.8,943 1197.6,946.3 1198.3,943.3 1199.1,936.6 1199.9,938 1200.7,945.1 1201.4,926.6 1202.2,941.2 1203,934.8 1203.8,934.2 1204.6,929.5 1205.3,933.8 1206.1,928.8 1206.9,920.7 1207.7,931.2 1208.5,937.6 1209.2,931.3 1210,937.4 1210.8,935.9 1211.6,933.8 1212.3,933.7 1213.1,937.3 1213.9,932.5 1214.7,938.1 1215.5,943.4 1216.2,932.7 1217,938.3 1217.8,930.4 1218.6,939 1219.4,932.8 1220.1,933.7 1220.9,946 1221.7,941.8 1222.5,939.7 1223.3,926.5 1224,939.8 1224.8,923 1225.6,919.1 1226.4,919.2 1227.1,903.9 1227.9,924.5 1228.7,924.9 1229.5,926.6 1230.3,928.5 1231,929.9 1231.8,937.2 1232.6,942.4 1233.4,942.2 1234.2,937 1234.9,946.3 1235.7,943.9 1236.5,939.4 1237.3,900.6 1238,-139.4 1238.8,-139.4 1239.6,-139.4 1240.4,-139.4 1241.2,-139.4 1241.9,-139.4 1242.7,-139.4 1243.5,-139.4 1244.3,-139.4 1245.1,-139.4 1245.8,-139.4 1246.6,-139.4 1247.4,-105.9 1248.2,-89.2 1248.9,-41.6 1249.7,-21.5 1250.5,-139.4 1251.3,-26.5 1252.1,114.8 1252.8,277.8 1253.6,417.4 1254.4,345.5 1255.2,383.1 1256,392.3 1256.7,384.8 1257.5,394.8 1258.3,416.6 1259.1,443.3 1259.8,460.9 1260.6,420.7 1261.4,447.5 1262.2,470.9 1263,475.1 1263.7,506 1264.5,481.8 1265.3,477.6 1266.1,500.2 1266.9,399.8 1267.6,389 1268.4,430.8 1269.2,476.8 1270,461.7 1270.8,358.9 1271.5,373.9 1272.3,415.7 1273.1,414.9 1273.9,393.2 1274.6,406.5 1275.4,490.1 1276.2,478.4 1277,501 1277.8,475.1 1278.5,564.5 1279.3,505.2 1280.1,494.3 1280.9,624.7 1281.7,641.4 1282.4,621.4 1283.2,690.8 1284,715 1284.8,743.4 1285.5,776 1286.3,790.3 1287.1,802 1287.9,765.2 1288.7,766.8 1289.4,807 1290.2,791.9 1291,807 1291.8,760.2 1292.6,781.1 1293.3,791.1 1294.1,799.4 1294.9,822.9 1295.7,818.7 1296.4,826.2 1297.2,853.8 1298,834.6 1298.8,821.2 1299.6,810.3 1300.3,839.6 1301.1,867.2 1301.9,871.3 1302.7,878 1303.5,888.1 1304.2,889.7 1305,888.9 1305.8,914 1306.6,924.8 1307.4,932.4 1308.1,943.2 1308.9,942.4 1309.7,947.4 1310.5,927.8 1311.2,927.2 1312,909.8 1312.8,916.7 1313.6,920.6 1314.4,921 1315.1,928.1 1315.9,944.2 1316.7,928.8 1317.5,930.7 1318.3,937.3 1319,953.7 1319.8,935.8 1320.6,934.7 1321.4,945.1 1322.1,941.1 1322.9,936.9 1323.7,941.5 1324.5,934.1 1325.3,939.7 1326,935.6 1326.8,938 1327.6,946.2 1328.4,942.1 1329.2,921 1329.9,931.9 1330.7,924.4 1331.5,924.6 1332.3,920.1 1333,926.6 1333.8,933 1334.6,930.8 1335.4,945.3 1336.2,937.1 1336.9,933.1 1337.7,953.8 1338.5,942.4 1339.3,941.3 1340.1,939.4 1340.8,951.4 1341.6,948.9 1342.4,955.1 1343.2,949.3 1344,939.3 1344.7,929.3 1345.5,947.4 1346.3,931.5 1347.1,936.2 1347.8,940.8 1348.6,924.6 1349.4,952 1350.2,939.5 1351,938.5 1351.7,927.9 1352.5,930.6 1353.3,928.6 1354.1,941.1 1354.9,933.6 1355.6,928.7 1356.4,931.4 1357.2,929.8 1358,930.7 1358.7,929.7 1359.5,933.6 1360.3,913.3 1361.1,928.8 1361.9,939.4 1362.6,924.5 1363.4,926.5 1364.2,925.3 1365,914.5 1365.8,924 1366.5,922.2 1367.3,922.6 1368.1,914.9 1368.9,914.9 1369.6,907.5 1370.4,890.1 1371.2,903.5 1372,913.1 1372.8,894.3 1373.5,902.6 1374.3,903.8 1375.1,905.3 1375.9,905.4 1376.7,909.1 1377.4,908.7 1378.2,915.8 1379,918.1 1379.8,934.2 1380.6,934.2 1381.3,939 1382.1,929.1 1382.9,930.2 1383.7,938.5 1384.4,932.5 1385.2,922.7 1386,929.3 1386.8,943.9 1387.6,938.3 1388.3,934.7 1389.1,939.6 1389.9,937.9 1390.7,934 1391.5,939.8 1392.2,949 1393,938.9 1393.8,942.6 1394.6,940.4 1395.3,943.4 1396.1,947.3 1396.9,945.5 1397.7,939.1 1398.5,942.4 1399.2,949.7 1400,929.2 1400.8,943.5 1401.6,941.1 1402.4,933.7 1403.1,950.8 1403.9,929.2 1404.7,939.8 1405.5,928.7 1406.2,933.6 1407,926.4 1407.8,925.4 1408.6,923.8 1409.4,933.5 1410.1,929.1 1410.9,917.6 1411.7,907.5 1412.5,920.4 1413.3,912.8 1414,915 1414.8,912.6 1415.6,909.3 1416.4,927 1417.2,916 1417.9,919.9 1418.7,921.7 1419.5,926.2 1420.3,926.7 1421,928.8 1421.8,925.4 1422.6,898.6 1423.4,898.2 1424.2,914.4 1424.9,914.6 1425.7,930.9 1426.5,942.5 1427.3,939.5 1428.1,926.8 1428.8,918.4 1429.6,912.3 1430.4,929 1431.2,931.5 1431.9,940.7 1432.7,943.2 1433.5,933.2 1434.3,929 1435.1,939.1 1435.8,929 1436.6,934.9 1437.4,927.4 1438.2,911.5 1439,927.4 1439.7,928.2 1440.5,926.5 1441.3,926.5 1442.1,931.5 1442.8,927.4 1443.6,934 1444.4,928.2 1445.2,913.1 1446,923.2 1446.7,924 1447.5,925.7 1448.3,914.8 1449.1,905.6 1449.9,905.6 1450.6,909 1451.4,916.5 1452.2,920.7 1453,924 1453.8,929.9 1454.5,933.2 1455.3,931.5 1456.1,924.8 1456.9,927.4 1457.6,919 1458.4,923.2 1459.2,917.3 1460,893.9 1460.8,920.7 1461.5,931.5 1462.3,927.4 1463.1,918.2 1463.9,930.7 1464.7,920.7 1465.4,930.7 1466.2,923.2 1467,924 1467.8,929 1468.5,933.2 1469.3,954.1 1470.1,916.5 1470.9,927.4 1471.7,934.9 1472.4,947.4 1473.2,941.6 1474,948.3 1474.8,939.1 1475.6,939.9 1476.3,921.5" fill="none" stroke="#1EA6A8" stroke-width="1.9" marker-start="url(#d2)" marker-mid="url(#d2)" marker-end="url(#d2)"/>
<polyline points="416.5,878.3 417.3,874.7 418.1,873.7 418.8,868.6 419.6,867.6 420.4,864.1 421.2,864.7 422,868.7 422.7,872.2 423.5,877.7 424.3,882.4 425.1,885.5 425.8,887.4 426.6,885.8 427.4,886.9 428.2,886.5 429,885.8 429.7,888 430.5,887.5 431.3,886.5 432.1,884.9 432.9,879.6 433.6,878.1 434.4,874.9 435.2,874.5 436,874.6 436.7,871 437.5,870.1 438.3,863.3 439.1,860.5 439.9,858.3 440.6,859.3 441.4,859.1 442.2,862.9 443,863.4 443.8,861 444.5,861.4 445.3,860.4 446.1,863.5 446.9,862.3 447.6,860.5 448.4,860.5 449.2,854 450,853.9 450.8,854.4 451.5,849.7 452.3,848 453.1,840.8 453.9,835.2 454.7,828.7 455.4,826.6 456.2,823.7 457,821.8 457.8,824.2 458.6,819.2 459.3,812.4 460.1,811.6 460.9,807.6 461.7,806.3 462.4,805.5 463.2,802.5 464,802.8 464.8,803.2 465.6,800.1 466.3,795.4 467.1,790.5 467.9,789.4 468.7,790.1 469.5,791 470.2,793 471,789.2 471.8,785.8 472.6,781.9 473.3,777.8 474.1,774.5 474.9,778.5 475.7,780.8 476.5,781.9 477.2,783.1 478,783.1 478.8,783 479.6,782.8 480.4,784.7 481.1,779.4 481.9,777.4 482.7,775.6 483.5,769.1 484.2,766.8 485,766.5 485.8,761.3 486.6,757.7 487.4,740.4 488.1,717.2 488.9,700.5 489.7,700.9 490.5,713.9 491.3,722.4 492,729 492.8,734.5 493.6,739.4 494.4,747.3 495.2,754.7 495.9,758 496.7,764.2 497.5,771.9 498.3,770.7 499,769.3 499.8,770.3 500.6,766.8 501.4,769.8 502.2,773.2 502.9,773.3 503.7,778.4 504.5,779.5 505.3,776.4 506.1,775.5 506.8,764.9 507.6,749.5 508.4,735.4 509.2,727.5 509.9,740.7 510.7,756.3 511.5,768.7 512.3,776.8 513.1,780.1 513.8,781.4 514.6,780.7 515.4,785.1 516.2,782.6 517,779.8 517.7,783.1 518.5,779.5 519.3,784.9 520.1,789.1 520.8,787.6 521.6,787.3 522.4,788.1 523.2,786.4 524,784.1 524.7,781.3 525.5,779.4 526.3,777.8 527.1,775.7 527.9,773.2 528.6,773.7 529.4,775.2 530.2,775.5 531,777.8 531.8,778.7 532.5,782.9 533.3,787.7 534.1,788.7 534.9,781.1 535.6,776.6 536.4,773.8 537.2,770.8 538,770 538.8,772.6 539.5,773.9 540.3,776.1 541.1,776.3 541.9,778 542.7,779 543.4,775.2 544.2,776.7 545,771.4 545.8,765.8 546.5,764.6 547.3,761.6 548.1,759.4 548.9,758.4 549.7,754.9 550.4,751.9 551.2,749.8 552,754.2 552.8,756.7 553.6,756.2 554.3,757.8 555.1,756.8 555.9,756.5 556.7,759.2 557.4,761 558.2,757.2 559,760.8 559.8,760.5 560.6,766 561.3,769.5 562.1,767.8 562.9,770.5 563.7,772.8 564.5,775.9 565.2,777.9 566,777.5 566.8,775.2 567.6,782.1 568.3,788.7 569.1,790.7 569.9,797.6 570.7,794.4 571.5,792 572.2,796.1 573,794.3 573.8,800 574.6,808.8 575.4,813.2 576.1,817.1 576.9,816.3 577.7,812.4 578.5,812.2 579.3,811.2 580,810.1 580.8,811.2 581.6,808.5 582.4,809.7 583.1,812 583.9,814.1 584.7,820.4 585.5,820.4 586.3,821.9 587,825.2 587.8,826.8 588.6,831.1 589.4,833.9 590.2,830.2 590.9,830.8 591.7,829.2 592.5,827.7 593.3,831.3 594,828.7 594.8,829.3 595.6,828.2 596.4,826.4 597.2,825.5 597.9,827.9 598.7,831 599.5,829.4 600.3,828.6 601.1,826.2 601.8,825.9 602.6,825.9 603.4,832.1 604.2,834.1 604.9,832.4 605.7,833.7 606.5,832.4 607.3,834.9 608.1,834.1 608.8,835.5 609.6,835.8 610.4,831.9 611.2,832.4 612,836.2 612.7,832.1 613.5,830.5 614.3,835.3 615.1,829.6 615.9,834.3 616.6,833.2 617.4,828.3 618.2,825.2 619,822.7 619.7,824.3 620.5,825.4 621.3,832.8 622.1,835.3 622.9,838.3 623.6,842.5 624.4,845.5 625.2,845.8 626,846.5 626.8,846.5 627.5,841 628.3,841.6 629.1,839.5 629.9,839.7 630.6,840.5 631.4,842.5 632.2,843.6 633,842.2 633.8,843.5 634.5,840.8 635.3,842.4 636.1,844 636.9,847.6 637.7,848.2 638.4,849.2 639.2,849.5 640,848.2 640.8,848.1 641.5,846.5 642.3,846.7 643.1,846.4 643.9,844.5 644.7,844.1 645.4,841.6 646.2,838.4 647,839.5 647.8,821.4 648.6,801.1 649.3,784.6 650.1,794.4 650.9,805.8 651.7,819.5 652.5,825.3 653.2,828.1 654,833.9 654.8,838.2 655.6,840.6 656.3,844.7 657.1,846.7 657.9,853.3 658.7,860.7 659.5,866.2 660.2,870 661,869.3 661.8,872.7 662.6,873.6 663.4,874.3 664.1,876.4 664.9,873.6 665.7,871.7 666.5,868.8 667.2,864.5 668,864.2 668.8,862.6 669.6,859.6 670.4,858.7 671.1,853.6 671.9,853.3 672.7,853.9 673.5,852.1 674.3,851.3 675,844 675.8,840.3 676.6,834 677.4,834.3 678.1,839.3 678.9,839 679.7,844.8 680.5,845.4 681.3,847 682,852 682.8,849.4 683.6,849.7 684.4,849.3 685.2,843.8 685.9,845.2 686.7,845 687.5,844.2 688.3,848 689.1,845 689.8,848 690.6,851.1 691.4,848.3 692.2,851.7 692.9,849 693.7,849.1 694.5,849.4 695.3,849 696.1,847.8 696.8,847.2 697.6,846.1 698.4,844.1 699.2,844.6 700,843 700.7,844.4 701.5,847.1 702.3,851.9 703.1,852.6 703.8,855.2 704.6,854.7 705.4,851.2 706.2,855.4 707,856 707.7,857.2 708.5,860.5 709.3,857.5 710.1,857.4 710.9,858.5 711.6,859.3 712.4,859.3 713.2,861 714,859.6 714.7,858.1 715.5,862.4 716.3,861.9 717.1,861.8 717.9,860.8 718.6,855.4 719.4,851.1 720.2,848.3 721,848.3 721.8,848.8 722.5,848.4 723.3,850.8 724.1,848.5 724.9,850.7 725.7,851 726.4,850.5 727.2,855.6 728,851.3 728.8,851.9 729.5,851.5 730.3,850.1 731.1,851 731.9,846.7 732.7,845.9 733.4,845.6 734.2,844 735,846.5 735.8,843.1 736.6,837.7 737.3,835.6 738.1,833.2 738.9,829.5 739.7,829.8 740.4,823 741.2,820.8 742,824.7 742.8,821.8 743.6,825.4 744.3,827.4 745.1,825.2 745.9,829.9 746.7,830.4 747.5,824.2 748.2,823.7 749,820.5 749.8,815.5 750.6,813.6 751.3,810.9 752.1,811.1 752.9,812 753.7,812.1 754.5,809.8 755.2,801.9 756,800.9 756.8,801.9 757.6,801.6 758.4,800.6 759.1,799.6 759.9,793.8 760.7,795.8 761.5,794.4 762.3,791.6 763,788.9 763.8,774.8 764.6,771.1 765.4,761.8 766.1,755.3 766.9,752.5 767.7,748.9 768.5,748 769.3,750.1 770,742.2 770.8,735.2 771.6,728.1 772.4,721.8 773.2,719.7 773.9,714.5 774.7,702 775.5,687.5 776.3,681.5 777,669.6 777.8,668.3 778.6,665.8 779.4,663.8 780.2,665.9 780.9,659 781.7,654.9 782.5,643.3 783.3,635.4 784.1,626.8 784.8,618.6 785.6,614.2 786.4,595.6 787.2,588.1 787.9,581 788.7,577 789.5,572.8 790.3,569 791.1,571.5 791.8,570.1 792.6,583.4 793.4,595.5 794.2,595.7 795,601 795.7,598.9 796.5,600.6 797.3,604.5 798.1,610.3 798.8,612.2 799.6,609.9 800.4,606.5 801.2,603.8 802,612.1 802.7,620.1 803.5,632.8 804.3,640.2 805.1,636.2 805.9,637.1 806.6,642.4 807.4,648.7 808.2,659.9 809,662 809.8,657.1 810.5,654.2 811.3,646.9 812.1,654 812.9,660.2 813.6,659.3 814.4,667.2 815.2,670.8 816,677.9 816.8,691.2 817.5,702.1 818.3,704.3 819.1,703.2 819.9,701.1 820.7,700.3 821.4,706.8 822.2,713.4 823,714.9 823.8,718.3 824.5,715.4 825.3,712.7 826.1,715.2 826.9,711 827.7,709.4 828.4,707.6 829.2,711.3 830,713.2 830.8,716.7 831.6,722.9 832.3,724.8 833.1,726.1 833.9,726.9 834.7,723 835.4,721 836.2,723.2 837,723.4 837.8,726.2 838.6,727.8 839.3,727 840.1,728.1 840.9,730.2 841.7,734.2 842.5,732.4 843.2,730.2 844,725.9 844.8,719.6 845.6,717.8 846.4,718.9 847.1,721.8 847.9,720 848.7,722.9 849.5,725.9 850.2,726.6 851,727.9 851.8,735.5 852.6,732.6 853.4,731.5 854.1,731.7 854.9,731.4 855.7,737.9 856.5,742.9 857.3,750 858,751.1 858.8,755 859.6,753.7 860.4,758.1 861.1,761.1 861.9,760.4 862.7,765.5 863.5,766.2 864.3,765.8 865,769.4 865.8,772.4 866.6,773.2 867.4,776 868.2,773 868.9,774.3 869.7,773.5 870.5,775.6 871.3,777.2 872,772.7 872.8,771.4 873.6,765 874.4,757.5 875.2,755.3 875.9,750.1 876.7,746.9 877.5,747.5 878.3,749.9 879.1,753 879.8,757.6 880.6,760.7 881.4,761.6 882.2,762.3 883,759.9 883.7,758.4 884.5,758.5 885.3,758 886.1,757.5 886.8,762.2 887.6,758.8 888.4,764.1 889.2,766.4 890,763.2 890.7,763.4 891.5,760.1 892.3,762.6 893.1,766.7 893.9,774.8 894.6,775.8 895.4,777.3 896.2,779.2 897,777.5 897.7,782.8 898.5,785.3 899.3,786.8 900.1,786.6 900.9,784.1 901.6,785.3 902.4,789.4 903.2,794 904,798.6 904.8,799.4 905.5,796.9 906.3,799.9 907.1,800.1 907.9,800.9 908.6,803.4 909.4,805.4 910.2,809.9 911,810.3 911.8,811.3 912.5,809.2 913.3,808.1 914.1,810.6 914.9,805.7 915.7,803.9 916.4,800.7 917.2,794.6 918,798.4 918.8,798.9 919.6,798.8 920.3,799.3 921.1,798.8 921.9,797.7 922.7,798.2 923.4,797.6 924.2,793.6 925,794.3 925.8,790.9 926.6,794 927.3,797.5 928.1,799.7 928.9,806.1 929.7,806.4 930.5,809.5 931.2,809.2 932,806.8 932.8,805 933.6,802.2 934.3,799.6 935.1,801.9 935.9,804.3 936.7,807.6 937.5,812 938.2,805.5 939,795.4 939.8,783.6 940.6,777.2 941.4,779.5 942.1,789.5 942.9,799.1 943.7,804.9 944.5,813.8 945.2,816.3 946,819.8 946.8,820.7 947.6,818.4 948.4,815.5 949.1,813.4 949.9,815.3 950.7,818.6 951.5,820.2 952.3,819.5 953,819.6 953.8,819 954.6,821.4 955.4,821.5 956.2,821.6 956.9,825.3 957.7,825.3 958.5,825.2 959.3,826.9 960,824.9 960.8,823.8 961.6,826.3 962.4,826 963.2,823.2 963.9,824.4 964.7,822.9 965.5,824.5 966.3,826.3 967.1,831.6 967.8,835.4 968.6,833.5 969.4,835.7 970.2,837.6 970.9,841.1 971.7,845.2 972.5,853.7 973.3,854.3 974.1,850 974.8,844.2 975.6,833.2 976.4,826 977.2,819.5 978,814.2 978.7,815.9 979.5,821.5 980.3,825.2 981.1,830.4 981.8,834.6 982.6,836.1 983.4,836.1 984.2,835.6 985,837.8 985.7,834.8 986.5,836.3 987.3,834.7 988.1,834 988.9,835.3 989.6,836 990.4,837.3 991.2,837.9 992,841.6 992.8,841.3 993.5,843.5 994.3,845.3 995.1,842.6 995.9,844.7 996.6,847.7 997.4,850.9 998.2,854.2 999,854.7 999.8,853.3 1000.5,850.9 1001.3,848.7 1002.1,848.5 1002.9,849.1 1003.7,852.5 1004.4,855.7 1005.2,855.4 1006,855.4 1006.8,858.6 1007.5,859.4 1008.3,860.3 1009.1,862 1009.9,862.2 1010.7,864.9 1011.4,867.3 1012.2,868.8 1013,868.6 1013.8,870.4 1014.6,870.7 1015.3,874.2 1016.1,871.7 1016.9,870.7 1017.7,871.8 1018.4,871.9 1019.2,875 1020,874.1 1020.8,876.8 1021.6,871.9 1022.3,873.2 1023.1,876.2 1023.9,874.1 1024.7,876.5 1025.5,873.5 1026.2,872.4 1027,872.8 1027.8,873.7 1028.6,874.4 1029.3,876 1030.1,873 1030.9,871 1031.7,868.7 1032.5,864.9 1033.2,864.7 1034,867.2 1034.8,870 1035.6,869.9 1036.4,875.3 1037.1,877.4 1037.9,881.2 1038.7,885.5 1039.5,881.3 1040.3,883.6 1041,882.6 1041.8,883.4 1042.6,884.6 1043.4,884.8 1044.1,887.4 1044.9,886.3 1045.7,888.5 1046.5,888 1047.3,884.6 1048,886.9 1048.8,887.3 1049.6,887.1 1050.4,888.3 1051.2,888 1051.9,886.2 1052.7,883.5 1053.5,884.8 1054.3,881.7 1055,886.2 1055.8,887.5 1056.6,887.6 1057.4,890.2 1058.2,887.9 1058.9,890.9 1059.7,892.3 1060.5,893.2 1061.3,890.7 1062.1,887.3 1062.8,885.1 1063.6,884.3 1064.4,886.2 1065.2,888.5 1065.9,884.5 1066.7,881.9 1067.5,879.8 1068.3,879.4 1069.1,885.1 1069.8,885.9 1070.6,886.7 1071.4,889 1072.2,888 1073,893 1073.7,894.2 1074.5,893.3 1075.3,894.3 1076.1,891.2 1076.9,890.5 1077.6,886.9 1078.4,886.5 1079.2,884.1 1080,881.9 1080.7,883.1 1081.5,882.5 1082.3,886.9 1083.1,890 1083.9,893 1084.6,894.6 1085.4,894.4 1086.2,893.6 1087,891.7 1087.8,891.9 1088.5,893.8 1089.3,896.7 1090.1,898.8 1090.9,899.9 1091.6,902.3 1092.4,901.4 1093.2,903.4 1094,904.7 1094.8,902.6 1095.5,904.6 1096.3,900.8 1097.1,900.7 1097.9,898.8 1098.7,896.3 1099.4,898.8 1100.2,897.9 1101,898 1101.8,899.6 1102.5,898.6 1103.3,899.5 1104.1,900.9 1104.9,901.5 1105.7,902.9 1106.4,902.3 1107.2,902 1108,902.9 1108.8,904.1 1109.6,905.8 1110.3,909.3 1111.1,912.2 1111.9,911.7 1112.7,914.1 1113.5,912.9 1114.2,913 1115,912.3 1115.8,912.7 1116.6,913 1117.3,910 1118.1,912.9 1118.9,909.4 1119.7,910.9 1120.5,914.5 1121.2,911.9 1122,912.4 1122.8,911.2 1123.6,911.4 1124.4,912.2 1125.1,913.6 1125.9,914 1126.7,911.7 1127.5,914.1 1128.2,914.6 1129,912.1 1129.8,910 1130.6,908.4 1131.4,906.1 1132.1,903.7 1132.9,900.1 1133.7,894.6 1134.5,891 1135.3,887.2 1136,887.5 1136.8,891.6 1137.6,893.5 1138.4,898.1 1139.1,901.8 1139.9,906.1 1140.7,906.2 1141.5,907.9 1142.3,909.4 1143,908.2 1143.8,911.7 1144.6,912.5 1145.4,915.6 1146.2,917 1146.9,916.5 1147.7,916.7 1148.5,915.6 1149.3,919.9 1150.1,921.5 1150.8,922.6 1151.6,925.1 1152.4,923.3 1153.2,922.9 1153.9,923.3 1154.7,923.7 1155.5,924.9 1156.3,926.5 1157.1,925 1157.8,924.6 1158.6,922.4 1159.4,924.1 1160.2,924.6 1161,924 1161.7,925.4 1162.5,922.7 1163.3,924.8 1164.1,926.3 1164.8,927.1 1165.6,929.4 1166.4,931.5 1167.2,931.8 1168,934.1 1168.7,935.2 1169.5,933.2 1170.3,934.4 1171.1,934.7 1171.9,936.1 1172.6,941 1173.4,941.1 1174.2,941.4 1175,940.5 1175.7,937.2 1176.5,937.6 1177.3,937.1 1178.1,934.7 1178.9,933.1 1179.6,929.6 1180.4,930.6 1181.2,931.2 1182,929.5 1182.8,929.8 1183.5,927.9 1184.3,927.3 1185.1,926.6 1185.9,928.4 1186.7,928 1187.4,928.9 1188.2,931.3 1189,929.5 1189.8,928.1 1190.5,929.5 1191.3,927.7 1192.1,929.4 1192.9,931.7 1193.7,929.6 1194.4,933.2 1195.2,935.9 1196,937.9 1196.8,942.4 1197.6,945.4 1198.3,944.6 1199.1,942 1199.9,939.8 1200.7,939.1 1201.4,935.2 1202.2,936.1 1203,935.3 1203.8,932.7 1204.6,933.3 1205.3,931.5 1206.1,930.1 1206.9,927.8 1207.7,929.1 1208.5,930.6 1209.2,931.3 1210,935.1 1210.8,936.2 1211.6,935.5 1212.3,936.1 1213.1,936.1 1213.9,935.4 1214.7,936.4 1215.5,938.2 1216.2,936.6 1217,937.6 1217.8,935.8 1218.6,934.7 1219.4,934.7 1220.1,933.7 1220.9,937.2 1221.7,937.8 1222.5,939.3 1223.3,937.2 1224,933.9 1224.8,928.3 1225.6,922.9 1226.4,921.1 1227.1,915.3 1227.9,919.9 1228.7,924.1 1229.5,927.2 1230.3,930.4 1231,931.9 1231.8,935 1232.6,938.9 1233.4,940.3 1234.2,940.1 1234.9,941.1 1235.7,941.2 1236.5,940.5 1237.3,932.5 1238,365.6 1238.8,-139.4 1239.6,-139.4 1240.4,-139.4 1241.2,-139.4 1241.9,-139.4 1242.7,-139.4 1243.5,-139.4 1244.3,-139.4 1245.1,-139.4 1245.8,-139.4 1246.6,-139.4 1247.4,-139.4 1248.2,-139.4 1248.9,-106.8 1249.7,-64.6 1250.5,-73.5 1251.3,-57.9 1252.1,-18.8 1252.8,56 1253.6,195.9 1254.4,288.9 1255.2,356 1256,384.6 1256.7,376.4 1257.5,388.8 1258.3,397.1 1259.1,409.9 1259.8,428.9 1260.6,435.4 1261.4,443.1 1262.2,450 1263,453.6 1263.7,474.9 1264.5,483.4 1265.3,485.1 1266.1,491.4 1266.9,464.8 1267.6,441.6 1268.4,429.9 1269.2,424.1 1270,439.5 1270.8,432 1271.5,417.8 1272.3,402.6 1273.1,390.9 1273.9,399.4 1274.6,407.6 1275.4,426.2 1276.2,442.1 1277,469 1277.8,486.2 1278.5,504.8 1279.3,511.4 1280.1,509.8 1280.9,547.2 1281.7,566.4 1282.4,595.5 1283.2,644.6 1284,667.2 1284.8,692.6 1285.5,731.3 1286.3,756.2 1287.1,777.9 1287.9,783.4 1288.7,781.1 1289.4,785.2 1290.2,782.7 1291,793.2 1291.8,791.5 1292.6,785 1293.3,784.8 1294.1,782.9 1294.9,798.6 1295.7,808 1296.4,816.8 1297.2,830.4 1298,833.3 1298.8,833.9 1299.6,830 1300.3,826.4 1301.1,834.6 1301.9,847.1 1302.7,864 1303.5,876.2 1304.2,881.8 1305,886.2 1305.8,895.2 1306.6,904.4 1307.4,915 1308.1,928.6 1308.9,935.7 1309.7,941.4 1310.5,940.2 1311.2,936.2 1312,928.1 1312.8,923.3 1313.6,922.5 1314.4,921.5 1315.1,925.8 1315.9,932.1 1316.7,934 1317.5,936.3 1318.3,938.5 1319,941 1319.8,941.7 1320.6,941.1 1321.4,942 1322.1,938.9 1322.9,939.1 1323.7,940.6 1324.5,938.1 1325.3,937.7 1326,937.3 1326.8,935.8 1327.6,938.1 1328.4,938.4 1329.2,935 1329.9,933.6 1330.7,928.5 1331.5,924.6 1332.3,924.6 1333,923.4 1333.8,925.2 1334.6,928.6 1335.4,936.1 1336.2,939.6 1336.9,940.1 1337.7,945.5 1338.5,945.2 1339.3,946.4 1340.1,946.8 1340.8,944.3 1341.6,944.4 1342.4,947 1343.2,949.2 1344,946.4 1344.7,941.9 1345.5,940 1346.3,935.9 1347.1,935.1 1347.8,937.6 1348.6,933 1349.4,938.6 1350.2,940 1351,939.7 1351.7,940.5 1352.5,935.8 1353.3,933.4 1354.1,933.5 1354.9,932.5 1355.6,930.5 1356.4,930.4 1357.2,927.5 1358,926.7 1358.7,926.7 1359.5,927.8 1360.3,925.7 1361.1,926.2 1361.9,928.7 1362.6,926.6 1363.4,929.6 1364.2,928.8 1365,922.9 1365.8,920.6 1366.5,918 1367.3,916.5 1368.1,916.4 1368.9,914.1 1369.6,910.6 1370.4,902.9 1371.2,902.4 1372,903.9 1372.8,902 1373.5,905 1374.3,905.2 1375.1,903.5 1375.9,906.1 1376.7,909.1 1377.4,912.6 1378.2,916.7 1379,920.4 1379.8,926.5 1380.6,931.6 1381.3,934.4 1382.1,935.3 1382.9,933.8 1383.7,934.9 1384.4,933.4 1385.2,932 1386,931.9 1386.8,933.1 1387.6,934.6 1388.3,937.7 1389.1,940.2 1389.9,939 1390.7,938.1 1391.5,939.3 1392.2,941.5 1393,941.6 1393.8,942.3 1394.6,941.5 1395.3,939.8 1396.1,941.6 1396.9,942.1 1397.7,941.8 1398.5,941.4 1399.2,942.7 1400,939.6 1400.8,941 1401.6,940.7 1402.4,937.2 1403.1,942.1 1403.9,938.8 1404.7,936.7 1405.5,934.2 1406.2,929.5 1407,928.7 1407.8,925.2 1408.6,923.9 1409.4,923.6 1410.1,924 1410.9,922.3 1411.7,919.9 1412.5,917.7 1413.3,914.4 1414,913.7 1414.8,914.9 1415.6,912.7 1416.4,916.7 1417.2,917.5 1417.9,919.4 1418.7,922.2 1419.5,922.2 1420.3,924.6 1421,926.5 1421.8,923.7 1422.6,915.1 1423.4,907.2 1424.2,910.1 1424.9,912.5 1425.7,922.4 1426.5,931.7 1427.3,934.1 1428.1,934.8 1428.8,931.1 1429.6,924.3 1430.4,921.6 1431.2,922.8 1431.9,928.4 1432.7,936.1 1433.5,937.2 1434.3,936.6 1435.1,936.1 1435.8,932.6 1436.6,933 1437.4,932.6 1438.2,925.7 1439,925.3 1439.7,923.6 1440.5,923.4 1441.3,927.1 1442.1,928.2 1442.8,928 1443.6,929.9 1444.4,930.3 1445.2,925.7 1446,924.6 1446.7,922.1 1447.5,921.5 1448.3,921.9 1449.1,918 1449.9,913.4 1450.6,909.2 1451.4,909.6 1452.2,912.9 1453,917.5 1453.8,922.8 1454.5,926.9 1455.3,929.7 1456.1,929.9 1456.9,929.2 1457.6,925.7 1458.4,923.6 1459.2,921.7 1460,913.4 1460.8,913.8 1461.5,915.9 1462.3,918.4 1463.1,924.4 1463.9,926.9 1464.7,924.2 1465.4,925.1 1466.2,926.3 1467,924.6 1467.8,926.7 1468.5,927.4 1469.3,935.1 1470.1,933.2 1470.9,932.8 1471.7,933.2 1472.4,931.5 1473.2,937.8 1474,943 1474.8,944.1 1475.6,942.2 1476.3,937.2" fill="none" stroke="#483490" stroke-width="7" stroke-linejoin="round" stroke-linecap="round"/></g>
<text x="384.6" y="985" font-size="36.5" text-anchor="end">170</text>
<text x="384.6" y="901.4" font-size="36.5" text-anchor="end">270</text>
<text x="384.6" y="817.8" font-size="36.5" text-anchor="end">370</text>
<text x="384.6" y="734.2" font-size="36.5" text-anchor="end">470</text>
<text x="384.6" y="650.6" font-size="36.5" text-anchor="end">570</text>
<text x="384.6" y="567" font-size="36.5" text-anchor="end">670</text>
<text x="416" y="1028.3" font-size="36.5" text-anchor="middle">2000</text>
<text x="619.2" y="1028.3" font-size="36.5" text-anchor="middle">2005</text>
<text x="822.4" y="1028.3" font-size="36.5" text-anchor="middle">2010</text>
<text x="1025.5" y="1028.3" font-size="36.5" text-anchor="middle">2015</text>
<text x="1228.6" y="1028.3" font-size="36.5" text-anchor="middle">2020</text>
<text x="1431.9" y="1028.3" font-size="36.5" text-anchor="middle">2025</text>
<text x="949" y="498.6" font-size="56" text-anchor="middle" font-weight="bold" textLength="283" lengthAdjust="spacingAndGlyphs">Since 2000</text>
<rect x="402.5" y="1566" width="1116.8" height="3" fill="#858585"/>
<rect x="402.5" y="1442" width="1116.8" height="3" fill="#858585"/>
<rect x="402.5" y="1318" width="1116.8" height="3" fill="#858585"/>
<rect x="402.5" y="1194" width="1116.8" height="3" fill="#858585"/>
<rect x="401" y="1690" width="1118.3" height="3" fill="#858585"/>
<rect x="401" y="1194" width="3" height="499" fill="#858585"/>
<g clip-path="url(#cB)"><polyline points="391.7,1579.9 411.5,1598.5 431.3,1524.1 451,1493.1 470.8,1567.5 490.5,1493.1 510.3,1536.5 530.1,1480.7 549.8,1362.9 569.6,1480.7 589.3,1486.9 609.1,1474.5 628.8,1474.5 648.6,1511.7 668.4,1480.7 688.1,1530.3 707.9,1486.9 727.6,1375.3 747.4,1449.7 767.2,1455.9 786.9,1468.3 806.7,1387.7 826.4,1319.5 846.2,1319.5 866,1344.3 885.7,1400.1 905.5,1431.1 925.2,1455.9 945,1499.3 964.8,1524.1 984.5,1511.7 1004.3,1462.1 1024,1480.7 1043.8,1418.7 1063.5,1449.7 1083.3,1406.3 1103.1,1232.7 1122.8,1431.1 1142.6,1511.7 1162.3,1480.7 1182.1,1412.5 1201.9,1505.5 1221.6,1431.1 1241.4,1505.5 1261.1,1449.7 1280.9,1455.9 1300.7,1493.1 1320.4,1524.1 1340.2,1679.1 1359.9,1400.1 1379.7,1480.7 1399.4,1536.5 1419.2,1629.5 1439,1586.1 1458.7,1635.7 1478.5,1567.5 1498.2,1573.7 1518,1437.3" fill="none" stroke="#1EA6A8" stroke-width="3" stroke-linejoin="round" marker-start="url(#d3)" marker-mid="url(#d3)" marker-end="url(#d3)"/>
<polyline points="391.7,1483.8 411.5,1545.8 431.3,1553.5 451,1548.9 470.8,1545.8 490.5,1519.5 510.3,1522.5 530.1,1519.5 549.8,1468.3 569.6,1465.2 589.3,1452.8 609.1,1451.2 628.8,1479.2 648.6,1486.9 668.4,1485.3 688.1,1499.3 707.9,1502.4 727.6,1468.3 747.4,1460.5 767.2,1442 786.9,1437.3 806.7,1440.4 826.4,1411 846.2,1376.8 866,1345.8 885.7,1349 905.5,1373.8 925.2,1407.8 945,1446.6 964.8,1477.6 984.5,1497.8 1004.3,1499.3 1024,1494.7 1043.8,1468.3 1063.5,1452.8 1083.3,1438.8 1103.1,1376.8 1122.8,1380 1142.6,1395.5 1162.3,1414 1182.1,1459 1201.9,1477.6 1221.6,1457.5 1241.4,1463.7 1261.1,1473 1280.9,1460.5 1300.7,1476 1320.4,1480.7 1340.2,1538 1359.9,1524.1 1379.7,1521 1399.4,1524.1 1419.2,1511.7 1439,1558.2 1458.7,1597 1478.5,1604.7 1498.2,1590.8 1518,1553.5" fill="none" stroke="#483490" stroke-width="10" stroke-linejoin="round" stroke-linecap="round"/></g>
<text x="371" y="1703.3" font-size="36.5" text-anchor="end">190</text>
<text x="371" y="1579.3" font-size="36.5" text-anchor="end">210</text>
<text x="371" y="1455.3" font-size="36.5" text-anchor="end">230</text>
<text x="371" y="1331.3" font-size="36.5" text-anchor="end">250</text>
<text x="371" y="1207.3" font-size="36.5" text-anchor="end">270</text>
<text x="403.5" y="1747.3" font-size="36.5" text-anchor="middle">Jan</text>
<text x="570.1" y="1747.3" font-size="36.5" text-anchor="middle">Mar</text>
<text x="742.3" y="1747.3" font-size="36.5" text-anchor="middle">May</text>
<text x="914.4" y="1747.3" font-size="36.5" text-anchor="middle">Jul</text>
<text x="1089.4" y="1747.3" font-size="36.5" text-anchor="middle">Sep</text>
<text x="1261.6" y="1747.3" font-size="36.5" text-anchor="middle">Nov</text>
<text x="1433.8" y="1747.3" font-size="36.5" text-anchor="middle">Jan</text>
<text x="915.7" y="1168.3" font-size="56" text-anchor="middle" font-weight="bold" textLength="402" lengthAdjust="spacingAndGlyphs">Last 12 Months</text>
<rect x="1.5" y="1.5" width="3128" height="2270" fill="none" stroke="#8a8a8a" stroke-width="3"/>
</svg>
</body></html>
